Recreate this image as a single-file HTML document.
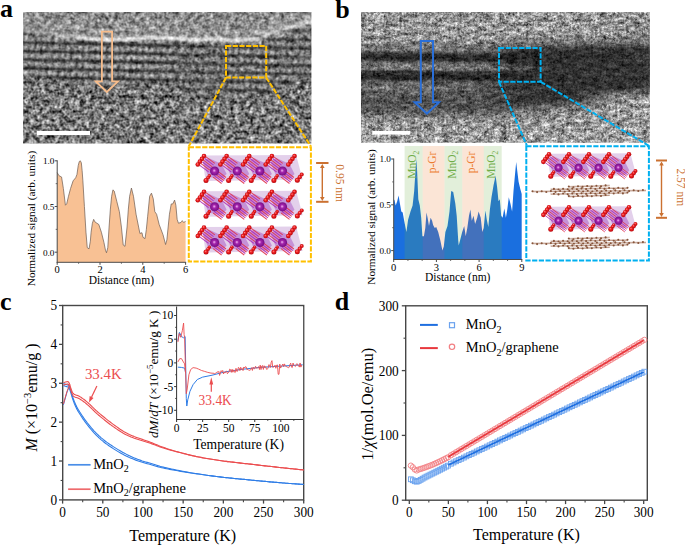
<!DOCTYPE html><html><head><meta charset="utf-8"><style>html,body{margin:0;padding:0;background:#fff;}svg{display:block;}text{font-family:"Liberation Serif",serif;}</style></head><body>
<svg width="685" height="545" viewBox="0 0 685 545">
<defs>
<radialGradient id="gR" cx="0.5" cy="0.5" fx="0.38" fy="0.35" r="0.55"><stop offset="0" stop-color="#ff8c8c"/><stop offset="0.4" stop-color="#f02424"/><stop offset="1" stop-color="#b00008"/></radialGradient>
<radialGradient id="gM" cx="0.5" cy="0.5" fx="0.45" fy="0.45" r="0.55"><stop offset="0" stop-color="#f4b4f4"/><stop offset="0.35" stop-color="#a424ac"/><stop offset="1" stop-color="#6c0a7c"/></radialGradient>
<filter id="nzA" x="23" y="12" width="290" height="132" filterUnits="userSpaceOnUse" color-interpolation-filters="sRGB">
<feGaussianBlur in="SourceGraphic" stdDeviation="0.5" result="src"/>
<feColorMatrix in="src" type="matrix" values="1 0 0 0 0 1 0 0 0 0 1 0 0 0 0 0 0 0 0 1" result="base"/>
<feColorMatrix in="src" type="matrix" values="0 1 0 0 0 0 1 0 0 0 0 1 0 0 0 0 0 0 0 1" result="amp"/>
<feTurbulence type="fractalNoise" baseFrequency="0.2" numOctaves="2" seed="7" result="n0"/><feGaussianBlur in="n0" stdDeviation="0.5" result="n1"/>
<feTurbulence type="fractalNoise" baseFrequency="0.45" numOctaves="1" seed="12" result="m0"/><feGaussianBlur in="m0" stdDeviation="0.35" result="m1"/>
<feComposite in="n1" in2="m1" operator="arithmetic" k1="0" k2="0.65" k3="0.35" k4="0" result="n2"/>
<feColorMatrix in="n2" type="matrix" values="1 0 0 0 0 1 0 0 0 0 1 0 0 0 0 0 0 0 0 1" result="n"/>
<feComposite in="amp" in2="n" operator="arithmetic" k1="3.6" k2="-1.8" k3="0" k4="0.5" result="t"/>
<feComposite in="base" in2="t" operator="arithmetic" k1="0" k2="1" k3="1" k4="-0.5"/>
</filter>
<filter id="nzB" x="361" y="12" width="290" height="132" filterUnits="userSpaceOnUse" color-interpolation-filters="sRGB">
<feGaussianBlur in="SourceGraphic" stdDeviation="0.5" result="src"/>
<feColorMatrix in="src" type="matrix" values="1 0 0 0 0 1 0 0 0 0 1 0 0 0 0 0 0 0 0 1" result="base"/>
<feColorMatrix in="src" type="matrix" values="0 1 0 0 0 0 1 0 0 0 0 1 0 0 0 0 0 0 0 1" result="amp"/>
<feTurbulence type="fractalNoise" baseFrequency="0.12 0.22" numOctaves="4" seed="11" result="n0"/><feGaussianBlur in="n0" stdDeviation="0.3" result="n1"/>
<feTurbulence type="fractalNoise" baseFrequency="0.45" numOctaves="2" seed="16" result="m0"/><feGaussianBlur in="m0" stdDeviation="0.35" result="m1"/>
<feComposite in="n1" in2="m1" operator="arithmetic" k1="0" k2="0.5" k3="0.5" k4="0" result="n2"/>
<feColorMatrix in="n2" type="matrix" values="1 0 0 0 0 1 0 0 0 0 1 0 0 0 0 0 0 0 0 1" result="n"/>
<feComposite in="amp" in2="n" operator="arithmetic" k1="4.0" k2="-2.0" k3="0" k4="0.5" result="t"/>
<feComposite in="base" in2="t" operator="arithmetic" k1="0" k2="1" k3="1" k4="-0.5"/>
</filter>
<filter id="hb" x="0" y="0" width="685" height="200" filterUnits="userSpaceOnUse"><feGaussianBlur stdDeviation="5 0.6"/></filter>
<filter id="lb" x="0" y="0" width="685" height="200" filterUnits="userSpaceOnUse"><feGaussianBlur stdDeviation="0.8"/></filter>
<pattern id="lat" width="6" height="8.6" patternUnits="userSpaceOnUse" patternTransform="translate(0,1) rotate(1.2)">
<rect x="0" y="5.2" width="6" height="2.8" fill="rgb(42,30,0)"/>
<circle cx="3" cy="2.5" r="1.7" fill="rgb(215,45,0)"/>
<circle cx="0" cy="2.5" r="1.1" fill="rgb(70,35,0)"/><circle cx="6" cy="2.5" r="1.1" fill="rgb(70,35,0)"/>
</pattern>
<clipPath id="cA"><rect x="23.2" y="12.1" width="288.2" height="131.4"/></clipPath>
<clipPath id="cB"><rect x="361" y="11.9" width="288.9" height="130.9"/></clipPath>
</defs>
<rect width="685" height="545" fill="#fff"/>
<g clip-path="url(#cA)"><g filter="url(#nzA)">
<g filter="url(#hb)">
<linearGradient id="ga0" gradientUnits="userSpaceOnUse" x1="0" y1="8" x2="0" y2="148"><stop offset="0.000" stop-color="rgb(138,92,0)"/><stop offset="0.078" stop-color="rgb(140,89,0)"/><stop offset="0.087" stop-color="rgb(141,83,0)"/><stop offset="0.092" stop-color="rgb(143,79,0)"/><stop offset="0.101" stop-color="rgb(144,77,0)"/><stop offset="0.103" stop-color="rgb(144,77,0)"/><stop offset="0.112" stop-color="rgb(143,76,0)"/><stop offset="0.138" stop-color="rgb(139,71,0)"/><stop offset="0.147" stop-color="rgb(146,63,0)"/><stop offset="0.154" stop-color="rgb(153,55,0)"/><stop offset="0.163" stop-color="rgb(154,53,0)"/><stop offset="0.166" stop-color="rgb(154,53,0)"/><stop offset="0.175" stop-color="rgb(129,75,0)"/><stop offset="0.181" stop-color="rgb(107,95,0)"/><stop offset="0.190" stop-color="rgb(100,101,0)"/><stop offset="0.217" stop-color="rgb(98,101,0)"/><stop offset="0.226" stop-color="rgb(98,101,0)"/><stop offset="0.474" stop-color="rgb(102,107,0)"/><stop offset="0.483" stop-color="rgb(104,109,0)"/><stop offset="0.546" stop-color="rgb(118,130,0)"/><stop offset="0.555" stop-color="rgb(118,130,0)"/><stop offset="1.000" stop-color="rgb(120,130,0)"/></linearGradient>
<rect x="14.0" y="8" width="8.6" height="140" fill="url(#ga0)"/>
<linearGradient id="ga1" gradientUnits="userSpaceOnUse" x1="0" y1="8" x2="0" y2="148"><stop offset="0.000" stop-color="rgb(138,92,0)"/><stop offset="0.078" stop-color="rgb(140,89,0)"/><stop offset="0.087" stop-color="rgb(140,87,0)"/><stop offset="0.092" stop-color="rgb(142,83,0)"/><stop offset="0.101" stop-color="rgb(145,77,0)"/><stop offset="0.103" stop-color="rgb(145,77,0)"/><stop offset="0.112" stop-color="rgb(144,77,0)"/><stop offset="0.138" stop-color="rgb(140,72,0)"/><stop offset="0.147" stop-color="rgb(142,68,0)"/><stop offset="0.154" stop-color="rgb(149,61,0)"/><stop offset="0.163" stop-color="rgb(157,53,0)"/><stop offset="0.166" stop-color="rgb(156,53,0)"/><stop offset="0.175" stop-color="rgb(147,61,0)"/><stop offset="0.181" stop-color="rgb(124,81,0)"/><stop offset="0.190" stop-color="rgb(100,101,0)"/><stop offset="0.217" stop-color="rgb(98,101,0)"/><stop offset="0.226" stop-color="rgb(98,101,0)"/><stop offset="0.474" stop-color="rgb(102,107,0)"/><stop offset="0.483" stop-color="rgb(103,107,0)"/><stop offset="0.546" stop-color="rgb(117,128,0)"/><stop offset="0.555" stop-color="rgb(118,130,0)"/><stop offset="1.000" stop-color="rgb(120,130,0)"/></linearGradient>
<rect x="22.0" y="8" width="8.6" height="140" fill="url(#ga1)"/>
<linearGradient id="ga2" gradientUnits="userSpaceOnUse" x1="0" y1="8" x2="0" y2="148"><stop offset="0.000" stop-color="rgb(138,93,0)"/><stop offset="0.087" stop-color="rgb(140,89,0)"/><stop offset="0.100" stop-color="rgb(144,80,0)"/><stop offset="0.101" stop-color="rgb(144,79,0)"/><stop offset="0.112" stop-color="rgb(145,77,0)"/><stop offset="0.114" stop-color="rgb(145,77,0)"/><stop offset="0.125" stop-color="rgb(143,75,0)"/><stop offset="0.147" stop-color="rgb(140,72,0)"/><stop offset="0.161" stop-color="rgb(152,59,0)"/><stop offset="0.163" stop-color="rgb(155,56,0)"/><stop offset="0.175" stop-color="rgb(157,54,0)"/><stop offset="0.176" stop-color="rgb(152,58,0)"/><stop offset="0.188" stop-color="rgb(119,85,0)"/><stop offset="0.190" stop-color="rgb(110,93,0)"/><stop offset="0.204" stop-color="rgb(99,101,0)"/><stop offset="0.226" stop-color="rgb(98,101,0)"/><stop offset="0.239" stop-color="rgb(98,101,0)"/><stop offset="0.483" stop-color="rgb(102,107,0)"/><stop offset="0.496" stop-color="rgb(104,110,0)"/><stop offset="0.555" stop-color="rgb(117,129,0)"/><stop offset="0.568" stop-color="rgb(118,130,0)"/><stop offset="1.000" stop-color="rgb(120,130,0)"/></linearGradient>
<rect x="30.0" y="8" width="8.6" height="140" fill="url(#ga2)"/>
<linearGradient id="ga3" gradientUnits="userSpaceOnUse" x1="0" y1="8" x2="0" y2="148"><stop offset="0.000" stop-color="rgb(138,93,0)"/><stop offset="0.087" stop-color="rgb(140,89,0)"/><stop offset="0.100" stop-color="rgb(142,84,0)"/><stop offset="0.101" stop-color="rgb(143,84,0)"/><stop offset="0.112" stop-color="rgb(146,78,0)"/><stop offset="0.114" stop-color="rgb(147,77,0)"/><stop offset="0.125" stop-color="rgb(143,76,0)"/><stop offset="0.147" stop-color="rgb(141,72,0)"/><stop offset="0.161" stop-color="rgb(146,65,0)"/><stop offset="0.163" stop-color="rgb(149,62,0)"/><stop offset="0.175" stop-color="rgb(158,55,0)"/><stop offset="0.176" stop-color="rgb(157,56,0)"/><stop offset="0.188" stop-color="rgb(140,69,0)"/><stop offset="0.190" stop-color="rgb(131,77,0)"/><stop offset="0.204" stop-color="rgb(100,101,0)"/><stop offset="0.226" stop-color="rgb(98,101,0)"/><stop offset="0.239" stop-color="rgb(98,101,0)"/><stop offset="0.483" stop-color="rgb(102,106,0)"/><stop offset="0.496" stop-color="rgb(103,108,0)"/><stop offset="0.555" stop-color="rgb(116,128,0)"/><stop offset="0.568" stop-color="rgb(118,130,0)"/><stop offset="1.000" stop-color="rgb(120,130,0)"/></linearGradient>
<rect x="38.0" y="8" width="8.6" height="140" fill="url(#ga3)"/>
<linearGradient id="ga4" gradientUnits="userSpaceOnUse" x1="0" y1="8" x2="0" y2="148"><stop offset="0.000" stop-color="rgb(137,93,0)"/><stop offset="0.087" stop-color="rgb(140,89,0)"/><stop offset="0.100" stop-color="rgb(140,89,0)"/><stop offset="0.101" stop-color="rgb(141,88,0)"/><stop offset="0.112" stop-color="rgb(147,79,0)"/><stop offset="0.114" stop-color="rgb(149,77,0)"/><stop offset="0.125" stop-color="rgb(144,77,0)"/><stop offset="0.147" stop-color="rgb(142,73,0)"/><stop offset="0.161" stop-color="rgb(140,71,0)"/><stop offset="0.163" stop-color="rgb(144,68,0)"/><stop offset="0.175" stop-color="rgb(160,55,0)"/><stop offset="0.176" stop-color="rgb(162,53,0)"/><stop offset="0.188" stop-color="rgb(160,53,0)"/><stop offset="0.190" stop-color="rgb(151,61,0)"/><stop offset="0.204" stop-color="rgb(100,101,0)"/><stop offset="0.226" stop-color="rgb(99,101,0)"/><stop offset="0.239" stop-color="rgb(98,101,0)"/><stop offset="0.483" stop-color="rgb(102,106,0)"/><stop offset="0.496" stop-color="rgb(102,107,0)"/><stop offset="0.555" stop-color="rgb(115,126,0)"/><stop offset="0.568" stop-color="rgb(118,130,0)"/><stop offset="1.000" stop-color="rgb(120,130,0)"/></linearGradient>
<rect x="46.0" y="8" width="8.6" height="140" fill="url(#ga4)"/>
<linearGradient id="ga5" gradientUnits="userSpaceOnUse" x1="0" y1="8" x2="0" y2="148"><stop offset="0.000" stop-color="rgb(137,93,0)"/><stop offset="0.100" stop-color="rgb(140,89,0)"/><stop offset="0.114" stop-color="rgb(145,82,0)"/><stop offset="0.119" stop-color="rgb(144,82,0)"/><stop offset="0.125" stop-color="rgb(147,80,0)"/><stop offset="0.133" stop-color="rgb(154,76,0)"/><stop offset="0.144" stop-color="rgb(143,75,0)"/><stop offset="0.161" stop-color="rgb(142,72,0)"/><stop offset="0.176" stop-color="rgb(155,61,0)"/><stop offset="0.180" stop-color="rgb(155,60,0)"/><stop offset="0.188" stop-color="rgb(164,57,0)"/><stop offset="0.195" stop-color="rgb(155,67,0)"/><stop offset="0.204" stop-color="rgb(135,82,0)"/><stop offset="0.207" stop-color="rgb(134,82,0)"/><stop offset="0.223" stop-color="rgb(99,101,0)"/><stop offset="0.239" stop-color="rgb(98,101,0)"/><stop offset="0.258" stop-color="rgb(98,101,0)"/><stop offset="0.496" stop-color="rgb(102,106,0)"/><stop offset="0.515" stop-color="rgb(105,110,0)"/><stop offset="0.568" stop-color="rgb(116,128,0)"/><stop offset="0.587" stop-color="rgb(118,130,0)"/><stop offset="1.000" stop-color="rgb(120,130,0)"/></linearGradient>
<rect x="54.0" y="8" width="8.6" height="140" fill="url(#ga5)"/>
<linearGradient id="ga6" gradientUnits="userSpaceOnUse" x1="0" y1="8" x2="0" y2="148"><stop offset="0.000" stop-color="rgb(137,93,0)"/><stop offset="0.100" stop-color="rgb(140,89,0)"/><stop offset="0.114" stop-color="rgb(142,87,0)"/><stop offset="0.119" stop-color="rgb(141,87,0)"/><stop offset="0.125" stop-color="rgb(151,82,0)"/><stop offset="0.133" stop-color="rgb(165,77,0)"/><stop offset="0.144" stop-color="rgb(144,76,0)"/><stop offset="0.161" stop-color="rgb(143,74,0)"/><stop offset="0.176" stop-color="rgb(148,68,0)"/><stop offset="0.180" stop-color="rgb(148,68,0)"/><stop offset="0.188" stop-color="rgb(167,60,0)"/><stop offset="0.195" stop-color="rgb(178,58,0)"/><stop offset="0.204" stop-color="rgb(170,63,0)"/><stop offset="0.207" stop-color="rgb(169,63,0)"/><stop offset="0.223" stop-color="rgb(100,101,0)"/><stop offset="0.239" stop-color="rgb(99,101,0)"/><stop offset="0.258" stop-color="rgb(98,101,0)"/><stop offset="0.496" stop-color="rgb(102,106,0)"/><stop offset="0.515" stop-color="rgb(103,108,0)"/><stop offset="0.568" stop-color="rgb(115,125,0)"/><stop offset="0.587" stop-color="rgb(118,130,0)"/><stop offset="1.000" stop-color="rgb(120,130,0)"/></linearGradient>
<rect x="62.0" y="8" width="8.6" height="140" fill="url(#ga6)"/>
<linearGradient id="ga7" gradientUnits="userSpaceOnUse" x1="0" y1="8" x2="0" y2="148"><stop offset="0.000" stop-color="rgb(137,93,0)"/><stop offset="0.119" stop-color="rgb(140,89,0)"/><stop offset="0.133" stop-color="rgb(164,79,0)"/><stop offset="0.137" stop-color="rgb(156,79,0)"/><stop offset="0.144" stop-color="rgb(146,78,0)"/><stop offset="0.151" stop-color="rgb(149,76,0)"/><stop offset="0.162" stop-color="rgb(144,75,0)"/><stop offset="0.180" stop-color="rgb(145,72,0)"/><stop offset="0.195" stop-color="rgb(182,57,0)"/><stop offset="0.198" stop-color="rgb(181,57,0)"/><stop offset="0.207" stop-color="rgb(186,55,0)"/><stop offset="0.214" stop-color="rgb(162,70,0)"/><stop offset="0.223" stop-color="rgb(121,91,0)"/><stop offset="0.225" stop-color="rgb(121,91,0)"/><stop offset="0.241" stop-color="rgb(99,101,0)"/><stop offset="0.258" stop-color="rgb(98,101,0)"/><stop offset="0.276" stop-color="rgb(98,101,0)"/><stop offset="0.515" stop-color="rgb(102,107,0)"/><stop offset="0.534" stop-color="rgb(105,111,0)"/><stop offset="0.587" stop-color="rgb(117,129,0)"/><stop offset="0.605" stop-color="rgb(118,130,0)"/><stop offset="1.000" stop-color="rgb(120,130,0)"/></linearGradient>
<rect x="70.0" y="8" width="8.6" height="140" fill="url(#ga7)"/>
<linearGradient id="ga8" gradientUnits="userSpaceOnUse" x1="0" y1="8" x2="0" y2="148"><stop offset="0.000" stop-color="rgb(137,93,0)"/><stop offset="0.119" stop-color="rgb(140,89,0)"/><stop offset="0.133" stop-color="rgb(152,84,0)"/><stop offset="0.137" stop-color="rgb(148,84,0)"/><stop offset="0.144" stop-color="rgb(150,81,0)"/><stop offset="0.151" stop-color="rgb(160,77,0)"/><stop offset="0.162" stop-color="rgb(144,76,0)"/><stop offset="0.180" stop-color="rgb(145,73,0)"/><stop offset="0.195" stop-color="rgb(165,64,0)"/><stop offset="0.198" stop-color="rgb(165,64,0)"/><stop offset="0.207" stop-color="rgb(185,58,0)"/><stop offset="0.214" stop-color="rgb(186,62,0)"/><stop offset="0.223" stop-color="rgb(164,72,0)"/><stop offset="0.225" stop-color="rgb(163,72,0)"/><stop offset="0.241" stop-color="rgb(100,101,0)"/><stop offset="0.258" stop-color="rgb(99,101,0)"/><stop offset="0.276" stop-color="rgb(98,101,0)"/><stop offset="0.515" stop-color="rgb(102,106,0)"/><stop offset="0.534" stop-color="rgb(104,109,0)"/><stop offset="0.587" stop-color="rgb(116,127,0)"/><stop offset="0.605" stop-color="rgb(118,130,0)"/><stop offset="1.000" stop-color="rgb(120,130,0)"/></linearGradient>
<rect x="78.0" y="8" width="8.6" height="140" fill="url(#ga8)"/>
<linearGradient id="ga9" gradientUnits="userSpaceOnUse" x1="0" y1="8" x2="0" y2="148"><stop offset="0.000" stop-color="rgb(137,93,0)"/><stop offset="0.119" stop-color="rgb(140,89,0)"/><stop offset="0.133" stop-color="rgb(140,89,0)"/><stop offset="0.137" stop-color="rgb(140,89,0)"/><stop offset="0.144" stop-color="rgb(154,83,0)"/><stop offset="0.151" stop-color="rgb(170,77,0)"/><stop offset="0.162" stop-color="rgb(144,77,0)"/><stop offset="0.180" stop-color="rgb(146,74,0)"/><stop offset="0.195" stop-color="rgb(148,72,0)"/><stop offset="0.198" stop-color="rgb(148,71,0)"/><stop offset="0.207" stop-color="rgb(184,61,0)"/><stop offset="0.214" stop-color="rgb(211,53,0)"/><stop offset="0.223" stop-color="rgb(207,53,0)"/><stop offset="0.225" stop-color="rgb(206,53,0)"/><stop offset="0.241" stop-color="rgb(100,101,0)"/><stop offset="0.258" stop-color="rgb(99,101,0)"/><stop offset="0.276" stop-color="rgb(98,101,0)"/><stop offset="0.515" stop-color="rgb(102,106,0)"/><stop offset="0.534" stop-color="rgb(102,107,0)"/><stop offset="0.587" stop-color="rgb(114,124,0)"/><stop offset="0.605" stop-color="rgb(118,130,0)"/><stop offset="1.000" stop-color="rgb(120,130,0)"/></linearGradient>
<rect x="86.0" y="8" width="8.6" height="140" fill="url(#ga9)"/>
<linearGradient id="ga10" gradientUnits="userSpaceOnUse" x1="0" y1="8" x2="0" y2="148"><stop offset="0.000" stop-color="rgb(137,93,0)"/><stop offset="0.137" stop-color="rgb(140,89,0)"/><stop offset="0.145" stop-color="rgb(150,85,0)"/><stop offset="0.151" stop-color="rgb(163,80,0)"/><stop offset="0.159" stop-color="rgb(158,77,0)"/><stop offset="0.162" stop-color="rgb(152,77,0)"/><stop offset="0.170" stop-color="rgb(145,76,0)"/><stop offset="0.198" stop-color="rgb(148,72,0)"/><stop offset="0.206" stop-color="rgb(167,66,0)"/><stop offset="0.214" stop-color="rgb(198,57,0)"/><stop offset="0.222" stop-color="rgb(209,53,0)"/><stop offset="0.225" stop-color="rgb(207,53,0)"/><stop offset="0.233" stop-color="rgb(173,68,0)"/><stop offset="0.241" stop-color="rgb(122,91,0)"/><stop offset="0.249" stop-color="rgb(100,101,0)"/><stop offset="0.276" stop-color="rgb(98,101,0)"/><stop offset="0.284" stop-color="rgb(98,101,0)"/><stop offset="0.534" stop-color="rgb(102,107,0)"/><stop offset="0.542" stop-color="rgb(103,108,0)"/><stop offset="0.605" stop-color="rgb(117,129,0)"/><stop offset="0.613" stop-color="rgb(118,130,0)"/><stop offset="1.000" stop-color="rgb(120,130,0)"/></linearGradient>
<rect x="94.0" y="8" width="8.6" height="140" fill="url(#ga10)"/>
<linearGradient id="ga11" gradientUnits="userSpaceOnUse" x1="0" y1="8" x2="0" y2="148"><stop offset="0.000" stop-color="rgb(137,93,0)"/><stop offset="0.137" stop-color="rgb(140,89,0)"/><stop offset="0.145" stop-color="rgb(143,88,0)"/><stop offset="0.151" stop-color="rgb(156,82,0)"/><stop offset="0.159" stop-color="rgb(166,77,0)"/><stop offset="0.162" stop-color="rgb(160,77,0)"/><stop offset="0.170" stop-color="rgb(144,77,0)"/><stop offset="0.198" stop-color="rgb(147,72,0)"/><stop offset="0.206" stop-color="rgb(154,69,0)"/><stop offset="0.214" stop-color="rgb(185,61,0)"/><stop offset="0.222" stop-color="rgb(210,53,0)"/><stop offset="0.225" stop-color="rgb(209,53,0)"/><stop offset="0.233" stop-color="rgb(195,58,0)"/><stop offset="0.241" stop-color="rgb(144,81,0)"/><stop offset="0.249" stop-color="rgb(100,101,0)"/><stop offset="0.276" stop-color="rgb(98,101,0)"/><stop offset="0.284" stop-color="rgb(98,101,0)"/><stop offset="0.534" stop-color="rgb(102,107,0)"/><stop offset="0.542" stop-color="rgb(102,107,0)"/><stop offset="0.605" stop-color="rgb(117,128,0)"/><stop offset="0.613" stop-color="rgb(118,130,0)"/><stop offset="1.000" stop-color="rgb(120,130,0)"/></linearGradient>
<rect x="102.0" y="8" width="8.6" height="140" fill="url(#ga11)"/>
<linearGradient id="ga12" gradientUnits="userSpaceOnUse" x1="0" y1="8" x2="0" y2="148"><stop offset="0.000" stop-color="rgb(137,93,0)"/><stop offset="0.142" stop-color="rgb(140,89,0)"/><stop offset="0.145" stop-color="rgb(141,88,0)"/><stop offset="0.157" stop-color="rgb(165,79,0)"/><stop offset="0.159" stop-color="rgb(169,77,0)"/><stop offset="0.167" stop-color="rgb(150,77,0)"/><stop offset="0.170" stop-color="rgb(144,77,0)"/><stop offset="0.203" stop-color="rgb(148,71,0)"/><stop offset="0.206" stop-color="rgb(150,70,0)"/><stop offset="0.219" stop-color="rgb(202,56,0)"/><stop offset="0.222" stop-color="rgb(211,53,0)"/><stop offset="0.230" stop-color="rgb(207,53,0)"/><stop offset="0.233" stop-color="rgb(202,55,0)"/><stop offset="0.246" stop-color="rgb(116,94,0)"/><stop offset="0.249" stop-color="rgb(100,101,0)"/><stop offset="0.282" stop-color="rgb(98,101,0)"/><stop offset="0.284" stop-color="rgb(98,101,0)"/><stop offset="0.539" stop-color="rgb(102,107,0)"/><stop offset="0.542" stop-color="rgb(102,107,0)"/><stop offset="0.610" stop-color="rgb(117,130,0)"/><stop offset="0.613" stop-color="rgb(118,130,0)"/><stop offset="1.000" stop-color="rgb(120,130,0)"/></linearGradient>
<rect x="110.0" y="8" width="8.6" height="140" fill="url(#ga12)"/>
<linearGradient id="ga13" gradientUnits="userSpaceOnUse" x1="0" y1="8" x2="0" y2="148"><stop offset="0.000" stop-color="rgb(137,93,0)"/><stop offset="0.142" stop-color="rgb(140,89,0)"/><stop offset="0.145" stop-color="rgb(144,87,0)"/><stop offset="0.157" stop-color="rgb(167,78,0)"/><stop offset="0.159" stop-color="rgb(166,77,0)"/><stop offset="0.167" stop-color="rgb(147,77,0)"/><stop offset="0.170" stop-color="rgb(144,77,0)"/><stop offset="0.203" stop-color="rgb(148,71,0)"/><stop offset="0.206" stop-color="rgb(155,69,0)"/><stop offset="0.219" stop-color="rgb(206,55,0)"/><stop offset="0.222" stop-color="rgb(210,53,0)"/><stop offset="0.230" stop-color="rgb(206,53,0)"/><stop offset="0.233" stop-color="rgb(194,59,0)"/><stop offset="0.246" stop-color="rgb(108,97,0)"/><stop offset="0.249" stop-color="rgb(100,101,0)"/><stop offset="0.282" stop-color="rgb(98,101,0)"/><stop offset="0.284" stop-color="rgb(98,101,0)"/><stop offset="0.539" stop-color="rgb(102,107,0)"/><stop offset="0.542" stop-color="rgb(102,107,0)"/><stop offset="0.610" stop-color="rgb(118,130,0)"/><stop offset="0.613" stop-color="rgb(118,130,0)"/><stop offset="1.000" stop-color="rgb(120,130,0)"/></linearGradient>
<rect x="118.0" y="8" width="8.6" height="140" fill="url(#ga13)"/>
<linearGradient id="ga14" gradientUnits="userSpaceOnUse" x1="0" y1="8" x2="0" y2="148"><stop offset="0.000" stop-color="rgb(137,93,0)"/><stop offset="0.142" stop-color="rgb(140,89,0)"/><stop offset="0.145" stop-color="rgb(146,86,0)"/><stop offset="0.157" stop-color="rgb(170,77,0)"/><stop offset="0.159" stop-color="rgb(163,77,0)"/><stop offset="0.167" stop-color="rgb(144,77,0)"/><stop offset="0.170" stop-color="rgb(144,77,0)"/><stop offset="0.203" stop-color="rgb(148,71,0)"/><stop offset="0.206" stop-color="rgb(160,68,0)"/><stop offset="0.219" stop-color="rgb(211,53,0)"/><stop offset="0.222" stop-color="rgb(210,53,0)"/><stop offset="0.230" stop-color="rgb(206,53,0)"/><stop offset="0.233" stop-color="rgb(186,62,0)"/><stop offset="0.246" stop-color="rgb(100,101,0)"/><stop offset="0.249" stop-color="rgb(100,101,0)"/><stop offset="0.282" stop-color="rgb(98,101,0)"/><stop offset="0.284" stop-color="rgb(98,101,0)"/><stop offset="0.539" stop-color="rgb(102,107,0)"/><stop offset="0.542" stop-color="rgb(103,108,0)"/><stop offset="0.610" stop-color="rgb(118,130,0)"/><stop offset="0.613" stop-color="rgb(118,130,0)"/><stop offset="1.000" stop-color="rgb(120,130,0)"/></linearGradient>
<rect x="126.0" y="8" width="8.6" height="140" fill="url(#ga14)"/>
<linearGradient id="ga15" gradientUnits="userSpaceOnUse" x1="0" y1="8" x2="0" y2="148"><stop offset="0.000" stop-color="rgb(137,93,0)"/><stop offset="0.129" stop-color="rgb(140,89,0)"/><stop offset="0.142" stop-color="rgb(148,84,0)"/><stop offset="0.143" stop-color="rgb(150,84,0)"/><stop offset="0.154" stop-color="rgb(156,78,0)"/><stop offset="0.157" stop-color="rgb(160,77,0)"/><stop offset="0.167" stop-color="rgb(145,76,0)"/><stop offset="0.190" stop-color="rgb(147,72,0)"/><stop offset="0.203" stop-color="rgb(169,65,0)"/><stop offset="0.206" stop-color="rgb(179,62,0)"/><stop offset="0.217" stop-color="rgb(205,55,0)"/><stop offset="0.219" stop-color="rgb(204,55,0)"/><stop offset="0.230" stop-color="rgb(170,69,0)"/><stop offset="0.233" stop-color="rgb(153,77,0)"/><stop offset="0.246" stop-color="rgb(100,101,0)"/><stop offset="0.268" stop-color="rgb(98,101,0)"/><stop offset="0.282" stop-color="rgb(98,101,0)"/><stop offset="0.525" stop-color="rgb(102,106,0)"/><stop offset="0.539" stop-color="rgb(103,108,0)"/><stop offset="0.597" stop-color="rgb(116,128,0)"/><stop offset="0.610" stop-color="rgb(118,130,0)"/><stop offset="1.000" stop-color="rgb(120,130,0)"/></linearGradient>
<rect x="134.0" y="8" width="8.6" height="140" fill="url(#ga15)"/>
<linearGradient id="ga16" gradientUnits="userSpaceOnUse" x1="0" y1="8" x2="0" y2="148"><stop offset="0.000" stop-color="rgb(137,93,0)"/><stop offset="0.129" stop-color="rgb(140,89,0)"/><stop offset="0.142" stop-color="rgb(156,80,0)"/><stop offset="0.143" stop-color="rgb(157,79,0)"/><stop offset="0.154" stop-color="rgb(148,77,0)"/><stop offset="0.157" stop-color="rgb(149,77,0)"/><stop offset="0.167" stop-color="rgb(145,75,0)"/><stop offset="0.190" stop-color="rgb(148,72,0)"/><stop offset="0.203" stop-color="rgb(190,59,0)"/><stop offset="0.206" stop-color="rgb(200,56,0)"/><stop offset="0.217" stop-color="rgb(206,54,0)"/><stop offset="0.219" stop-color="rgb(197,58,0)"/><stop offset="0.230" stop-color="rgb(135,85,0)"/><stop offset="0.233" stop-color="rgb(118,93,0)"/><stop offset="0.246" stop-color="rgb(99,101,0)"/><stop offset="0.268" stop-color="rgb(98,101,0)"/><stop offset="0.282" stop-color="rgb(98,101,0)"/><stop offset="0.525" stop-color="rgb(102,107,0)"/><stop offset="0.539" stop-color="rgb(104,110,0)"/><stop offset="0.597" stop-color="rgb(117,129,0)"/><stop offset="0.610" stop-color="rgb(118,130,0)"/><stop offset="1.000" stop-color="rgb(120,130,0)"/></linearGradient>
<rect x="142.0" y="8" width="8.6" height="140" fill="url(#ga16)"/>
<linearGradient id="ga17" gradientUnits="userSpaceOnUse" x1="0" y1="8" x2="0" y2="148"><stop offset="0.000" stop-color="rgb(137,93,0)"/><stop offset="0.129" stop-color="rgb(140,89,0)"/><stop offset="0.134" stop-color="rgb(146,85,0)"/><stop offset="0.143" stop-color="rgb(158,78,0)"/><stop offset="0.149" stop-color="rgb(153,77,0)"/><stop offset="0.154" stop-color="rgb(145,77,0)"/><stop offset="0.159" stop-color="rgb(144,76,0)"/><stop offset="0.190" stop-color="rgb(148,71,0)"/><stop offset="0.195" stop-color="rgb(165,66,0)"/><stop offset="0.206" stop-color="rgb(207,55,0)"/><stop offset="0.211" stop-color="rgb(209,53,0)"/><stop offset="0.217" stop-color="rgb(206,53,0)"/><stop offset="0.222" stop-color="rgb(178,66,0)"/><stop offset="0.233" stop-color="rgb(107,98,0)"/><stop offset="0.238" stop-color="rgb(100,101,0)"/><stop offset="0.268" stop-color="rgb(98,101,0)"/><stop offset="0.274" stop-color="rgb(98,101,0)"/><stop offset="0.525" stop-color="rgb(102,107,0)"/><stop offset="0.531" stop-color="rgb(103,108,0)"/><stop offset="0.597" stop-color="rgb(118,130,0)"/><stop offset="0.602" stop-color="rgb(118,130,0)"/><stop offset="1.000" stop-color="rgb(120,130,0)"/></linearGradient>
<rect x="150.0" y="8" width="8.6" height="140" fill="url(#ga17)"/>
<linearGradient id="ga18" gradientUnits="userSpaceOnUse" x1="0" y1="8" x2="0" y2="148"><stop offset="0.000" stop-color="rgb(137,93,0)"/><stop offset="0.129" stop-color="rgb(140,89,0)"/><stop offset="0.134" stop-color="rgb(143,87,0)"/><stop offset="0.143" stop-color="rgb(153,80,0)"/><stop offset="0.149" stop-color="rgb(152,77,0)"/><stop offset="0.154" stop-color="rgb(146,77,0)"/><stop offset="0.159" stop-color="rgb(144,77,0)"/><stop offset="0.190" stop-color="rgb(148,72,0)"/><stop offset="0.195" stop-color="rgb(156,69,0)"/><stop offset="0.206" stop-color="rgb(198,57,0)"/><stop offset="0.211" stop-color="rgb(210,53,0)"/><stop offset="0.217" stop-color="rgb(207,53,0)"/><stop offset="0.222" stop-color="rgb(192,60,0)"/><stop offset="0.233" stop-color="rgb(121,91,0)"/><stop offset="0.238" stop-color="rgb(100,101,0)"/><stop offset="0.268" stop-color="rgb(98,101,0)"/><stop offset="0.274" stop-color="rgb(98,101,0)"/><stop offset="0.525" stop-color="rgb(102,107,0)"/><stop offset="0.531" stop-color="rgb(102,107,0)"/><stop offset="0.597" stop-color="rgb(117,129,0)"/><stop offset="0.602" stop-color="rgb(118,130,0)"/><stop offset="1.000" stop-color="rgb(120,130,0)"/></linearGradient>
<rect x="158.0" y="8" width="8.6" height="140" fill="url(#ga18)"/>
<linearGradient id="ga19" gradientUnits="userSpaceOnUse" x1="0" y1="8" x2="0" y2="148"><stop offset="0.000" stop-color="rgb(137,93,0)"/><stop offset="0.129" stop-color="rgb(140,89,0)"/><stop offset="0.134" stop-color="rgb(140,89,0)"/><stop offset="0.143" stop-color="rgb(148,81,0)"/><stop offset="0.149" stop-color="rgb(152,77,0)"/><stop offset="0.154" stop-color="rgb(148,77,0)"/><stop offset="0.159" stop-color="rgb(144,77,0)"/><stop offset="0.190" stop-color="rgb(147,72,0)"/><stop offset="0.195" stop-color="rgb(148,71,0)"/><stop offset="0.206" stop-color="rgb(190,59,0)"/><stop offset="0.211" stop-color="rgb(211,53,0)"/><stop offset="0.217" stop-color="rgb(208,53,0)"/><stop offset="0.222" stop-color="rgb(206,53,0)"/><stop offset="0.233" stop-color="rgb(135,85,0)"/><stop offset="0.238" stop-color="rgb(100,101,0)"/><stop offset="0.268" stop-color="rgb(98,101,0)"/><stop offset="0.274" stop-color="rgb(98,101,0)"/><stop offset="0.525" stop-color="rgb(102,107,0)"/><stop offset="0.531" stop-color="rgb(102,107,0)"/><stop offset="0.597" stop-color="rgb(117,129,0)"/><stop offset="0.602" stop-color="rgb(118,130,0)"/><stop offset="1.000" stop-color="rgb(120,130,0)"/></linearGradient>
<rect x="166.0" y="8" width="8.6" height="140" fill="url(#ga19)"/>
<linearGradient id="ga20" gradientUnits="userSpaceOnUse" x1="0" y1="8" x2="0" y2="148"><stop offset="0.000" stop-color="rgb(137,93,0)"/><stop offset="0.134" stop-color="rgb(140,89,0)"/><stop offset="0.145" stop-color="rgb(146,83,0)"/><stop offset="0.149" stop-color="rgb(148,81,0)"/><stop offset="0.159" stop-color="rgb(146,77,0)"/><stop offset="0.160" stop-color="rgb(146,77,0)"/><stop offset="0.170" stop-color="rgb(145,76,0)"/><stop offset="0.195" stop-color="rgb(148,72,0)"/><stop offset="0.206" stop-color="rgb(174,64,0)"/><stop offset="0.211" stop-color="rgb(193,58,0)"/><stop offset="0.222" stop-color="rgb(208,53,0)"/><stop offset="0.222" stop-color="rgb(208,53,0)"/><stop offset="0.233" stop-color="rgb(161,73,0)"/><stop offset="0.238" stop-color="rgb(130,87,0)"/><stop offset="0.249" stop-color="rgb(100,101,0)"/><stop offset="0.274" stop-color="rgb(98,101,0)"/><stop offset="0.285" stop-color="rgb(98,101,0)"/><stop offset="0.531" stop-color="rgb(102,106,0)"/><stop offset="0.602" stop-color="rgb(112,121,0)"/><stop offset="0.620" stop-color="rgb(112,121,0)"/><stop offset="0.692" stop-color="rgb(118,130,0)"/><stop offset="1.000" stop-color="rgb(120,130,0)"/></linearGradient>
<rect x="174.0" y="8" width="8.6" height="140" fill="url(#ga20)"/>
<linearGradient id="ga21" gradientUnits="userSpaceOnUse" x1="0" y1="8" x2="0" y2="148"><stop offset="0.000" stop-color="rgb(137,93,0)"/><stop offset="0.134" stop-color="rgb(140,89,0)"/><stop offset="0.145" stop-color="rgb(142,87,0)"/><stop offset="0.149" stop-color="rgb(144,84,0)"/><stop offset="0.159" stop-color="rgb(148,77,0)"/><stop offset="0.160" stop-color="rgb(148,77,0)"/><stop offset="0.170" stop-color="rgb(144,77,0)"/><stop offset="0.195" stop-color="rgb(147,73,0)"/><stop offset="0.206" stop-color="rgb(157,69,0)"/><stop offset="0.211" stop-color="rgb(176,63,0)"/><stop offset="0.222" stop-color="rgb(210,53,0)"/><stop offset="0.222" stop-color="rgb(210,53,0)"/><stop offset="0.233" stop-color="rgb(191,60,0)"/><stop offset="0.238" stop-color="rgb(159,74,0)"/><stop offset="0.249" stop-color="rgb(100,101,0)"/><stop offset="0.274" stop-color="rgb(98,101,0)"/><stop offset="0.285" stop-color="rgb(98,101,0)"/><stop offset="0.531" stop-color="rgb(101,105,0)"/><stop offset="0.602" stop-color="rgb(105,111,0)"/><stop offset="0.620" stop-color="rgb(105,111,0)"/><stop offset="0.692" stop-color="rgb(118,130,0)"/><stop offset="1.000" stop-color="rgb(120,130,0)"/></linearGradient>
<rect x="182.0" y="8" width="8.6" height="140" fill="url(#ga21)"/>
<linearGradient id="ga22" gradientUnits="userSpaceOnUse" x1="0" y1="8" x2="0" y2="148"><stop offset="0.000" stop-color="rgb(137,93,0)"/><stop offset="0.140" stop-color="rgb(140,89,0)"/><stop offset="0.145" stop-color="rgb(140,88,0)"/><stop offset="0.154" stop-color="rgb(146,81,0)"/><stop offset="0.160" stop-color="rgb(148,77,0)"/><stop offset="0.165" stop-color="rgb(146,77,0)"/><stop offset="0.170" stop-color="rgb(144,77,0)"/><stop offset="0.200" stop-color="rgb(148,72,0)"/><stop offset="0.206" stop-color="rgb(152,70,0)"/><stop offset="0.216" stop-color="rgb(193,58,0)"/><stop offset="0.222" stop-color="rgb(211,53,0)"/><stop offset="0.228" stop-color="rgb(208,53,0)"/><stop offset="0.233" stop-color="rgb(198,57,0)"/><stop offset="0.243" stop-color="rgb(130,87,0)"/><stop offset="0.249" stop-color="rgb(100,101,0)"/><stop offset="0.279" stop-color="rgb(98,101,0)"/><stop offset="0.285" stop-color="rgb(98,101,0)"/><stop offset="0.615" stop-color="rgb(102,107,0)"/><stop offset="0.620" stop-color="rgb(102,107,0)"/><stop offset="0.686" stop-color="rgb(117,129,0)"/><stop offset="0.692" stop-color="rgb(118,130,0)"/><stop offset="1.000" stop-color="rgb(120,130,0)"/></linearGradient>
<rect x="190.0" y="8" width="8.6" height="140" fill="url(#ga22)"/>
<linearGradient id="ga23" gradientUnits="userSpaceOnUse" x1="0" y1="8" x2="0" y2="148"><stop offset="0.000" stop-color="rgb(137,93,0)"/><stop offset="0.140" stop-color="rgb(140,89,0)"/><stop offset="0.145" stop-color="rgb(141,86,0)"/><stop offset="0.154" stop-color="rgb(146,79,0)"/><stop offset="0.160" stop-color="rgb(147,77,0)"/><stop offset="0.165" stop-color="rgb(145,77,0)"/><stop offset="0.170" stop-color="rgb(144,76,0)"/><stop offset="0.200" stop-color="rgb(148,71,0)"/><stop offset="0.206" stop-color="rgb(161,67,0)"/><stop offset="0.216" stop-color="rgb(202,56,0)"/><stop offset="0.222" stop-color="rgb(210,53,0)"/><stop offset="0.228" stop-color="rgb(207,53,0)"/><stop offset="0.233" stop-color="rgb(183,63,0)"/><stop offset="0.243" stop-color="rgb(115,94,0)"/><stop offset="0.249" stop-color="rgb(100,101,0)"/><stop offset="0.279" stop-color="rgb(98,101,0)"/><stop offset="0.285" stop-color="rgb(98,101,0)"/><stop offset="0.615" stop-color="rgb(102,107,0)"/><stop offset="0.620" stop-color="rgb(103,108,0)"/><stop offset="0.686" stop-color="rgb(118,130,0)"/><stop offset="0.692" stop-color="rgb(118,130,0)"/><stop offset="1.000" stop-color="rgb(120,130,0)"/></linearGradient>
<rect x="198.0" y="8" width="8.6" height="140" fill="url(#ga23)"/>
<linearGradient id="ga24" gradientUnits="userSpaceOnUse" x1="0" y1="8" x2="0" y2="148"><stop offset="0.000" stop-color="rgb(137,93,0)"/><stop offset="0.140" stop-color="rgb(140,89,0)"/><stop offset="0.145" stop-color="rgb(142,84,0)"/><stop offset="0.154" stop-color="rgb(146,77,0)"/><stop offset="0.160" stop-color="rgb(145,77,0)"/><stop offset="0.165" stop-color="rgb(144,77,0)"/><stop offset="0.170" stop-color="rgb(145,76,0)"/><stop offset="0.200" stop-color="rgb(148,71,0)"/><stop offset="0.206" stop-color="rgb(170,65,0)"/><stop offset="0.216" stop-color="rgb(211,53,0)"/><stop offset="0.222" stop-color="rgb(209,53,0)"/><stop offset="0.228" stop-color="rgb(206,53,0)"/><stop offset="0.233" stop-color="rgb(168,70,0)"/><stop offset="0.243" stop-color="rgb(100,101,0)"/><stop offset="0.249" stop-color="rgb(100,101,0)"/><stop offset="0.279" stop-color="rgb(98,101,0)"/><stop offset="0.285" stop-color="rgb(98,101,0)"/><stop offset="0.615" stop-color="rgb(102,107,0)"/><stop offset="0.620" stop-color="rgb(103,109,0)"/><stop offset="0.686" stop-color="rgb(118,130,0)"/><stop offset="0.692" stop-color="rgb(118,130,0)"/><stop offset="1.000" stop-color="rgb(120,130,0)"/></linearGradient>
<rect x="206.0" y="8" width="8.6" height="140" fill="url(#ga24)"/>
<linearGradient id="ga25" gradientUnits="userSpaceOnUse" x1="0" y1="8" x2="0" y2="148"><stop offset="0.000" stop-color="rgb(137,93,0)"/><stop offset="0.140" stop-color="rgb(140,89,0)"/><stop offset="0.152" stop-color="rgb(143,83,0)"/><stop offset="0.154" stop-color="rgb(144,81,0)"/><stop offset="0.165" stop-color="rgb(143,78,0)"/><stop offset="0.166" stop-color="rgb(144,77,0)"/><stop offset="0.177" stop-color="rgb(145,76,0)"/><stop offset="0.200" stop-color="rgb(147,72,0)"/><stop offset="0.213" stop-color="rgb(178,63,0)"/><stop offset="0.216" stop-color="rgb(191,59,0)"/><stop offset="0.228" stop-color="rgb(206,54,0)"/><stop offset="0.229" stop-color="rgb(204,55,0)"/><stop offset="0.240" stop-color="rgb(156,76,0)"/><stop offset="0.243" stop-color="rgb(134,86,0)"/><stop offset="0.256" stop-color="rgb(100,101,0)"/><stop offset="0.279" stop-color="rgb(98,101,0)"/><stop offset="0.291" stop-color="rgb(98,101,0)"/><stop offset="0.615" stop-color="rgb(102,107,0)"/><stop offset="0.627" stop-color="rgb(104,109,0)"/><stop offset="0.686" stop-color="rgb(117,129,0)"/><stop offset="0.699" stop-color="rgb(118,130,0)"/><stop offset="1.000" stop-color="rgb(120,130,0)"/></linearGradient>
<rect x="214.0" y="8" width="8.6" height="140" fill="url(#ga25)"/>
<linearGradient id="ga26" gradientUnits="userSpaceOnUse" x1="0" y1="8" x2="0" y2="148"><stop offset="0.000" stop-color="rgb(137,93,0)"/><stop offset="0.140" stop-color="rgb(140,89,0)"/><stop offset="0.152" stop-color="rgb(141,87,0)"/><stop offset="0.154" stop-color="rgb(142,85,0)"/><stop offset="0.165" stop-color="rgb(143,78,0)"/><stop offset="0.166" stop-color="rgb(143,77,0)"/><stop offset="0.177" stop-color="rgb(144,77,0)"/><stop offset="0.200" stop-color="rgb(147,73,0)"/><stop offset="0.213" stop-color="rgb(158,68,0)"/><stop offset="0.216" stop-color="rgb(171,65,0)"/><stop offset="0.228" stop-color="rgb(207,54,0)"/><stop offset="0.229" stop-color="rgb(209,54,0)"/><stop offset="0.240" stop-color="rgb(189,61,0)"/><stop offset="0.243" stop-color="rgb(167,71,0)"/><stop offset="0.256" stop-color="rgb(100,101,0)"/><stop offset="0.279" stop-color="rgb(99,101,0)"/><stop offset="0.291" stop-color="rgb(98,101,0)"/><stop offset="0.615" stop-color="rgb(102,106,0)"/><stop offset="0.627" stop-color="rgb(103,107,0)"/><stop offset="0.686" stop-color="rgb(116,127,0)"/><stop offset="0.699" stop-color="rgb(118,130,0)"/><stop offset="1.000" stop-color="rgb(120,130,0)"/></linearGradient>
<rect x="222.0" y="8" width="8.6" height="140" fill="url(#ga26)"/>
<linearGradient id="ga27" gradientUnits="userSpaceOnUse" x1="0" y1="8" x2="0" y2="148"><stop offset="0.000" stop-color="rgb(137,93,0)"/><stop offset="0.142" stop-color="rgb(140,89,0)"/><stop offset="0.152" stop-color="rgb(140,87,0)"/><stop offset="0.156" stop-color="rgb(141,84,0)"/><stop offset="0.166" stop-color="rgb(143,77,0)"/><stop offset="0.167" stop-color="rgb(143,77,0)"/><stop offset="0.177" stop-color="rgb(144,77,0)"/><stop offset="0.203" stop-color="rgb(147,72,0)"/><stop offset="0.213" stop-color="rgb(156,69,0)"/><stop offset="0.219" stop-color="rgb(179,62,0)"/><stop offset="0.229" stop-color="rgb(210,53,0)"/><stop offset="0.230" stop-color="rgb(209,53,0)"/><stop offset="0.240" stop-color="rgb(193,59,0)"/><stop offset="0.246" stop-color="rgb(154,77,0)"/><stop offset="0.256" stop-color="rgb(100,101,0)"/><stop offset="0.281" stop-color="rgb(98,101,0)"/><stop offset="0.291" stop-color="rgb(98,101,0)"/><stop offset="0.617" stop-color="rgb(102,107,0)"/><stop offset="0.627" stop-color="rgb(102,107,0)"/><stop offset="0.689" stop-color="rgb(116,128,0)"/><stop offset="0.699" stop-color="rgb(118,130,0)"/><stop offset="1.000" stop-color="rgb(120,130,0)"/></linearGradient>
<rect x="230.0" y="8" width="8.6" height="140" fill="url(#ga27)"/>
<linearGradient id="ga28" gradientUnits="userSpaceOnUse" x1="0" y1="8" x2="0" y2="148"><stop offset="0.000" stop-color="rgb(137,93,0)"/><stop offset="0.142" stop-color="rgb(140,89,0)"/><stop offset="0.152" stop-color="rgb(140,84,0)"/><stop offset="0.156" stop-color="rgb(140,80,0)"/><stop offset="0.166" stop-color="rgb(143,77,0)"/><stop offset="0.167" stop-color="rgb(144,77,0)"/><stop offset="0.177" stop-color="rgb(145,76,0)"/><stop offset="0.203" stop-color="rgb(148,72,0)"/><stop offset="0.213" stop-color="rgb(172,64,0)"/><stop offset="0.219" stop-color="rgb(195,58,0)"/><stop offset="0.229" stop-color="rgb(208,53,0)"/><stop offset="0.230" stop-color="rgb(208,53,0)"/><stop offset="0.240" stop-color="rgb(166,71,0)"/><stop offset="0.246" stop-color="rgb(127,89,0)"/><stop offset="0.256" stop-color="rgb(100,101,0)"/><stop offset="0.281" stop-color="rgb(98,101,0)"/><stop offset="0.291" stop-color="rgb(98,101,0)"/><stop offset="0.617" stop-color="rgb(102,107,0)"/><stop offset="0.627" stop-color="rgb(103,109,0)"/><stop offset="0.689" stop-color="rgb(117,129,0)"/><stop offset="0.699" stop-color="rgb(118,130,0)"/><stop offset="1.000" stop-color="rgb(120,130,0)"/></linearGradient>
<rect x="238.0" y="8" width="8.6" height="140" fill="url(#ga28)"/>
<linearGradient id="ga29" gradientUnits="userSpaceOnUse" x1="0" y1="8" x2="0" y2="148"><stop offset="0.000" stop-color="rgb(137,93,0)"/><stop offset="0.142" stop-color="rgb(140,89,0)"/><stop offset="0.152" stop-color="rgb(140,81,0)"/><stop offset="0.156" stop-color="rgb(140,77,0)"/><stop offset="0.166" stop-color="rgb(144,77,0)"/><stop offset="0.167" stop-color="rgb(144,77,0)"/><stop offset="0.177" stop-color="rgb(145,75,0)"/><stop offset="0.203" stop-color="rgb(148,71,0)"/><stop offset="0.213" stop-color="rgb(188,60,0)"/><stop offset="0.219" stop-color="rgb(211,53,0)"/><stop offset="0.229" stop-color="rgb(207,53,0)"/><stop offset="0.230" stop-color="rgb(206,53,0)"/><stop offset="0.240" stop-color="rgb(139,84,0)"/><stop offset="0.246" stop-color="rgb(100,101,0)"/><stop offset="0.256" stop-color="rgb(99,101,0)"/><stop offset="0.281" stop-color="rgb(98,101,0)"/><stop offset="0.291" stop-color="rgb(98,101,0)"/><stop offset="0.617" stop-color="rgb(102,107,0)"/><stop offset="0.627" stop-color="rgb(104,110,0)"/><stop offset="0.689" stop-color="rgb(118,130,0)"/><stop offset="0.699" stop-color="rgb(118,130,0)"/><stop offset="1.000" stop-color="rgb(120,130,0)"/></linearGradient>
<rect x="246.0" y="8" width="8.6" height="140" fill="url(#ga29)"/>
<linearGradient id="ga30" gradientUnits="userSpaceOnUse" x1="0" y1="8" x2="0" y2="148"><stop offset="0.000" stop-color="rgb(137,93,0)"/><stop offset="0.096" stop-color="rgb(139,90,0)"/><stop offset="0.111" stop-color="rgb(140,85,0)"/><stop offset="0.121" stop-color="rgb(141,85,0)"/><stop offset="0.142" stop-color="rgb(143,83,0)"/><stop offset="0.156" stop-color="rgb(143,75,0)"/><stop offset="0.157" stop-color="rgb(143,75,0)"/><stop offset="0.167" stop-color="rgb(162,70,0)"/><stop offset="0.173" stop-color="rgb(171,67,0)"/><stop offset="0.184" stop-color="rgb(170,66,0)"/><stop offset="0.200" stop-color="rgb(129,83,0)"/><stop offset="0.203" stop-color="rgb(129,83,0)"/><stop offset="0.219" stop-color="rgb(166,72,0)"/><stop offset="0.230" stop-color="rgb(163,72,0)"/><stop offset="0.236" stop-color="rgb(140,83,0)"/><stop offset="0.246" stop-color="rgb(99,101,0)"/><stop offset="0.281" stop-color="rgb(98,101,0)"/><stop offset="0.571" stop-color="rgb(102,106,0)"/><stop offset="0.617" stop-color="rgb(106,113,0)"/><stop offset="0.643" stop-color="rgb(112,121,0)"/><stop offset="0.689" stop-color="rgb(118,130,0)"/><stop offset="1.000" stop-color="rgb(120,130,0)"/></linearGradient>
<rect x="254.0" y="8" width="8.6" height="140" fill="url(#ga30)"/>
<linearGradient id="ga31" gradientUnits="userSpaceOnUse" x1="0" y1="8" x2="0" y2="148"><stop offset="0.000" stop-color="rgb(137,93,0)"/><stop offset="0.096" stop-color="rgb(140,89,0)"/><stop offset="0.111" stop-color="rgb(140,80,0)"/><stop offset="0.121" stop-color="rgb(143,80,0)"/><stop offset="0.142" stop-color="rgb(145,77,0)"/><stop offset="0.156" stop-color="rgb(146,72,0)"/><stop offset="0.157" stop-color="rgb(146,72,0)"/><stop offset="0.167" stop-color="rgb(179,63,0)"/><stop offset="0.173" stop-color="rgb(198,58,0)"/><stop offset="0.184" stop-color="rgb(194,58,0)"/><stop offset="0.200" stop-color="rgb(110,95,0)"/><stop offset="0.203" stop-color="rgb(109,95,0)"/><stop offset="0.219" stop-color="rgb(121,91,0)"/><stop offset="0.230" stop-color="rgb(120,91,0)"/><stop offset="0.236" stop-color="rgb(112,95,0)"/><stop offset="0.246" stop-color="rgb(98,101,0)"/><stop offset="0.281" stop-color="rgb(98,101,0)"/><stop offset="0.571" stop-color="rgb(102,107,0)"/><stop offset="0.617" stop-color="rgb(110,119,0)"/><stop offset="0.643" stop-color="rgb(116,127,0)"/><stop offset="0.689" stop-color="rgb(118,130,0)"/><stop offset="1.000" stop-color="rgb(120,130,0)"/></linearGradient>
<rect x="262.0" y="8" width="8.6" height="140" fill="url(#ga31)"/>
<linearGradient id="ga32" gradientUnits="userSpaceOnUse" x1="0" y1="8" x2="0" y2="148"><stop offset="0.000" stop-color="rgb(138,92,0)"/><stop offset="0.056" stop-color="rgb(139,90,0)"/><stop offset="0.070" stop-color="rgb(139,87,0)"/><stop offset="0.081" stop-color="rgb(140,87,0)"/><stop offset="0.096" stop-color="rgb(141,86,0)"/><stop offset="0.111" stop-color="rgb(141,76,0)"/><stop offset="0.116" stop-color="rgb(143,76,0)"/><stop offset="0.121" stop-color="rgb(149,75,0)"/><stop offset="0.132" stop-color="rgb(158,71,0)"/><stop offset="0.143" stop-color="rgb(158,69,0)"/><stop offset="0.157" stop-color="rgb(141,76,0)"/><stop offset="0.159" stop-color="rgb(145,75,0)"/><stop offset="0.173" stop-color="rgb(189,63,0)"/><stop offset="0.184" stop-color="rgb(185,63,0)"/><stop offset="0.195" stop-color="rgb(127,89,0)"/><stop offset="0.200" stop-color="rgb(100,101,0)"/><stop offset="0.236" stop-color="rgb(98,101,0)"/><stop offset="0.531" stop-color="rgb(102,106,0)"/><stop offset="0.571" stop-color="rgb(104,109,0)"/><stop offset="0.602" stop-color="rgb(111,120,0)"/><stop offset="0.643" stop-color="rgb(118,130,0)"/><stop offset="1.000" stop-color="rgb(120,130,0)"/></linearGradient>
<rect x="270.0" y="8" width="8.6" height="140" fill="url(#ga32)"/>
<linearGradient id="ga33" gradientUnits="userSpaceOnUse" x1="0" y1="8" x2="0" y2="148"><stop offset="0.000" stop-color="rgb(138,92,0)"/><stop offset="0.056" stop-color="rgb(140,90,0)"/><stop offset="0.070" stop-color="rgb(140,82,0)"/><stop offset="0.081" stop-color="rgb(142,82,0)"/><stop offset="0.096" stop-color="rgb(143,80,0)"/><stop offset="0.111" stop-color="rgb(144,74,0)"/><stop offset="0.116" stop-color="rgb(146,73,0)"/><stop offset="0.121" stop-color="rgb(159,70,0)"/><stop offset="0.132" stop-color="rgb(185,62,0)"/><stop offset="0.143" stop-color="rgb(182,61,0)"/><stop offset="0.157" stop-color="rgb(127,85,0)"/><stop offset="0.159" stop-color="rgb(123,88,0)"/><stop offset="0.173" stop-color="rgb(144,82,0)"/><stop offset="0.184" stop-color="rgb(142,82,0)"/><stop offset="0.195" stop-color="rgb(112,95,0)"/><stop offset="0.200" stop-color="rgb(99,101,0)"/><stop offset="0.236" stop-color="rgb(98,101,0)"/><stop offset="0.531" stop-color="rgb(102,106,0)"/><stop offset="0.571" stop-color="rgb(107,115,0)"/><stop offset="0.602" stop-color="rgb(114,125,0)"/><stop offset="0.643" stop-color="rgb(118,130,0)"/><stop offset="1.000" stop-color="rgb(120,130,0)"/></linearGradient>
<rect x="278.0" y="8" width="8.6" height="140" fill="url(#ga33)"/>
<linearGradient id="ga34" gradientUnits="userSpaceOnUse" x1="0" y1="8" x2="0" y2="148"><stop offset="0.000" stop-color="rgb(138,92,0)"/><stop offset="0.056" stop-color="rgb(140,89,0)"/><stop offset="0.070" stop-color="rgb(140,77,0)"/><stop offset="0.081" stop-color="rgb(144,77,0)"/><stop offset="0.096" stop-color="rgb(146,74,0)"/><stop offset="0.111" stop-color="rgb(147,72,0)"/><stop offset="0.116" stop-color="rgb(148,71,0)"/><stop offset="0.121" stop-color="rgb(168,65,0)"/><stop offset="0.132" stop-color="rgb(211,53,0)"/><stop offset="0.143" stop-color="rgb(206,53,0)"/><stop offset="0.157" stop-color="rgb(114,95,0)"/><stop offset="0.159" stop-color="rgb(100,101,0)"/><stop offset="0.173" stop-color="rgb(99,101,0)"/><stop offset="0.184" stop-color="rgb(99,101,0)"/><stop offset="0.195" stop-color="rgb(98,101,0)"/><stop offset="0.200" stop-color="rgb(98,101,0)"/><stop offset="0.236" stop-color="rgb(98,101,0)"/><stop offset="0.531" stop-color="rgb(102,107,0)"/><stop offset="0.571" stop-color="rgb(111,120,0)"/><stop offset="0.602" stop-color="rgb(118,130,0)"/><stop offset="0.643" stop-color="rgb(118,130,0)"/><stop offset="1.000" stop-color="rgb(120,130,0)"/></linearGradient>
<rect x="286.0" y="8" width="8.6" height="140" fill="url(#ga34)"/>
<linearGradient id="ga35" gradientUnits="userSpaceOnUse" x1="0" y1="8" x2="0" y2="148"><stop offset="0.000" stop-color="rgb(138,91,0)"/><stop offset="0.020" stop-color="rgb(139,90,0)"/><stop offset="0.034" stop-color="rgb(140,85,0)"/><stop offset="0.045" stop-color="rgb(141,84,0)"/><stop offset="0.056" stop-color="rgb(142,83,0)"/><stop offset="0.070" stop-color="rgb(143,75,0)"/><stop offset="0.080" stop-color="rgb(146,75,0)"/><stop offset="0.081" stop-color="rgb(146,74,0)"/><stop offset="0.096" stop-color="rgb(172,66,0)"/><stop offset="0.107" stop-color="rgb(171,65,0)"/><stop offset="0.116" stop-color="rgb(147,75,0)"/><stop offset="0.123" stop-color="rgb(145,78,0)"/><stop offset="0.132" stop-color="rgb(166,72,0)"/><stop offset="0.143" stop-color="rgb(163,72,0)"/><stop offset="0.159" stop-color="rgb(101,100,0)"/><stop offset="0.159" stop-color="rgb(99,101,0)"/><stop offset="0.195" stop-color="rgb(98,101,0)"/><stop offset="0.495" stop-color="rgb(102,106,0)"/><stop offset="0.531" stop-color="rgb(105,111,0)"/><stop offset="0.566" stop-color="rgb(113,123,0)"/><stop offset="0.602" stop-color="rgb(118,130,0)"/><stop offset="1.000" stop-color="rgb(120,130,0)"/></linearGradient>
<rect x="294.0" y="8" width="8.6" height="140" fill="url(#ga35)"/>
<linearGradient id="ga36" gradientUnits="userSpaceOnUse" x1="0" y1="8" x2="0" y2="148"><stop offset="0.000" stop-color="rgb(139,91,0)"/><stop offset="0.020" stop-color="rgb(140,89,0)"/><stop offset="0.034" stop-color="rgb(140,80,0)"/><stop offset="0.045" stop-color="rgb(143,80,0)"/><stop offset="0.056" stop-color="rgb(144,78,0)"/><stop offset="0.070" stop-color="rgb(145,74,0)"/><stop offset="0.080" stop-color="rgb(147,72,0)"/><stop offset="0.081" stop-color="rgb(149,72,0)"/><stop offset="0.096" stop-color="rgb(198,58,0)"/><stop offset="0.107" stop-color="rgb(194,57,0)"/><stop offset="0.116" stop-color="rgb(146,79,0)"/><stop offset="0.123" stop-color="rgb(115,93,0)"/><stop offset="0.132" stop-color="rgb(122,91,0)"/><stop offset="0.143" stop-color="rgb(120,91,0)"/><stop offset="0.159" stop-color="rgb(99,101,0)"/><stop offset="0.159" stop-color="rgb(98,101,0)"/><stop offset="0.195" stop-color="rgb(98,101,0)"/><stop offset="0.495" stop-color="rgb(102,107,0)"/><stop offset="0.531" stop-color="rgb(108,116,0)"/><stop offset="0.566" stop-color="rgb(116,128,0)"/><stop offset="0.602" stop-color="rgb(118,130,0)"/><stop offset="1.000" stop-color="rgb(120,130,0)"/></linearGradient>
<rect x="302.0" y="8" width="8.6" height="140" fill="url(#ga36)"/>
<linearGradient id="ga37" gradientUnits="userSpaceOnUse" x1="0" y1="8" x2="0" y2="148"><stop offset="0.000" stop-color="rgb(139,90,0)"/><stop offset="0.004" stop-color="rgb(139,90,0)"/><stop offset="0.018" stop-color="rgb(140,86,0)"/><stop offset="0.020" stop-color="rgb(140,86,0)"/><stop offset="0.029" stop-color="rgb(141,80,0)"/><stop offset="0.034" stop-color="rgb(141,77,0)"/><stop offset="0.045" stop-color="rgb(144,76,0)"/><stop offset="0.064" stop-color="rgb(147,73,0)"/><stop offset="0.080" stop-color="rgb(165,66,0)"/><stop offset="0.080" stop-color="rgb(165,66,0)"/><stop offset="0.091" stop-color="rgb(196,57,0)"/><stop offset="0.096" stop-color="rgb(202,57,0)"/><stop offset="0.107" stop-color="rgb(178,66,0)"/><stop offset="0.107" stop-color="rgb(178,66,0)"/><stop offset="0.123" stop-color="rgb(100,101,0)"/><stop offset="0.143" stop-color="rgb(99,101,0)"/><stop offset="0.159" stop-color="rgb(98,101,0)"/><stop offset="0.479" stop-color="rgb(102,106,0)"/><stop offset="0.495" stop-color="rgb(103,108,0)"/><stop offset="0.550" stop-color="rgb(115,126,0)"/><stop offset="0.566" stop-color="rgb(118,130,0)"/><stop offset="1.000" stop-color="rgb(120,130,0)"/></linearGradient>
<rect x="310.0" y="8" width="8.6" height="140" fill="url(#ga37)"/>
<linearGradient id="ga38" gradientUnits="userSpaceOnUse" x1="0" y1="8" x2="0" y2="148"><stop offset="0.000" stop-color="rgb(140,89,0)"/><stop offset="0.004" stop-color="rgb(140,89,0)"/><stop offset="0.018" stop-color="rgb(140,79,0)"/><stop offset="0.020" stop-color="rgb(140,79,0)"/><stop offset="0.029" stop-color="rgb(143,78,0)"/><stop offset="0.034" stop-color="rgb(144,76,0)"/><stop offset="0.045" stop-color="rgb(145,75,0)"/><stop offset="0.064" stop-color="rgb(148,72,0)"/><stop offset="0.080" stop-color="rgb(198,57,0)"/><stop offset="0.080" stop-color="rgb(198,57,0)"/><stop offset="0.091" stop-color="rgb(203,54,0)"/><stop offset="0.096" stop-color="rgb(183,64,0)"/><stop offset="0.107" stop-color="rgb(121,91,0)"/><stop offset="0.107" stop-color="rgb(121,91,0)"/><stop offset="0.123" stop-color="rgb(99,101,0)"/><stop offset="0.143" stop-color="rgb(98,101,0)"/><stop offset="0.159" stop-color="rgb(98,101,0)"/><stop offset="0.479" stop-color="rgb(102,107,0)"/><stop offset="0.495" stop-color="rgb(105,111,0)"/><stop offset="0.550" stop-color="rgb(117,129,0)"/><stop offset="0.566" stop-color="rgb(118,130,0)"/><stop offset="1.000" stop-color="rgb(120,130,0)"/></linearGradient>
<rect x="318.0" y="8" width="8.6" height="140" fill="url(#ga38)"/>
</g>
<g filter="url(#lb)" opacity="1.0">
<polygon points="20.00,33.77 25.00,34.18 30.00,34.64 35.00,35.09 40.00,35.55 45.00,36.00 50.00,36.50 55.00,37.00 60.00,37.50 65.00,38.33 70.00,39.15 75.00,39.98 80.00,40.80 85.00,41.41 90.00,41.70 95.00,41.98 100.00,42.26 105.00,42.55 110.00,42.83 115.00,42.95 120.00,42.81 125.00,42.68 130.00,42.42 135.00,41.95 140.00,41.49 145.00,41.03 150.00,40.57 155.00,40.27 160.00,40.61 165.00,40.96 170.00,41.30 175.00,41.68 175.00,82.68 170.00,82.30 165.00,81.96 160.00,81.61 155.00,81.27 150.00,81.57 145.00,82.03 140.00,82.49 135.00,82.95 130.00,83.42 125.00,83.68 120.00,83.81 115.00,83.95 110.00,83.83 105.00,83.55 100.00,83.26 95.00,82.98 90.00,82.70 85.00,82.41 80.00,81.80 75.00,80.98 70.00,80.15 65.00,79.33 60.00,78.50 55.00,78.00 50.00,77.50 45.00,77.00 40.00,76.55 35.00,76.09 30.00,75.64 25.00,75.18 20.00,74.77" fill="url(#lat)" stroke="none" stroke-width="1" />
</g>
<g filter="url(#lb)" opacity="0.55">
<polygon points="175.00,41.68 180.00,42.07 185.00,42.45 190.00,42.84 195.00,43.22 200.00,42.95 205.00,42.50 210.00,42.06 215.00,41.62 220.00,41.18 225.00,42.05 225.00,94.05 220.00,93.18 215.00,93.62 210.00,94.06 205.00,94.50 200.00,94.95 195.00,95.22 190.00,94.84 185.00,94.45 180.00,94.07 175.00,82.68" fill="url(#lat)" stroke="none" stroke-width="1" />
</g>
<g filter="url(#lb)" opacity="0.85">
<polygon points="225.00,42.05 230.00,43.80 235.00,44.15 240.00,43.57 245.00,42.98 250.00,42.40 255.00,41.82 260.00,41.23 265.00,39.12 270.00,36.00 270.00,88.00 265.00,91.12 260.00,93.23 255.00,93.82 250.00,94.40 245.00,94.98 240.00,95.57 235.00,96.15 230.00,95.80 225.00,94.05" fill="url(#lat)" stroke="none" stroke-width="1" />
</g>
<g filter="url(#lb)" opacity="0.75">
<polygon points="270.00,36.00 275.00,34.57 280.00,33.14 285.00,31.71 290.00,30.29 295.00,28.86 300.00,27.54 305.00,26.38 310.00,25.23 315.00,24.11 320.00,23.00 321.00,23.00 321.00,75.00 316.00,75.89 311.00,77.00 306.00,78.15 301.00,79.31 296.00,80.57 291.00,82.00 286.00,83.43 281.00,84.86 276.00,86.29 271.00,87.71 270.00,88.00" fill="url(#lat)" stroke="none" stroke-width="1" />
</g>
<g filter="url(#lb)" opacity="0.9">
<polyline points="75.00,36.98 80.00,37.80 85.00,38.41 90.00,38.70 95.00,38.98 100.00,39.26 105.00,39.55 110.00,39.83 115.00,39.95 120.00,39.81 125.00,39.68 130.00,39.42 135.00,38.95 140.00,38.49 145.00,38.03 150.00,37.57 155.00,37.27 160.00,37.61 165.00,37.96 170.00,38.30 175.00,38.68 180.00,39.07 185.00,39.45 190.00,39.84 195.00,40.22 200.00,39.95 205.00,39.50 210.00,39.06 215.00,38.62 220.00,38.18 225.00,39.05 230.00,40.80 235.00,41.15 240.00,40.57 245.00,39.98 250.00,39.40 255.00,38.82 260.00,38.23 265.00,36.12 270.00,33.00 275.00,31.57 280.00,30.14 285.00,28.71 290.00,27.29 295.00,25.86 300.00,24.54 305.00,23.38 310.00,22.23 315.00,21.11 320.00,20.00" fill="none" stroke="rgb(230,40,0)" stroke-width="1.8" />
</g>
</g></g>
<g clip-path="url(#cB)"><g filter="url(#nzB)">
<g filter="url(#hb)">
<linearGradient id="gb0" gradientUnits="userSpaceOnUse" x1="0" y1="8" x2="0" y2="148"><stop offset="0.000" stop-color="rgb(149,100,0)"/><stop offset="0.229" stop-color="rgb(146,96,0)"/><stop offset="0.257" stop-color="rgb(124,80,0)"/><stop offset="0.279" stop-color="rgb(112,69,0)"/><stop offset="0.300" stop-color="rgb(122,75,0)"/><stop offset="0.314" stop-color="rgb(88,53,0)"/><stop offset="0.329" stop-color="rgb(47,39,0)"/><stop offset="0.357" stop-color="rgb(37,39,0)"/><stop offset="0.371" stop-color="rgb(48,44,0)"/><stop offset="0.386" stop-color="rgb(95,53,0)"/><stop offset="0.400" stop-color="rgb(108,64,0)"/><stop offset="0.421" stop-color="rgb(124,75,0)"/><stop offset="0.439" stop-color="rgb(106,59,0)"/><stop offset="0.454" stop-color="rgb(52,44,0)"/><stop offset="0.479" stop-color="rgb(34,39,0)"/><stop offset="0.507" stop-color="rgb(42,39,0)"/><stop offset="0.521" stop-color="rgb(85,53,0)"/><stop offset="0.550" stop-color="rgb(96,59,0)"/><stop offset="0.571" stop-color="rgb(116,69,0)"/><stop offset="0.593" stop-color="rgb(95,59,0)"/><stop offset="0.657" stop-color="rgb(82,53,0)"/><stop offset="0.714" stop-color="rgb(82,53,0)"/><stop offset="0.750" stop-color="rgb(100,67,0)"/><stop offset="0.779" stop-color="rgb(128,85,0)"/><stop offset="0.829" stop-color="rgb(148,101,0)"/><stop offset="1.000" stop-color="rgb(157,106,0)"/></linearGradient>
<rect x="352.0" y="8" width="8.6" height="140" fill="url(#gb0)"/>
<linearGradient id="gb1" gradientUnits="userSpaceOnUse" x1="0" y1="8" x2="0" y2="148"><stop offset="0.000" stop-color="rgb(149,100,0)"/><stop offset="0.229" stop-color="rgb(146,96,0)"/><stop offset="0.257" stop-color="rgb(124,80,0)"/><stop offset="0.279" stop-color="rgb(112,69,0)"/><stop offset="0.300" stop-color="rgb(122,75,0)"/><stop offset="0.314" stop-color="rgb(88,53,0)"/><stop offset="0.329" stop-color="rgb(47,39,0)"/><stop offset="0.357" stop-color="rgb(37,39,0)"/><stop offset="0.371" stop-color="rgb(48,44,0)"/><stop offset="0.386" stop-color="rgb(95,53,0)"/><stop offset="0.400" stop-color="rgb(108,64,0)"/><stop offset="0.421" stop-color="rgb(124,75,0)"/><stop offset="0.439" stop-color="rgb(106,59,0)"/><stop offset="0.454" stop-color="rgb(52,44,0)"/><stop offset="0.479" stop-color="rgb(34,39,0)"/><stop offset="0.507" stop-color="rgb(42,39,0)"/><stop offset="0.521" stop-color="rgb(85,53,0)"/><stop offset="0.550" stop-color="rgb(96,59,0)"/><stop offset="0.571" stop-color="rgb(116,69,0)"/><stop offset="0.593" stop-color="rgb(95,59,0)"/><stop offset="0.657" stop-color="rgb(82,53,0)"/><stop offset="0.714" stop-color="rgb(82,53,0)"/><stop offset="0.750" stop-color="rgb(100,67,0)"/><stop offset="0.779" stop-color="rgb(128,85,0)"/><stop offset="0.829" stop-color="rgb(148,101,0)"/><stop offset="1.000" stop-color="rgb(157,106,0)"/></linearGradient>
<rect x="360.0" y="8" width="8.6" height="140" fill="url(#gb1)"/>
<linearGradient id="gb2" gradientUnits="userSpaceOnUse" x1="0" y1="8" x2="0" y2="148"><stop offset="0.000" stop-color="rgb(149,100,0)"/><stop offset="0.229" stop-color="rgb(146,96,0)"/><stop offset="0.257" stop-color="rgb(124,80,0)"/><stop offset="0.279" stop-color="rgb(112,69,0)"/><stop offset="0.300" stop-color="rgb(122,75,0)"/><stop offset="0.314" stop-color="rgb(88,53,0)"/><stop offset="0.329" stop-color="rgb(47,39,0)"/><stop offset="0.357" stop-color="rgb(37,39,0)"/><stop offset="0.371" stop-color="rgb(48,44,0)"/><stop offset="0.386" stop-color="rgb(95,53,0)"/><stop offset="0.400" stop-color="rgb(108,64,0)"/><stop offset="0.421" stop-color="rgb(124,75,0)"/><stop offset="0.439" stop-color="rgb(106,59,0)"/><stop offset="0.454" stop-color="rgb(52,44,0)"/><stop offset="0.479" stop-color="rgb(34,39,0)"/><stop offset="0.507" stop-color="rgb(42,39,0)"/><stop offset="0.521" stop-color="rgb(85,53,0)"/><stop offset="0.550" stop-color="rgb(96,59,0)"/><stop offset="0.571" stop-color="rgb(116,69,0)"/><stop offset="0.593" stop-color="rgb(95,59,0)"/><stop offset="0.657" stop-color="rgb(82,53,0)"/><stop offset="0.714" stop-color="rgb(82,53,0)"/><stop offset="0.750" stop-color="rgb(100,67,0)"/><stop offset="0.779" stop-color="rgb(128,85,0)"/><stop offset="0.829" stop-color="rgb(148,101,0)"/><stop offset="1.000" stop-color="rgb(157,106,0)"/></linearGradient>
<rect x="368.0" y="8" width="8.6" height="140" fill="url(#gb2)"/>
<linearGradient id="gb3" gradientUnits="userSpaceOnUse" x1="0" y1="8" x2="0" y2="148"><stop offset="0.000" stop-color="rgb(149,100,0)"/><stop offset="0.229" stop-color="rgb(146,96,0)"/><stop offset="0.257" stop-color="rgb(124,80,0)"/><stop offset="0.279" stop-color="rgb(112,69,0)"/><stop offset="0.300" stop-color="rgb(122,75,0)"/><stop offset="0.314" stop-color="rgb(88,53,0)"/><stop offset="0.329" stop-color="rgb(47,39,0)"/><stop offset="0.357" stop-color="rgb(37,39,0)"/><stop offset="0.371" stop-color="rgb(48,44,0)"/><stop offset="0.386" stop-color="rgb(95,53,0)"/><stop offset="0.400" stop-color="rgb(108,64,0)"/><stop offset="0.421" stop-color="rgb(124,75,0)"/><stop offset="0.439" stop-color="rgb(106,59,0)"/><stop offset="0.454" stop-color="rgb(52,44,0)"/><stop offset="0.479" stop-color="rgb(34,39,0)"/><stop offset="0.507" stop-color="rgb(42,39,0)"/><stop offset="0.521" stop-color="rgb(85,53,0)"/><stop offset="0.550" stop-color="rgb(96,59,0)"/><stop offset="0.571" stop-color="rgb(116,69,0)"/><stop offset="0.593" stop-color="rgb(95,59,0)"/><stop offset="0.657" stop-color="rgb(82,53,0)"/><stop offset="0.714" stop-color="rgb(82,53,0)"/><stop offset="0.750" stop-color="rgb(100,67,0)"/><stop offset="0.779" stop-color="rgb(128,85,0)"/><stop offset="0.829" stop-color="rgb(148,101,0)"/><stop offset="1.000" stop-color="rgb(157,106,0)"/></linearGradient>
<rect x="376.0" y="8" width="8.6" height="140" fill="url(#gb3)"/>
<linearGradient id="gb4" gradientUnits="userSpaceOnUse" x1="0" y1="8" x2="0" y2="148"><stop offset="0.000" stop-color="rgb(149,100,0)"/><stop offset="0.229" stop-color="rgb(146,96,0)"/><stop offset="0.257" stop-color="rgb(124,80,0)"/><stop offset="0.279" stop-color="rgb(112,69,0)"/><stop offset="0.300" stop-color="rgb(122,75,0)"/><stop offset="0.314" stop-color="rgb(88,53,0)"/><stop offset="0.329" stop-color="rgb(47,39,0)"/><stop offset="0.357" stop-color="rgb(37,39,0)"/><stop offset="0.371" stop-color="rgb(48,44,0)"/><stop offset="0.386" stop-color="rgb(95,53,0)"/><stop offset="0.400" stop-color="rgb(108,64,0)"/><stop offset="0.421" stop-color="rgb(124,75,0)"/><stop offset="0.439" stop-color="rgb(106,59,0)"/><stop offset="0.454" stop-color="rgb(52,44,0)"/><stop offset="0.479" stop-color="rgb(34,39,0)"/><stop offset="0.507" stop-color="rgb(42,39,0)"/><stop offset="0.521" stop-color="rgb(85,53,0)"/><stop offset="0.550" stop-color="rgb(96,59,0)"/><stop offset="0.571" stop-color="rgb(116,69,0)"/><stop offset="0.593" stop-color="rgb(95,59,0)"/><stop offset="0.657" stop-color="rgb(82,53,0)"/><stop offset="0.714" stop-color="rgb(82,53,0)"/><stop offset="0.750" stop-color="rgb(100,67,0)"/><stop offset="0.779" stop-color="rgb(128,85,0)"/><stop offset="0.829" stop-color="rgb(148,101,0)"/><stop offset="1.000" stop-color="rgb(157,106,0)"/></linearGradient>
<rect x="384.0" y="8" width="8.6" height="140" fill="url(#gb4)"/>
<linearGradient id="gb5" gradientUnits="userSpaceOnUse" x1="0" y1="8" x2="0" y2="148"><stop offset="0.000" stop-color="rgb(149,100,0)"/><stop offset="0.229" stop-color="rgb(146,96,0)"/><stop offset="0.257" stop-color="rgb(124,80,0)"/><stop offset="0.279" stop-color="rgb(112,69,0)"/><stop offset="0.300" stop-color="rgb(122,75,0)"/><stop offset="0.314" stop-color="rgb(88,53,0)"/><stop offset="0.329" stop-color="rgb(47,39,0)"/><stop offset="0.357" stop-color="rgb(37,39,0)"/><stop offset="0.371" stop-color="rgb(48,44,0)"/><stop offset="0.386" stop-color="rgb(95,53,0)"/><stop offset="0.400" stop-color="rgb(108,64,0)"/><stop offset="0.421" stop-color="rgb(124,75,0)"/><stop offset="0.439" stop-color="rgb(106,59,0)"/><stop offset="0.454" stop-color="rgb(52,44,0)"/><stop offset="0.479" stop-color="rgb(34,39,0)"/><stop offset="0.507" stop-color="rgb(42,39,0)"/><stop offset="0.521" stop-color="rgb(85,53,0)"/><stop offset="0.550" stop-color="rgb(96,59,0)"/><stop offset="0.571" stop-color="rgb(116,69,0)"/><stop offset="0.593" stop-color="rgb(95,59,0)"/><stop offset="0.657" stop-color="rgb(82,53,0)"/><stop offset="0.714" stop-color="rgb(82,53,0)"/><stop offset="0.750" stop-color="rgb(100,67,0)"/><stop offset="0.779" stop-color="rgb(128,85,0)"/><stop offset="0.829" stop-color="rgb(148,101,0)"/><stop offset="1.000" stop-color="rgb(157,106,0)"/></linearGradient>
<rect x="392.0" y="8" width="8.6" height="140" fill="url(#gb5)"/>
<linearGradient id="gb6" gradientUnits="userSpaceOnUse" x1="0" y1="8" x2="0" y2="148"><stop offset="0.000" stop-color="rgb(149,100,0)"/><stop offset="0.229" stop-color="rgb(146,96,0)"/><stop offset="0.257" stop-color="rgb(124,80,0)"/><stop offset="0.279" stop-color="rgb(112,69,0)"/><stop offset="0.300" stop-color="rgb(122,75,0)"/><stop offset="0.314" stop-color="rgb(88,53,0)"/><stop offset="0.329" stop-color="rgb(47,39,0)"/><stop offset="0.357" stop-color="rgb(37,39,0)"/><stop offset="0.371" stop-color="rgb(48,44,0)"/><stop offset="0.386" stop-color="rgb(95,53,0)"/><stop offset="0.400" stop-color="rgb(108,64,0)"/><stop offset="0.421" stop-color="rgb(124,75,0)"/><stop offset="0.439" stop-color="rgb(106,59,0)"/><stop offset="0.454" stop-color="rgb(52,44,0)"/><stop offset="0.479" stop-color="rgb(34,39,0)"/><stop offset="0.507" stop-color="rgb(42,39,0)"/><stop offset="0.521" stop-color="rgb(85,53,0)"/><stop offset="0.550" stop-color="rgb(96,59,0)"/><stop offset="0.571" stop-color="rgb(116,69,0)"/><stop offset="0.593" stop-color="rgb(95,59,0)"/><stop offset="0.657" stop-color="rgb(82,53,0)"/><stop offset="0.714" stop-color="rgb(82,53,0)"/><stop offset="0.750" stop-color="rgb(100,67,0)"/><stop offset="0.779" stop-color="rgb(128,85,0)"/><stop offset="0.829" stop-color="rgb(148,101,0)"/><stop offset="1.000" stop-color="rgb(157,106,0)"/></linearGradient>
<rect x="400.0" y="8" width="8.6" height="140" fill="url(#gb6)"/>
<linearGradient id="gb7" gradientUnits="userSpaceOnUse" x1="0" y1="8" x2="0" y2="148"><stop offset="0.000" stop-color="rgb(149,100,0)"/><stop offset="0.229" stop-color="rgb(146,96,0)"/><stop offset="0.257" stop-color="rgb(124,80,0)"/><stop offset="0.279" stop-color="rgb(112,69,0)"/><stop offset="0.300" stop-color="rgb(122,75,0)"/><stop offset="0.314" stop-color="rgb(88,53,0)"/><stop offset="0.329" stop-color="rgb(47,39,0)"/><stop offset="0.357" stop-color="rgb(37,39,0)"/><stop offset="0.371" stop-color="rgb(48,44,0)"/><stop offset="0.386" stop-color="rgb(95,53,0)"/><stop offset="0.400" stop-color="rgb(108,64,0)"/><stop offset="0.421" stop-color="rgb(124,75,0)"/><stop offset="0.439" stop-color="rgb(106,59,0)"/><stop offset="0.454" stop-color="rgb(52,44,0)"/><stop offset="0.479" stop-color="rgb(34,39,0)"/><stop offset="0.507" stop-color="rgb(42,39,0)"/><stop offset="0.521" stop-color="rgb(85,53,0)"/><stop offset="0.550" stop-color="rgb(96,59,0)"/><stop offset="0.571" stop-color="rgb(116,69,0)"/><stop offset="0.593" stop-color="rgb(95,59,0)"/><stop offset="0.657" stop-color="rgb(82,53,0)"/><stop offset="0.714" stop-color="rgb(82,53,0)"/><stop offset="0.750" stop-color="rgb(100,67,0)"/><stop offset="0.779" stop-color="rgb(128,85,0)"/><stop offset="0.829" stop-color="rgb(148,101,0)"/><stop offset="1.000" stop-color="rgb(157,106,0)"/></linearGradient>
<rect x="408.0" y="8" width="8.6" height="140" fill="url(#gb7)"/>
<linearGradient id="gb8" gradientUnits="userSpaceOnUse" x1="0" y1="8" x2="0" y2="148"><stop offset="0.000" stop-color="rgb(149,100,0)"/><stop offset="0.229" stop-color="rgb(146,96,0)"/><stop offset="0.257" stop-color="rgb(124,80,0)"/><stop offset="0.279" stop-color="rgb(112,69,0)"/><stop offset="0.300" stop-color="rgb(122,75,0)"/><stop offset="0.314" stop-color="rgb(88,53,0)"/><stop offset="0.329" stop-color="rgb(47,39,0)"/><stop offset="0.357" stop-color="rgb(37,39,0)"/><stop offset="0.371" stop-color="rgb(48,44,0)"/><stop offset="0.386" stop-color="rgb(95,53,0)"/><stop offset="0.400" stop-color="rgb(108,64,0)"/><stop offset="0.421" stop-color="rgb(124,75,0)"/><stop offset="0.439" stop-color="rgb(106,59,0)"/><stop offset="0.454" stop-color="rgb(52,44,0)"/><stop offset="0.479" stop-color="rgb(34,39,0)"/><stop offset="0.507" stop-color="rgb(42,39,0)"/><stop offset="0.521" stop-color="rgb(85,53,0)"/><stop offset="0.550" stop-color="rgb(96,59,0)"/><stop offset="0.571" stop-color="rgb(116,69,0)"/><stop offset="0.593" stop-color="rgb(95,59,0)"/><stop offset="0.657" stop-color="rgb(82,53,0)"/><stop offset="0.714" stop-color="rgb(82,53,0)"/><stop offset="0.750" stop-color="rgb(100,67,0)"/><stop offset="0.779" stop-color="rgb(128,85,0)"/><stop offset="0.829" stop-color="rgb(148,101,0)"/><stop offset="1.000" stop-color="rgb(157,106,0)"/></linearGradient>
<rect x="416.0" y="8" width="8.6" height="140" fill="url(#gb8)"/>
<linearGradient id="gb9" gradientUnits="userSpaceOnUse" x1="0" y1="8" x2="0" y2="148"><stop offset="0.000" stop-color="rgb(149,100,0)"/><stop offset="0.229" stop-color="rgb(146,96,0)"/><stop offset="0.257" stop-color="rgb(124,80,0)"/><stop offset="0.279" stop-color="rgb(112,70,0)"/><stop offset="0.282" stop-color="rgb(113,70,0)"/><stop offset="0.300" stop-color="rgb(121,74,0)"/><stop offset="0.304" stop-color="rgb(113,69,0)"/><stop offset="0.314" stop-color="rgb(88,54,0)"/><stop offset="0.318" stop-color="rgb(79,50,0)"/><stop offset="0.329" stop-color="rgb(49,39,0)"/><stop offset="0.336" stop-color="rgb(45,39,0)"/><stop offset="0.357" stop-color="rgb(37,39,0)"/><stop offset="0.364" stop-color="rgb(42,41,0)"/><stop offset="0.371" stop-color="rgb(47,44,0)"/><stop offset="0.379" stop-color="rgb(68,48,0)"/><stop offset="0.386" stop-color="rgb(92,53,0)"/><stop offset="0.393" stop-color="rgb(100,58,0)"/><stop offset="0.400" stop-color="rgb(107,63,0)"/><stop offset="0.407" stop-color="rgb(112,67,0)"/><stop offset="0.421" stop-color="rgb(123,74,0)"/><stop offset="0.429" stop-color="rgb(117,69,0)"/><stop offset="0.439" stop-color="rgb(106,60,0)"/><stop offset="0.446" stop-color="rgb(82,53,0)"/><stop offset="0.454" stop-color="rgb(55,45,0)"/><stop offset="0.461" stop-color="rgb(47,43,0)"/><stop offset="0.479" stop-color="rgb(35,39,0)"/><stop offset="0.486" stop-color="rgb(36,39,0)"/><stop offset="0.507" stop-color="rgb(42,39,0)"/><stop offset="0.514" stop-color="rgb(61,45,0)"/><stop offset="0.521" stop-color="rgb(82,52,0)"/><stop offset="0.529" stop-color="rgb(87,54,0)"/><stop offset="0.550" stop-color="rgb(95,58,0)"/><stop offset="0.564" stop-color="rgb(107,65,0)"/><stop offset="0.571" stop-color="rgb(113,68,0)"/><stop offset="0.593" stop-color="rgb(94,58,0)"/><stop offset="0.657" stop-color="rgb(81,53,0)"/><stop offset="0.714" stop-color="rgb(82,53,0)"/><stop offset="0.750" stop-color="rgb(100,67,0)"/><stop offset="0.779" stop-color="rgb(128,85,0)"/><stop offset="0.829" stop-color="rgb(148,101,0)"/><stop offset="1.000" stop-color="rgb(157,106,0)"/></linearGradient>
<rect x="424.0" y="8" width="8.6" height="140" fill="url(#gb9)"/>
<linearGradient id="gb10" gradientUnits="userSpaceOnUse" x1="0" y1="8" x2="0" y2="148"><stop offset="0.000" stop-color="rgb(149,100,0)"/><stop offset="0.229" stop-color="rgb(146,96,0)"/><stop offset="0.257" stop-color="rgb(123,80,0)"/><stop offset="0.279" stop-color="rgb(112,70,0)"/><stop offset="0.282" stop-color="rgb(113,70,0)"/><stop offset="0.300" stop-color="rgb(119,73,0)"/><stop offset="0.304" stop-color="rgb(113,69,0)"/><stop offset="0.314" stop-color="rgb(89,54,0)"/><stop offset="0.318" stop-color="rgb(80,51,0)"/><stop offset="0.329" stop-color="rgb(51,40,0)"/><stop offset="0.336" stop-color="rgb(45,39,0)"/><stop offset="0.357" stop-color="rgb(38,39,0)"/><stop offset="0.364" stop-color="rgb(41,41,0)"/><stop offset="0.371" stop-color="rgb(47,44,0)"/><stop offset="0.379" stop-color="rgb(65,48,0)"/><stop offset="0.386" stop-color="rgb(88,52,0)"/><stop offset="0.393" stop-color="rgb(99,57,0)"/><stop offset="0.400" stop-color="rgb(105,63,0)"/><stop offset="0.407" stop-color="rgb(111,67,0)"/><stop offset="0.421" stop-color="rgb(122,74,0)"/><stop offset="0.429" stop-color="rgb(118,70,0)"/><stop offset="0.439" stop-color="rgb(107,60,0)"/><stop offset="0.446" stop-color="rgb(85,53,0)"/><stop offset="0.454" stop-color="rgb(58,46,0)"/><stop offset="0.461" stop-color="rgb(48,43,0)"/><stop offset="0.479" stop-color="rgb(35,39,0)"/><stop offset="0.486" stop-color="rgb(35,39,0)"/><stop offset="0.507" stop-color="rgb(41,39,0)"/><stop offset="0.514" stop-color="rgb(58,44,0)"/><stop offset="0.521" stop-color="rgb(79,51,0)"/><stop offset="0.529" stop-color="rgb(86,54,0)"/><stop offset="0.550" stop-color="rgb(94,58,0)"/><stop offset="0.564" stop-color="rgb(105,64,0)"/><stop offset="0.571" stop-color="rgb(109,66,0)"/><stop offset="0.593" stop-color="rgb(93,58,0)"/><stop offset="0.657" stop-color="rgb(81,53,0)"/><stop offset="0.714" stop-color="rgb(81,53,0)"/><stop offset="0.750" stop-color="rgb(99,67,0)"/><stop offset="0.779" stop-color="rgb(127,85,0)"/><stop offset="0.829" stop-color="rgb(148,101,0)"/><stop offset="1.000" stop-color="rgb(157,106,0)"/></linearGradient>
<rect x="432.0" y="8" width="8.6" height="140" fill="url(#gb10)"/>
<linearGradient id="gb11" gradientUnits="userSpaceOnUse" x1="0" y1="8" x2="0" y2="148"><stop offset="0.000" stop-color="rgb(149,100,0)"/><stop offset="0.229" stop-color="rgb(146,96,0)"/><stop offset="0.257" stop-color="rgb(123,80,0)"/><stop offset="0.279" stop-color="rgb(112,70,0)"/><stop offset="0.282" stop-color="rgb(112,70,0)"/><stop offset="0.300" stop-color="rgb(118,73,0)"/><stop offset="0.304" stop-color="rgb(113,69,0)"/><stop offset="0.314" stop-color="rgb(90,55,0)"/><stop offset="0.318" stop-color="rgb(81,51,0)"/><stop offset="0.329" stop-color="rgb(53,41,0)"/><stop offset="0.336" stop-color="rgb(46,39,0)"/><stop offset="0.357" stop-color="rgb(38,39,0)"/><stop offset="0.364" stop-color="rgb(40,40,0)"/><stop offset="0.371" stop-color="rgb(46,43,0)"/><stop offset="0.379" stop-color="rgb(62,47,0)"/><stop offset="0.386" stop-color="rgb(85,52,0)"/><stop offset="0.393" stop-color="rgb(98,57,0)"/><stop offset="0.400" stop-color="rgb(104,62,0)"/><stop offset="0.407" stop-color="rgb(110,66,0)"/><stop offset="0.421" stop-color="rgb(120,73,0)"/><stop offset="0.429" stop-color="rgb(118,71,0)"/><stop offset="0.439" stop-color="rgb(107,61,0)"/><stop offset="0.446" stop-color="rgb(87,54,0)"/><stop offset="0.454" stop-color="rgb(61,47,0)"/><stop offset="0.461" stop-color="rgb(48,43,0)"/><stop offset="0.479" stop-color="rgb(36,39,0)"/><stop offset="0.486" stop-color="rgb(35,39,0)"/><stop offset="0.507" stop-color="rgb(41,39,0)"/><stop offset="0.514" stop-color="rgb(55,43,0)"/><stop offset="0.521" stop-color="rgb(76,50,0)"/><stop offset="0.529" stop-color="rgb(85,54,0)"/><stop offset="0.550" stop-color="rgb(93,58,0)"/><stop offset="0.564" stop-color="rgb(102,63,0)"/><stop offset="0.571" stop-color="rgb(106,65,0)"/><stop offset="0.593" stop-color="rgb(92,58,0)"/><stop offset="0.657" stop-color="rgb(80,53,0)"/><stop offset="0.714" stop-color="rgb(81,53,0)"/><stop offset="0.750" stop-color="rgb(99,67,0)"/><stop offset="0.779" stop-color="rgb(127,85,0)"/><stop offset="0.829" stop-color="rgb(148,101,0)"/><stop offset="1.000" stop-color="rgb(157,106,0)"/></linearGradient>
<rect x="440.0" y="8" width="8.6" height="140" fill="url(#gb11)"/>
<linearGradient id="gb12" gradientUnits="userSpaceOnUse" x1="0" y1="8" x2="0" y2="148"><stop offset="0.000" stop-color="rgb(149,100,0)"/><stop offset="0.229" stop-color="rgb(146,96,0)"/><stop offset="0.257" stop-color="rgb(123,80,0)"/><stop offset="0.279" stop-color="rgb(112,70,0)"/><stop offset="0.282" stop-color="rgb(112,70,0)"/><stop offset="0.300" stop-color="rgb(116,72,0)"/><stop offset="0.304" stop-color="rgb(113,69,0)"/><stop offset="0.314" stop-color="rgb(90,55,0)"/><stop offset="0.318" stop-color="rgb(82,52,0)"/><stop offset="0.329" stop-color="rgb(55,42,0)"/><stop offset="0.336" stop-color="rgb(46,39,0)"/><stop offset="0.357" stop-color="rgb(38,39,0)"/><stop offset="0.364" stop-color="rgb(40,40,0)"/><stop offset="0.371" stop-color="rgb(45,43,0)"/><stop offset="0.379" stop-color="rgb(59,47,0)"/><stop offset="0.386" stop-color="rgb(82,51,0)"/><stop offset="0.393" stop-color="rgb(96,56,0)"/><stop offset="0.400" stop-color="rgb(103,61,0)"/><stop offset="0.407" stop-color="rgb(109,66,0)"/><stop offset="0.421" stop-color="rgb(119,73,0)"/><stop offset="0.429" stop-color="rgb(119,72,0)"/><stop offset="0.439" stop-color="rgb(107,62,0)"/><stop offset="0.446" stop-color="rgb(90,55,0)"/><stop offset="0.454" stop-color="rgb(64,48,0)"/><stop offset="0.461" stop-color="rgb(49,44,0)"/><stop offset="0.479" stop-color="rgb(36,39,0)"/><stop offset="0.486" stop-color="rgb(35,39,0)"/><stop offset="0.507" stop-color="rgb(41,39,0)"/><stop offset="0.514" stop-color="rgb(52,42,0)"/><stop offset="0.521" stop-color="rgb(73,49,0)"/><stop offset="0.529" stop-color="rgb(85,54,0)"/><stop offset="0.550" stop-color="rgb(92,58,0)"/><stop offset="0.564" stop-color="rgb(100,62,0)"/><stop offset="0.571" stop-color="rgb(103,63,0)"/><stop offset="0.593" stop-color="rgb(91,58,0)"/><stop offset="0.657" stop-color="rgb(80,53,0)"/><stop offset="0.714" stop-color="rgb(81,53,0)"/><stop offset="0.750" stop-color="rgb(99,67,0)"/><stop offset="0.779" stop-color="rgb(127,85,0)"/><stop offset="0.829" stop-color="rgb(148,101,0)"/><stop offset="1.000" stop-color="rgb(157,106,0)"/></linearGradient>
<rect x="448.0" y="8" width="8.6" height="140" fill="url(#gb12)"/>
<linearGradient id="gb13" gradientUnits="userSpaceOnUse" x1="0" y1="8" x2="0" y2="148"><stop offset="0.000" stop-color="rgb(149,100,0)"/><stop offset="0.229" stop-color="rgb(146,96,0)"/><stop offset="0.257" stop-color="rgb(123,80,0)"/><stop offset="0.279" stop-color="rgb(112,70,0)"/><stop offset="0.282" stop-color="rgb(111,70,0)"/><stop offset="0.300" stop-color="rgb(115,71,0)"/><stop offset="0.304" stop-color="rgb(112,69,0)"/><stop offset="0.314" stop-color="rgb(90,56,0)"/><stop offset="0.318" stop-color="rgb(83,52,0)"/><stop offset="0.329" stop-color="rgb(57,42,0)"/><stop offset="0.336" stop-color="rgb(46,39,0)"/><stop offset="0.357" stop-color="rgb(39,39,0)"/><stop offset="0.364" stop-color="rgb(39,40,0)"/><stop offset="0.371" stop-color="rgb(44,42,0)"/><stop offset="0.379" stop-color="rgb(56,46,0)"/><stop offset="0.386" stop-color="rgb(78,50,0)"/><stop offset="0.393" stop-color="rgb(95,55,0)"/><stop offset="0.400" stop-color="rgb(102,60,0)"/><stop offset="0.407" stop-color="rgb(108,65,0)"/><stop offset="0.421" stop-color="rgb(118,72,0)"/><stop offset="0.429" stop-color="rgb(119,73,0)"/><stop offset="0.439" stop-color="rgb(107,63,0)"/><stop offset="0.446" stop-color="rgb(93,56,0)"/><stop offset="0.454" stop-color="rgb(67,49,0)"/><stop offset="0.461" stop-color="rgb(49,44,0)"/><stop offset="0.479" stop-color="rgb(37,40,0)"/><stop offset="0.486" stop-color="rgb(35,39,0)"/><stop offset="0.507" stop-color="rgb(41,39,0)"/><stop offset="0.514" stop-color="rgb(49,41,0)"/><stop offset="0.521" stop-color="rgb(70,48,0)"/><stop offset="0.529" stop-color="rgb(84,54,0)"/><stop offset="0.550" stop-color="rgb(91,57,0)"/><stop offset="0.564" stop-color="rgb(98,61,0)"/><stop offset="0.571" stop-color="rgb(99,62,0)"/><stop offset="0.593" stop-color="rgb(90,58,0)"/><stop offset="0.657" stop-color="rgb(79,53,0)"/><stop offset="0.714" stop-color="rgb(81,53,0)"/><stop offset="0.750" stop-color="rgb(99,67,0)"/><stop offset="0.779" stop-color="rgb(127,85,0)"/><stop offset="0.829" stop-color="rgb(148,101,0)"/><stop offset="1.000" stop-color="rgb(157,106,0)"/></linearGradient>
<rect x="456.0" y="8" width="8.6" height="140" fill="url(#gb13)"/>
<linearGradient id="gb14" gradientUnits="userSpaceOnUse" x1="0" y1="8" x2="0" y2="148"><stop offset="0.000" stop-color="rgb(149,100,0)"/><stop offset="0.229" stop-color="rgb(146,96,0)"/><stop offset="0.257" stop-color="rgb(122,80,0)"/><stop offset="0.279" stop-color="rgb(112,71,0)"/><stop offset="0.282" stop-color="rgb(111,70,0)"/><stop offset="0.300" stop-color="rgb(114,70,0)"/><stop offset="0.304" stop-color="rgb(112,69,0)"/><stop offset="0.314" stop-color="rgb(91,57,0)"/><stop offset="0.318" stop-color="rgb(84,53,0)"/><stop offset="0.329" stop-color="rgb(59,43,0)"/><stop offset="0.336" stop-color="rgb(46,39,0)"/><stop offset="0.357" stop-color="rgb(39,39,0)"/><stop offset="0.364" stop-color="rgb(38,39,0)"/><stop offset="0.371" stop-color="rgb(44,42,0)"/><stop offset="0.379" stop-color="rgb(53,45,0)"/><stop offset="0.386" stop-color="rgb(75,50,0)"/><stop offset="0.393" stop-color="rgb(94,54,0)"/><stop offset="0.400" stop-color="rgb(100,60,0)"/><stop offset="0.407" stop-color="rgb(107,65,0)"/><stop offset="0.421" stop-color="rgb(117,72,0)"/><stop offset="0.429" stop-color="rgb(119,73,0)"/><stop offset="0.439" stop-color="rgb(108,64,0)"/><stop offset="0.446" stop-color="rgb(96,57,0)"/><stop offset="0.454" stop-color="rgb(70,50,0)"/><stop offset="0.461" stop-color="rgb(49,44,0)"/><stop offset="0.479" stop-color="rgb(38,40,0)"/><stop offset="0.486" stop-color="rgb(34,39,0)"/><stop offset="0.507" stop-color="rgb(40,39,0)"/><stop offset="0.514" stop-color="rgb(46,40,0)"/><stop offset="0.521" stop-color="rgb(67,47,0)"/><stop offset="0.529" stop-color="rgb(83,54,0)"/><stop offset="0.550" stop-color="rgb(90,57,0)"/><stop offset="0.564" stop-color="rgb(95,60,0)"/><stop offset="0.571" stop-color="rgb(96,60,0)"/><stop offset="0.593" stop-color="rgb(89,57,0)"/><stop offset="0.657" stop-color="rgb(79,53,0)"/><stop offset="0.714" stop-color="rgb(80,53,0)"/><stop offset="0.750" stop-color="rgb(98,67,0)"/><stop offset="0.779" stop-color="rgb(126,85,0)"/><stop offset="0.829" stop-color="rgb(148,101,0)"/><stop offset="1.000" stop-color="rgb(157,106,0)"/></linearGradient>
<rect x="464.0" y="8" width="8.6" height="140" fill="url(#gb14)"/>
<linearGradient id="gb15" gradientUnits="userSpaceOnUse" x1="0" y1="8" x2="0" y2="148"><stop offset="0.000" stop-color="rgb(149,100,0)"/><stop offset="0.229" stop-color="rgb(146,96,0)"/><stop offset="0.257" stop-color="rgb(122,80,0)"/><stop offset="0.279" stop-color="rgb(112,71,0)"/><stop offset="0.282" stop-color="rgb(110,69,0)"/><stop offset="0.300" stop-color="rgb(112,70,0)"/><stop offset="0.304" stop-color="rgb(112,69,0)"/><stop offset="0.314" stop-color="rgb(92,57,0)"/><stop offset="0.318" stop-color="rgb(85,53,0)"/><stop offset="0.329" stop-color="rgb(61,44,0)"/><stop offset="0.336" stop-color="rgb(47,39,0)"/><stop offset="0.357" stop-color="rgb(39,39,0)"/><stop offset="0.364" stop-color="rgb(37,39,0)"/><stop offset="0.371" stop-color="rgb(43,42,0)"/><stop offset="0.379" stop-color="rgb(50,45,0)"/><stop offset="0.386" stop-color="rgb(72,49,0)"/><stop offset="0.393" stop-color="rgb(93,54,0)"/><stop offset="0.400" stop-color="rgb(99,59,0)"/><stop offset="0.407" stop-color="rgb(106,64,0)"/><stop offset="0.421" stop-color="rgb(116,71,0)"/><stop offset="0.429" stop-color="rgb(120,74,0)"/><stop offset="0.439" stop-color="rgb(108,65,0)"/><stop offset="0.446" stop-color="rgb(99,58,0)"/><stop offset="0.454" stop-color="rgb(73,51,0)"/><stop offset="0.461" stop-color="rgb(50,44,0)"/><stop offset="0.479" stop-color="rgb(38,40,0)"/><stop offset="0.486" stop-color="rgb(34,39,0)"/><stop offset="0.507" stop-color="rgb(40,39,0)"/><stop offset="0.514" stop-color="rgb(43,39,0)"/><stop offset="0.521" stop-color="rgb(64,46,0)"/><stop offset="0.529" stop-color="rgb(82,53,0)"/><stop offset="0.550" stop-color="rgb(89,57,0)"/><stop offset="0.564" stop-color="rgb(93,59,0)"/><stop offset="0.571" stop-color="rgb(93,59,0)"/><stop offset="0.593" stop-color="rgb(88,57,0)"/><stop offset="0.657" stop-color="rgb(78,53,0)"/><stop offset="0.714" stop-color="rgb(80,53,0)"/><stop offset="0.750" stop-color="rgb(98,67,0)"/><stop offset="0.779" stop-color="rgb(126,85,0)"/><stop offset="0.829" stop-color="rgb(148,101,0)"/><stop offset="1.000" stop-color="rgb(157,106,0)"/></linearGradient>
<rect x="472.0" y="8" width="8.6" height="140" fill="url(#gb15)"/>
<linearGradient id="gb16" gradientUnits="userSpaceOnUse" x1="0" y1="8" x2="0" y2="148"><stop offset="0.000" stop-color="rgb(149,100,0)"/><stop offset="0.207" stop-color="rgb(147,97,0)"/><stop offset="0.229" stop-color="rgb(144,95,0)"/><stop offset="0.236" stop-color="rgb(138,90,0)"/><stop offset="0.257" stop-color="rgb(120,78,0)"/><stop offset="0.264" stop-color="rgb(117,75,0)"/><stop offset="0.282" stop-color="rgb(107,68,0)"/><stop offset="0.289" stop-color="rgb(107,67,0)"/><stop offset="0.304" stop-color="rgb(106,67,0)"/><stop offset="0.314" stop-color="rgb(87,55,0)"/><stop offset="0.318" stop-color="rgb(80,52,0)"/><stop offset="0.336" stop-color="rgb(46,39,0)"/><stop offset="0.364" stop-color="rgb(37,39,0)"/><stop offset="0.379" stop-color="rgb(47,44,0)"/><stop offset="0.386" stop-color="rgb(67,48,0)"/><stop offset="0.393" stop-color="rgb(87,52,0)"/><stop offset="0.407" stop-color="rgb(99,62,0)"/><stop offset="0.414" stop-color="rgb(104,65,0)"/><stop offset="0.429" stop-color="rgb(116,72,0)"/><stop offset="0.436" stop-color="rgb(110,67,0)"/><stop offset="0.446" stop-color="rgb(97,58,0)"/><stop offset="0.454" stop-color="rgb(73,51,0)"/><stop offset="0.461" stop-color="rgb(50,44,0)"/><stop offset="0.479" stop-color="rgb(38,40,0)"/><stop offset="0.486" stop-color="rgb(34,39,0)"/><stop offset="0.514" stop-color="rgb(42,39,0)"/><stop offset="0.529" stop-color="rgb(78,52,0)"/><stop offset="0.564" stop-color="rgb(88,57,0)"/><stop offset="0.571" stop-color="rgb(87,57,0)"/><stop offset="0.657" stop-color="rgb(76,52,0)"/><stop offset="0.700" stop-color="rgb(79,53,0)"/><stop offset="0.714" stop-color="rgb(80,54,0)"/><stop offset="0.729" stop-color="rgb(88,59,0)"/><stop offset="0.750" stop-color="rgb(100,68,0)"/><stop offset="0.757" stop-color="rgb(107,73,0)"/><stop offset="0.779" stop-color="rgb(127,86,0)"/><stop offset="0.814" stop-color="rgb(142,97,0)"/><stop offset="0.829" stop-color="rgb(148,101,0)"/><stop offset="1.000" stop-color="rgb(157,106,0)"/></linearGradient>
<rect x="480.0" y="8" width="8.6" height="140" fill="url(#gb16)"/>
<linearGradient id="gb17" gradientUnits="userSpaceOnUse" x1="0" y1="8" x2="0" y2="148"><stop offset="0.000" stop-color="rgb(150,101,0)"/><stop offset="0.207" stop-color="rgb(147,98,0)"/><stop offset="0.229" stop-color="rgb(141,92,0)"/><stop offset="0.236" stop-color="rgb(135,87,0)"/><stop offset="0.257" stop-color="rgb(117,75,0)"/><stop offset="0.264" stop-color="rgb(113,71,0)"/><stop offset="0.282" stop-color="rgb(101,64,0)"/><stop offset="0.289" stop-color="rgb(98,64,0)"/><stop offset="0.304" stop-color="rgb(94,62,0)"/><stop offset="0.314" stop-color="rgb(76,52,0)"/><stop offset="0.318" stop-color="rgb(71,49,0)"/><stop offset="0.336" stop-color="rgb(45,39,0)"/><stop offset="0.364" stop-color="rgb(37,39,0)"/><stop offset="0.379" stop-color="rgb(45,43,0)"/><stop offset="0.386" stop-color="rgb(60,46,0)"/><stop offset="0.393" stop-color="rgb(77,49,0)"/><stop offset="0.407" stop-color="rgb(88,58,0)"/><stop offset="0.414" stop-color="rgb(93,61,0)"/><stop offset="0.429" stop-color="rgb(108,68,0)"/><stop offset="0.436" stop-color="rgb(106,65,0)"/><stop offset="0.446" stop-color="rgb(90,56,0)"/><stop offset="0.454" stop-color="rgb(68,49,0)"/><stop offset="0.461" stop-color="rgb(49,44,0)"/><stop offset="0.479" stop-color="rgb(38,40,0)"/><stop offset="0.486" stop-color="rgb(35,39,0)"/><stop offset="0.514" stop-color="rgb(42,39,0)"/><stop offset="0.529" stop-color="rgb(70,49,0)"/><stop offset="0.564" stop-color="rgb(80,54,0)"/><stop offset="0.571" stop-color="rgb(80,54,0)"/><stop offset="0.657" stop-color="rgb(71,51,0)"/><stop offset="0.700" stop-color="rgb(77,52,0)"/><stop offset="0.714" stop-color="rgb(81,54,0)"/><stop offset="0.729" stop-color="rgb(90,60,0)"/><stop offset="0.750" stop-color="rgb(105,71,0)"/><stop offset="0.757" stop-color="rgb(112,76,0)"/><stop offset="0.779" stop-color="rgb(129,87,0)"/><stop offset="0.814" stop-color="rgb(144,98,0)"/><stop offset="0.829" stop-color="rgb(148,101,0)"/><stop offset="1.000" stop-color="rgb(157,106,0)"/></linearGradient>
<rect x="488.0" y="8" width="8.6" height="140" fill="url(#gb17)"/>
<linearGradient id="gb18" gradientUnits="userSpaceOnUse" x1="0" y1="8" x2="0" y2="148"><stop offset="0.000" stop-color="rgb(150,101,0)"/><stop offset="0.207" stop-color="rgb(148,99,0)"/><stop offset="0.229" stop-color="rgb(138,89,0)"/><stop offset="0.236" stop-color="rgb(131,83,0)"/><stop offset="0.257" stop-color="rgb(114,71,0)"/><stop offset="0.264" stop-color="rgb(109,68,0)"/><stop offset="0.282" stop-color="rgb(94,61,0)"/><stop offset="0.289" stop-color="rgb(90,60,0)"/><stop offset="0.304" stop-color="rgb(82,56,0)"/><stop offset="0.314" stop-color="rgb(66,48,0)"/><stop offset="0.318" stop-color="rgb(62,46,0)"/><stop offset="0.336" stop-color="rgb(43,39,0)"/><stop offset="0.364" stop-color="rgb(37,39,0)"/><stop offset="0.379" stop-color="rgb(43,41,0)"/><stop offset="0.386" stop-color="rgb(54,44,0)"/><stop offset="0.393" stop-color="rgb(66,47,0)"/><stop offset="0.407" stop-color="rgb(77,53,0)"/><stop offset="0.414" stop-color="rgb(81,56,0)"/><stop offset="0.429" stop-color="rgb(99,64,0)"/><stop offset="0.436" stop-color="rgb(102,62,0)"/><stop offset="0.446" stop-color="rgb(84,54,0)"/><stop offset="0.454" stop-color="rgb(64,48,0)"/><stop offset="0.461" stop-color="rgb(49,44,0)"/><stop offset="0.479" stop-color="rgb(38,39,0)"/><stop offset="0.486" stop-color="rgb(36,39,0)"/><stop offset="0.514" stop-color="rgb(41,39,0)"/><stop offset="0.529" stop-color="rgb(62,46,0)"/><stop offset="0.564" stop-color="rgb(72,51,0)"/><stop offset="0.571" stop-color="rgb(72,51,0)"/><stop offset="0.657" stop-color="rgb(66,49,0)"/><stop offset="0.700" stop-color="rgb(75,52,0)"/><stop offset="0.714" stop-color="rgb(82,55,0)"/><stop offset="0.729" stop-color="rgb(93,61,0)"/><stop offset="0.750" stop-color="rgb(109,73,0)"/><stop offset="0.757" stop-color="rgb(116,78,0)"/><stop offset="0.779" stop-color="rgb(131,88,0)"/><stop offset="0.814" stop-color="rgb(145,99,0)"/><stop offset="0.829" stop-color="rgb(148,102,0)"/><stop offset="1.000" stop-color="rgb(157,106,0)"/></linearGradient>
<rect x="496.0" y="8" width="8.6" height="140" fill="url(#gb18)"/>
<linearGradient id="gb19" gradientUnits="userSpaceOnUse" x1="0" y1="8" x2="0" y2="148"><stop offset="0.000" stop-color="rgb(151,101,0)"/><stop offset="0.207" stop-color="rgb(149,100,0)"/><stop offset="0.229" stop-color="rgb(134,86,0)"/><stop offset="0.236" stop-color="rgb(127,80,0)"/><stop offset="0.257" stop-color="rgb(110,68,0)"/><stop offset="0.264" stop-color="rgb(106,64,0)"/><stop offset="0.282" stop-color="rgb(88,58,0)"/><stop offset="0.289" stop-color="rgb(82,56,0)"/><stop offset="0.304" stop-color="rgb(71,51,0)"/><stop offset="0.314" stop-color="rgb(56,44,0)"/><stop offset="0.318" stop-color="rgb(53,43,0)"/><stop offset="0.336" stop-color="rgb(41,39,0)"/><stop offset="0.364" stop-color="rgb(38,39,0)"/><stop offset="0.379" stop-color="rgb(41,40,0)"/><stop offset="0.386" stop-color="rgb(47,42,0)"/><stop offset="0.393" stop-color="rgb(56,44,0)"/><stop offset="0.407" stop-color="rgb(65,49,0)"/><stop offset="0.414" stop-color="rgb(69,51,0)"/><stop offset="0.429" stop-color="rgb(91,59,0)"/><stop offset="0.436" stop-color="rgb(98,60,0)"/><stop offset="0.446" stop-color="rgb(78,52,0)"/><stop offset="0.454" stop-color="rgb(59,47,0)"/><stop offset="0.461" stop-color="rgb(48,43,0)"/><stop offset="0.479" stop-color="rgb(37,39,0)"/><stop offset="0.486" stop-color="rgb(37,39,0)"/><stop offset="0.514" stop-color="rgb(41,39,0)"/><stop offset="0.529" stop-color="rgb(54,43,0)"/><stop offset="0.564" stop-color="rgb(64,48,0)"/><stop offset="0.571" stop-color="rgb(65,49,0)"/><stop offset="0.657" stop-color="rgb(61,47,0)"/><stop offset="0.700" stop-color="rgb(73,51,0)"/><stop offset="0.714" stop-color="rgb(83,56,0)"/><stop offset="0.729" stop-color="rgb(95,62,0)"/><stop offset="0.750" stop-color="rgb(114,76,0)"/><stop offset="0.757" stop-color="rgb(121,81,0)"/><stop offset="0.779" stop-color="rgb(133,90,0)"/><stop offset="0.814" stop-color="rgb(146,100,0)"/><stop offset="0.829" stop-color="rgb(148,102,0)"/><stop offset="1.000" stop-color="rgb(157,106,0)"/></linearGradient>
<rect x="504.0" y="8" width="8.6" height="140" fill="url(#gb19)"/>
<linearGradient id="gb20" gradientUnits="userSpaceOnUse" x1="0" y1="8" x2="0" y2="148"><stop offset="0.000" stop-color="rgb(151,101,0)"/><stop offset="0.207" stop-color="rgb(150,101,0)"/><stop offset="0.229" stop-color="rgb(131,83,0)"/><stop offset="0.236" stop-color="rgb(124,76,0)"/><stop offset="0.257" stop-color="rgb(107,64,0)"/><stop offset="0.264" stop-color="rgb(102,60,0)"/><stop offset="0.282" stop-color="rgb(82,54,0)"/><stop offset="0.289" stop-color="rgb(74,52,0)"/><stop offset="0.304" stop-color="rgb(59,46,0)"/><stop offset="0.314" stop-color="rgb(45,40,0)"/><stop offset="0.318" stop-color="rgb(44,40,0)"/><stop offset="0.336" stop-color="rgb(40,39,0)"/><stop offset="0.364" stop-color="rgb(38,39,0)"/><stop offset="0.379" stop-color="rgb(38,39,0)"/><stop offset="0.386" stop-color="rgb(40,40,0)"/><stop offset="0.393" stop-color="rgb(46,41,0)"/><stop offset="0.407" stop-color="rgb(54,45,0)"/><stop offset="0.414" stop-color="rgb(58,47,0)"/><stop offset="0.429" stop-color="rgb(83,55,0)"/><stop offset="0.436" stop-color="rgb(94,57,0)"/><stop offset="0.446" stop-color="rgb(71,50,0)"/><stop offset="0.454" stop-color="rgb(54,45,0)"/><stop offset="0.461" stop-color="rgb(48,43,0)"/><stop offset="0.479" stop-color="rgb(37,39,0)"/><stop offset="0.486" stop-color="rgb(37,39,0)"/><stop offset="0.514" stop-color="rgb(41,39,0)"/><stop offset="0.529" stop-color="rgb(46,40,0)"/><stop offset="0.564" stop-color="rgb(56,45,0)"/><stop offset="0.571" stop-color="rgb(58,46,0)"/><stop offset="0.657" stop-color="rgb(56,45,0)"/><stop offset="0.700" stop-color="rgb(71,51,0)"/><stop offset="0.714" stop-color="rgb(84,57,0)"/><stop offset="0.729" stop-color="rgb(97,63,0)"/><stop offset="0.750" stop-color="rgb(118,79,0)"/><stop offset="0.757" stop-color="rgb(126,84,0)"/><stop offset="0.779" stop-color="rgb(135,91,0)"/><stop offset="0.814" stop-color="rgb(147,101,0)"/><stop offset="0.829" stop-color="rgb(149,102,0)"/><stop offset="1.000" stop-color="rgb(157,106,0)"/></linearGradient>
<rect x="512.0" y="8" width="8.6" height="140" fill="url(#gb20)"/>
<linearGradient id="gb21" gradientUnits="userSpaceOnUse" x1="0" y1="8" x2="0" y2="148"><stop offset="0.000" stop-color="rgb(152,102,0)"/><stop offset="0.157" stop-color="rgb(151,102,0)"/><stop offset="0.207" stop-color="rgb(149,100,0)"/><stop offset="0.214" stop-color="rgb(142,94,0)"/><stop offset="0.236" stop-color="rgb(122,75,0)"/><stop offset="0.257" stop-color="rgb(105,63,0)"/><stop offset="0.264" stop-color="rgb(100,59,0)"/><stop offset="0.286" stop-color="rgb(73,51,0)"/><stop offset="0.289" stop-color="rgb(69,50,0)"/><stop offset="0.314" stop-color="rgb(41,39,0)"/><stop offset="0.386" stop-color="rgb(38,39,0)"/><stop offset="0.414" stop-color="rgb(52,44,0)"/><stop offset="0.436" stop-color="rgb(88,55,0)"/><stop offset="0.454" stop-color="rgb(52,44,0)"/><stop offset="0.479" stop-color="rgb(38,39,0)"/><stop offset="0.529" stop-color="rgb(43,39,0)"/><stop offset="0.571" stop-color="rgb(54,44,0)"/><stop offset="0.657" stop-color="rgb(54,44,0)"/><stop offset="0.686" stop-color="rgb(66,49,0)"/><stop offset="0.700" stop-color="rgb(73,52,0)"/><stop offset="0.714" stop-color="rgb(87,59,0)"/><stop offset="0.729" stop-color="rgb(101,66,0)"/><stop offset="0.757" stop-color="rgb(130,87,0)"/><stop offset="0.814" stop-color="rgb(148,101,0)"/><stop offset="1.000" stop-color="rgb(157,106,0)"/></linearGradient>
<rect x="520.0" y="8" width="8.6" height="140" fill="url(#gb21)"/>
<linearGradient id="gb22" gradientUnits="userSpaceOnUse" x1="0" y1="8" x2="0" y2="148"><stop offset="0.000" stop-color="rgb(153,103,0)"/><stop offset="0.157" stop-color="rgb(152,103,0)"/><stop offset="0.207" stop-color="rgb(146,98,0)"/><stop offset="0.214" stop-color="rgb(140,92,0)"/><stop offset="0.236" stop-color="rgb(121,75,0)"/><stop offset="0.257" stop-color="rgb(105,64,0)"/><stop offset="0.264" stop-color="rgb(98,59,0)"/><stop offset="0.286" stop-color="rgb(71,51,0)"/><stop offset="0.289" stop-color="rgb(67,49,0)"/><stop offset="0.314" stop-color="rgb(42,39,0)"/><stop offset="0.386" stop-color="rgb(40,39,0)"/><stop offset="0.414" stop-color="rgb(51,43,0)"/><stop offset="0.436" stop-color="rgb(81,52,0)"/><stop offset="0.454" stop-color="rgb(51,43,0)"/><stop offset="0.479" stop-color="rgb(40,39,0)"/><stop offset="0.529" stop-color="rgb(44,39,0)"/><stop offset="0.571" stop-color="rgb(53,43,0)"/><stop offset="0.657" stop-color="rgb(53,43,0)"/><stop offset="0.686" stop-color="rgb(70,50,0)"/><stop offset="0.700" stop-color="rgb(78,55,0)"/><stop offset="0.714" stop-color="rgb(94,64,0)"/><stop offset="0.729" stop-color="rgb(106,70,0)"/><stop offset="0.757" stop-color="rgb(133,89,0)"/><stop offset="0.814" stop-color="rgb(149,102,0)"/><stop offset="1.000" stop-color="rgb(158,106,0)"/></linearGradient>
<rect x="528.0" y="8" width="8.6" height="140" fill="url(#gb22)"/>
<linearGradient id="gb23" gradientUnits="userSpaceOnUse" x1="0" y1="8" x2="0" y2="148"><stop offset="0.000" stop-color="rgb(154,103,0)"/><stop offset="0.157" stop-color="rgb(153,103,0)"/><stop offset="0.207" stop-color="rgb(143,96,0)"/><stop offset="0.214" stop-color="rgb(138,91,0)"/><stop offset="0.236" stop-color="rgb(120,75,0)"/><stop offset="0.257" stop-color="rgb(105,64,0)"/><stop offset="0.264" stop-color="rgb(98,60,0)"/><stop offset="0.286" stop-color="rgb(69,50,0)"/><stop offset="0.289" stop-color="rgb(65,49,0)"/><stop offset="0.314" stop-color="rgb(43,39,0)"/><stop offset="0.386" stop-color="rgb(41,39,0)"/><stop offset="0.414" stop-color="rgb(50,42,0)"/><stop offset="0.436" stop-color="rgb(74,49,0)"/><stop offset="0.454" stop-color="rgb(50,42,0)"/><stop offset="0.479" stop-color="rgb(42,39,0)"/><stop offset="0.529" stop-color="rgb(45,39,0)"/><stop offset="0.571" stop-color="rgb(52,42,0)"/><stop offset="0.657" stop-color="rgb(52,42,0)"/><stop offset="0.686" stop-color="rgb(73,50,0)"/><stop offset="0.700" stop-color="rgb(84,58,0)"/><stop offset="0.714" stop-color="rgb(100,68,0)"/><stop offset="0.729" stop-color="rgb(112,75,0)"/><stop offset="0.757" stop-color="rgb(136,92,0)"/><stop offset="0.814" stop-color="rgb(149,102,0)"/><stop offset="1.000" stop-color="rgb(158,106,0)"/></linearGradient>
<rect x="536.0" y="8" width="8.6" height="140" fill="url(#gb23)"/>
<linearGradient id="gb24" gradientUnits="userSpaceOnUse" x1="0" y1="8" x2="0" y2="148"><stop offset="0.000" stop-color="rgb(154,104,0)"/><stop offset="0.157" stop-color="rgb(155,104,0)"/><stop offset="0.207" stop-color="rgb(141,94,0)"/><stop offset="0.214" stop-color="rgb(136,89,0)"/><stop offset="0.236" stop-color="rgb(119,75,0)"/><stop offset="0.257" stop-color="rgb(105,65,0)"/><stop offset="0.264" stop-color="rgb(96,60,0)"/><stop offset="0.286" stop-color="rgb(66,49,0)"/><stop offset="0.289" stop-color="rgb(63,48,0)"/><stop offset="0.314" stop-color="rgb(44,39,0)"/><stop offset="0.386" stop-color="rgb(43,39,0)"/><stop offset="0.414" stop-color="rgb(50,41,0)"/><stop offset="0.436" stop-color="rgb(67,46,0)"/><stop offset="0.454" stop-color="rgb(50,41,0)"/><stop offset="0.479" stop-color="rgb(43,39,0)"/><stop offset="0.529" stop-color="rgb(46,39,0)"/><stop offset="0.571" stop-color="rgb(51,41,0)"/><stop offset="0.657" stop-color="rgb(52,41,0)"/><stop offset="0.686" stop-color="rgb(76,51,0)"/><stop offset="0.700" stop-color="rgb(90,61,0)"/><stop offset="0.714" stop-color="rgb(107,73,0)"/><stop offset="0.729" stop-color="rgb(117,79,0)"/><stop offset="0.757" stop-color="rgb(139,94,0)"/><stop offset="0.814" stop-color="rgb(149,102,0)"/><stop offset="1.000" stop-color="rgb(158,106,0)"/></linearGradient>
<rect x="544.0" y="8" width="8.6" height="140" fill="url(#gb24)"/>
<linearGradient id="gb25" gradientUnits="userSpaceOnUse" x1="0" y1="8" x2="0" y2="148"><stop offset="0.000" stop-color="rgb(155,105,0)"/><stop offset="0.157" stop-color="rgb(156,105,0)"/><stop offset="0.207" stop-color="rgb(138,92,0)"/><stop offset="0.214" stop-color="rgb(134,88,0)"/><stop offset="0.236" stop-color="rgb(119,76,0)"/><stop offset="0.257" stop-color="rgb(105,66,0)"/><stop offset="0.264" stop-color="rgb(96,61,0)"/><stop offset="0.286" stop-color="rgb(64,49,0)"/><stop offset="0.289" stop-color="rgb(62,47,0)"/><stop offset="0.314" stop-color="rgb(45,39,0)"/><stop offset="0.386" stop-color="rgb(45,39,0)"/><stop offset="0.414" stop-color="rgb(49,40,0)"/><stop offset="0.436" stop-color="rgb(60,43,0)"/><stop offset="0.454" stop-color="rgb(49,40,0)"/><stop offset="0.479" stop-color="rgb(45,39,0)"/><stop offset="0.529" stop-color="rgb(47,39,0)"/><stop offset="0.571" stop-color="rgb(51,40,0)"/><stop offset="0.657" stop-color="rgb(51,40,0)"/><stop offset="0.686" stop-color="rgb(79,52,0)"/><stop offset="0.700" stop-color="rgb(95,64,0)"/><stop offset="0.714" stop-color="rgb(114,77,0)"/><stop offset="0.729" stop-color="rgb(123,83,0)"/><stop offset="0.757" stop-color="rgb(142,97,0)"/><stop offset="0.814" stop-color="rgb(150,102,0)"/><stop offset="1.000" stop-color="rgb(159,106,0)"/></linearGradient>
<rect x="552.0" y="8" width="8.6" height="140" fill="url(#gb25)"/>
<linearGradient id="gb26" gradientUnits="userSpaceOnUse" x1="0" y1="8" x2="0" y2="148"><stop offset="0.000" stop-color="rgb(156,106,0)"/><stop offset="0.157" stop-color="rgb(157,106,0)"/><stop offset="0.207" stop-color="rgb(135,90,0)"/><stop offset="0.214" stop-color="rgb(132,86,0)"/><stop offset="0.236" stop-color="rgb(118,76,0)"/><stop offset="0.257" stop-color="rgb(105,66,0)"/><stop offset="0.264" stop-color="rgb(94,61,0)"/><stop offset="0.286" stop-color="rgb(62,48,0)"/><stop offset="0.289" stop-color="rgb(60,47,0)"/><stop offset="0.314" stop-color="rgb(46,39,0)"/><stop offset="0.386" stop-color="rgb(46,39,0)"/><stop offset="0.414" stop-color="rgb(48,39,0)"/><stop offset="0.436" stop-color="rgb(53,41,0)"/><stop offset="0.454" stop-color="rgb(49,39,0)"/><stop offset="0.479" stop-color="rgb(47,39,0)"/><stop offset="0.529" stop-color="rgb(48,39,0)"/><stop offset="0.571" stop-color="rgb(50,39,0)"/><stop offset="0.657" stop-color="rgb(50,39,0)"/><stop offset="0.686" stop-color="rgb(83,53,0)"/><stop offset="0.700" stop-color="rgb(101,67,0)"/><stop offset="0.714" stop-color="rgb(120,82,0)"/><stop offset="0.729" stop-color="rgb(129,87,0)"/><stop offset="0.757" stop-color="rgb(146,99,0)"/><stop offset="0.814" stop-color="rgb(150,102,0)"/><stop offset="1.000" stop-color="rgb(159,106,0)"/></linearGradient>
<rect x="560.0" y="8" width="8.6" height="140" fill="url(#gb26)"/>
<linearGradient id="gb27" gradientUnits="userSpaceOnUse" x1="0" y1="8" x2="0" y2="148"><stop offset="0.000" stop-color="rgb(157,107,0)"/><stop offset="0.050" stop-color="rgb(157,106,0)"/><stop offset="0.100" stop-color="rgb(157,106,0)"/><stop offset="0.157" stop-color="rgb(158,106,0)"/><stop offset="0.214" stop-color="rgb(130,85,0)"/><stop offset="0.229" stop-color="rgb(122,79,0)"/><stop offset="0.257" stop-color="rgb(105,66,0)"/><stop offset="0.286" stop-color="rgb(60,47,0)"/><stop offset="0.314" stop-color="rgb(47,39,0)"/><stop offset="0.571" stop-color="rgb(49,39,0)"/><stop offset="0.600" stop-color="rgb(51,39,0)"/><stop offset="0.629" stop-color="rgb(53,40,0)"/><stop offset="0.657" stop-color="rgb(54,41,0)"/><stop offset="0.671" stop-color="rgb(71,48,0)"/><stop offset="0.686" stop-color="rgb(88,55,0)"/><stop offset="0.714" stop-color="rgb(126,86,0)"/><stop offset="0.757" stop-color="rgb(148,101,0)"/><stop offset="1.000" stop-color="rgb(159,106,0)"/></linearGradient>
<rect x="568.0" y="8" width="8.6" height="140" fill="url(#gb27)"/>
<linearGradient id="gb28" gradientUnits="userSpaceOnUse" x1="0" y1="8" x2="0" y2="148"><stop offset="0.000" stop-color="rgb(157,106,0)"/><stop offset="0.050" stop-color="rgb(156,106,0)"/><stop offset="0.100" stop-color="rgb(154,104,0)"/><stop offset="0.157" stop-color="rgb(157,106,0)"/><stop offset="0.214" stop-color="rgb(130,85,0)"/><stop offset="0.229" stop-color="rgb(122,79,0)"/><stop offset="0.257" stop-color="rgb(103,64,0)"/><stop offset="0.286" stop-color="rgb(59,47,0)"/><stop offset="0.314" stop-color="rgb(47,39,0)"/><stop offset="0.571" stop-color="rgb(49,39,0)"/><stop offset="0.600" stop-color="rgb(57,41,0)"/><stop offset="0.629" stop-color="rgb(65,48,0)"/><stop offset="0.657" stop-color="rgb(69,50,0)"/><stop offset="0.671" stop-color="rgb(84,57,0)"/><stop offset="0.686" stop-color="rgb(98,63,0)"/><stop offset="0.714" stop-color="rgb(130,89,0)"/><stop offset="0.757" stop-color="rgb(149,102,0)"/><stop offset="1.000" stop-color="rgb(160,106,0)"/></linearGradient>
<rect x="576.0" y="8" width="8.6" height="140" fill="url(#gb28)"/>
<linearGradient id="gb29" gradientUnits="userSpaceOnUse" x1="0" y1="8" x2="0" y2="148"><stop offset="0.000" stop-color="rgb(157,106,0)"/><stop offset="0.050" stop-color="rgb(155,105,0)"/><stop offset="0.100" stop-color="rgb(150,102,0)"/><stop offset="0.157" stop-color="rgb(156,105,0)"/><stop offset="0.214" stop-color="rgb(130,85,0)"/><stop offset="0.229" stop-color="rgb(123,79,0)"/><stop offset="0.257" stop-color="rgb(101,62,0)"/><stop offset="0.286" stop-color="rgb(59,46,0)"/><stop offset="0.314" stop-color="rgb(47,39,0)"/><stop offset="0.571" stop-color="rgb(50,39,0)"/><stop offset="0.600" stop-color="rgb(63,44,0)"/><stop offset="0.629" stop-color="rgb(78,55,0)"/><stop offset="0.657" stop-color="rgb(83,59,0)"/><stop offset="0.671" stop-color="rgb(97,66,0)"/><stop offset="0.686" stop-color="rgb(109,71,0)"/><stop offset="0.714" stop-color="rgb(135,91,0)"/><stop offset="0.757" stop-color="rgb(150,102,0)"/><stop offset="1.000" stop-color="rgb(160,106,0)"/></linearGradient>
<rect x="584.0" y="8" width="8.6" height="140" fill="url(#gb29)"/>
<linearGradient id="gb30" gradientUnits="userSpaceOnUse" x1="0" y1="8" x2="0" y2="148"><stop offset="0.000" stop-color="rgb(157,105,0)"/><stop offset="0.050" stop-color="rgb(154,104,0)"/><stop offset="0.100" stop-color="rgb(147,100,0)"/><stop offset="0.157" stop-color="rgb(155,104,0)"/><stop offset="0.214" stop-color="rgb(130,85,0)"/><stop offset="0.229" stop-color="rgb(123,80,0)"/><stop offset="0.257" stop-color="rgb(100,60,0)"/><stop offset="0.286" stop-color="rgb(58,46,0)"/><stop offset="0.314" stop-color="rgb(47,39,0)"/><stop offset="0.571" stop-color="rgb(50,39,0)"/><stop offset="0.600" stop-color="rgb(70,46,0)"/><stop offset="0.629" stop-color="rgb(90,63,0)"/><stop offset="0.657" stop-color="rgb(98,68,0)"/><stop offset="0.671" stop-color="rgb(110,75,0)"/><stop offset="0.686" stop-color="rgb(119,78,0)"/><stop offset="0.714" stop-color="rgb(139,94,0)"/><stop offset="0.757" stop-color="rgb(151,102,0)"/><stop offset="1.000" stop-color="rgb(160,106,0)"/></linearGradient>
<rect x="592.0" y="8" width="8.6" height="140" fill="url(#gb30)"/>
<linearGradient id="gb31" gradientUnits="userSpaceOnUse" x1="0" y1="8" x2="0" y2="148"><stop offset="0.000" stop-color="rgb(157,105,0)"/><stop offset="0.050" stop-color="rgb(154,103,0)"/><stop offset="0.100" stop-color="rgb(144,98,0)"/><stop offset="0.157" stop-color="rgb(154,103,0)"/><stop offset="0.214" stop-color="rgb(130,85,0)"/><stop offset="0.229" stop-color="rgb(124,80,0)"/><stop offset="0.257" stop-color="rgb(98,58,0)"/><stop offset="0.286" stop-color="rgb(58,45,0)"/><stop offset="0.314" stop-color="rgb(47,39,0)"/><stop offset="0.571" stop-color="rgb(50,39,0)"/><stop offset="0.600" stop-color="rgb(76,49,0)"/><stop offset="0.629" stop-color="rgb(103,70,0)"/><stop offset="0.657" stop-color="rgb(113,78,0)"/><stop offset="0.671" stop-color="rgb(124,84,0)"/><stop offset="0.686" stop-color="rgb(130,86,0)"/><stop offset="0.714" stop-color="rgb(143,97,0)"/><stop offset="0.757" stop-color="rgb(151,102,0)"/><stop offset="1.000" stop-color="rgb(161,106,0)"/></linearGradient>
<rect x="600.0" y="8" width="8.6" height="140" fill="url(#gb31)"/>
<linearGradient id="gb32" gradientUnits="userSpaceOnUse" x1="0" y1="8" x2="0" y2="148"><stop offset="0.000" stop-color="rgb(157,104,0)"/><stop offset="0.050" stop-color="rgb(153,102,0)"/><stop offset="0.100" stop-color="rgb(141,95,0)"/><stop offset="0.157" stop-color="rgb(153,102,0)"/><stop offset="0.214" stop-color="rgb(130,84,0)"/><stop offset="0.229" stop-color="rgb(124,80,0)"/><stop offset="0.257" stop-color="rgb(97,55,0)"/><stop offset="0.286" stop-color="rgb(57,45,0)"/><stop offset="0.314" stop-color="rgb(47,39,0)"/><stop offset="0.571" stop-color="rgb(50,39,0)"/><stop offset="0.600" stop-color="rgb(82,51,0)"/><stop offset="0.629" stop-color="rgb(115,78,0)"/><stop offset="0.657" stop-color="rgb(128,87,0)"/><stop offset="0.671" stop-color="rgb(137,92,0)"/><stop offset="0.686" stop-color="rgb(140,94,0)"/><stop offset="0.714" stop-color="rgb(147,99,0)"/><stop offset="0.757" stop-color="rgb(152,102,0)"/><stop offset="1.000" stop-color="rgb(161,106,0)"/></linearGradient>
<rect x="608.0" y="8" width="8.6" height="140" fill="url(#gb32)"/>
<linearGradient id="gb33" gradientUnits="userSpaceOnUse" x1="0" y1="8" x2="0" y2="148"><stop offset="0.000" stop-color="rgb(157,104,0)"/><stop offset="0.050" stop-color="rgb(152,101,0)"/><stop offset="0.100" stop-color="rgb(138,93,0)"/><stop offset="0.157" stop-color="rgb(152,101,0)"/><stop offset="0.214" stop-color="rgb(130,84,0)"/><stop offset="0.229" stop-color="rgb(125,80,0)"/><stop offset="0.257" stop-color="rgb(95,53,0)"/><stop offset="0.286" stop-color="rgb(57,44,0)"/><stop offset="0.314" stop-color="rgb(47,39,0)"/><stop offset="0.571" stop-color="rgb(50,39,0)"/><stop offset="0.600" stop-color="rgb(88,53,0)"/><stop offset="0.629" stop-color="rgb(128,85,0)"/><stop offset="0.657" stop-color="rgb(143,96,0)"/><stop offset="0.671" stop-color="rgb(150,101,0)"/><stop offset="0.686" stop-color="rgb(150,102,0)"/><stop offset="0.714" stop-color="rgb(152,102,0)"/><stop offset="0.757" stop-color="rgb(153,103,0)"/><stop offset="1.000" stop-color="rgb(162,106,0)"/></linearGradient>
<rect x="616.0" y="8" width="8.6" height="140" fill="url(#gb33)"/>
<linearGradient id="gb34" gradientUnits="userSpaceOnUse" x1="0" y1="8" x2="0" y2="148"><stop offset="0.000" stop-color="rgb(157,104,0)"/><stop offset="0.029" stop-color="rgb(154,102,0)"/><stop offset="0.050" stop-color="rgb(150,100,0)"/><stop offset="0.071" stop-color="rgb(143,96,0)"/><stop offset="0.100" stop-color="rgb(138,93,0)"/><stop offset="0.129" stop-color="rgb(144,97,0)"/><stop offset="0.157" stop-color="rgb(148,99,0)"/><stop offset="0.214" stop-color="rgb(128,83,0)"/><stop offset="0.229" stop-color="rgb(122,78,0)"/><stop offset="0.257" stop-color="rgb(94,55,0)"/><stop offset="0.264" stop-color="rgb(85,52,0)"/><stop offset="0.286" stop-color="rgb(58,45,0)"/><stop offset="0.293" stop-color="rgb(54,43,0)"/><stop offset="0.314" stop-color="rgb(49,40,0)"/><stop offset="0.557" stop-color="rgb(50,39,0)"/><stop offset="0.571" stop-color="rgb(55,41,0)"/><stop offset="0.586" stop-color="rgb(75,49,0)"/><stop offset="0.600" stop-color="rgb(94,58,0)"/><stop offset="0.614" stop-color="rgb(113,74,0)"/><stop offset="0.629" stop-color="rgb(130,87,0)"/><stop offset="0.657" stop-color="rgb(145,97,0)"/><stop offset="0.671" stop-color="rgb(151,101,0)"/><stop offset="1.000" stop-color="rgb(162,106,0)"/></linearGradient>
<rect x="624.0" y="8" width="8.6" height="140" fill="url(#gb34)"/>
<linearGradient id="gb35" gradientUnits="userSpaceOnUse" x1="0" y1="8" x2="0" y2="148"><stop offset="0.000" stop-color="rgb(156,103,0)"/><stop offset="0.029" stop-color="rgb(153,102,0)"/><stop offset="0.050" stop-color="rgb(148,99,0)"/><stop offset="0.071" stop-color="rgb(141,95,0)"/><stop offset="0.100" stop-color="rgb(138,93,0)"/><stop offset="0.129" stop-color="rgb(144,97,0)"/><stop offset="0.157" stop-color="rgb(144,96,0)"/><stop offset="0.214" stop-color="rgb(127,82,0)"/><stop offset="0.229" stop-color="rgb(119,77,0)"/><stop offset="0.257" stop-color="rgb(93,56,0)"/><stop offset="0.264" stop-color="rgb(85,53,0)"/><stop offset="0.286" stop-color="rgb(59,46,0)"/><stop offset="0.293" stop-color="rgb(54,44,0)"/><stop offset="0.314" stop-color="rgb(50,41,0)"/><stop offset="0.557" stop-color="rgb(51,39,0)"/><stop offset="0.571" stop-color="rgb(61,43,0)"/><stop offset="0.586" stop-color="rgb(81,52,0)"/><stop offset="0.600" stop-color="rgb(100,63,0)"/><stop offset="0.614" stop-color="rgb(119,79,0)"/><stop offset="0.629" stop-color="rgb(133,89,0)"/><stop offset="0.657" stop-color="rgb(147,98,0)"/><stop offset="0.671" stop-color="rgb(151,101,0)"/><stop offset="1.000" stop-color="rgb(163,106,0)"/></linearGradient>
<rect x="632.0" y="8" width="8.6" height="140" fill="url(#gb35)"/>
<linearGradient id="gb36" gradientUnits="userSpaceOnUse" x1="0" y1="8" x2="0" y2="148"><stop offset="0.000" stop-color="rgb(156,103,0)"/><stop offset="0.029" stop-color="rgb(153,102,0)"/><stop offset="0.050" stop-color="rgb(146,98,0)"/><stop offset="0.071" stop-color="rgb(138,93,0)"/><stop offset="0.100" stop-color="rgb(138,93,0)"/><stop offset="0.129" stop-color="rgb(143,96,0)"/><stop offset="0.157" stop-color="rgb(141,94,0)"/><stop offset="0.214" stop-color="rgb(125,81,0)"/><stop offset="0.229" stop-color="rgb(116,75,0)"/><stop offset="0.257" stop-color="rgb(92,58,0)"/><stop offset="0.264" stop-color="rgb(85,55,0)"/><stop offset="0.286" stop-color="rgb(60,46,0)"/><stop offset="0.293" stop-color="rgb(54,44,0)"/><stop offset="0.314" stop-color="rgb(52,42,0)"/><stop offset="0.557" stop-color="rgb(51,39,0)"/><stop offset="0.571" stop-color="rgb(66,45,0)"/><stop offset="0.586" stop-color="rgb(87,55,0)"/><stop offset="0.600" stop-color="rgb(105,68,0)"/><stop offset="0.614" stop-color="rgb(124,84,0)"/><stop offset="0.629" stop-color="rgb(135,91,0)"/><stop offset="0.657" stop-color="rgb(149,100,0)"/><stop offset="0.671" stop-color="rgb(152,101,0)"/><stop offset="1.000" stop-color="rgb(164,106,0)"/></linearGradient>
<rect x="640.0" y="8" width="8.6" height="140" fill="url(#gb36)"/>
<linearGradient id="gb37" gradientUnits="userSpaceOnUse" x1="0" y1="8" x2="0" y2="148"><stop offset="0.000" stop-color="rgb(156,103,0)"/><stop offset="0.029" stop-color="rgb(152,101,0)"/><stop offset="0.050" stop-color="rgb(144,96,0)"/><stop offset="0.071" stop-color="rgb(135,91,0)"/><stop offset="0.100" stop-color="rgb(138,93,0)"/><stop offset="0.129" stop-color="rgb(142,96,0)"/><stop offset="0.157" stop-color="rgb(137,92,0)"/><stop offset="0.214" stop-color="rgb(123,80,0)"/><stop offset="0.229" stop-color="rgb(113,74,0)"/><stop offset="0.257" stop-color="rgb(91,59,0)"/><stop offset="0.264" stop-color="rgb(85,56,0)"/><stop offset="0.286" stop-color="rgb(61,47,0)"/><stop offset="0.293" stop-color="rgb(54,44,0)"/><stop offset="0.314" stop-color="rgb(53,43,0)"/><stop offset="0.557" stop-color="rgb(52,39,0)"/><stop offset="0.571" stop-color="rgb(71,48,0)"/><stop offset="0.586" stop-color="rgb(93,58,0)"/><stop offset="0.600" stop-color="rgb(111,73,0)"/><stop offset="0.614" stop-color="rgb(130,89,0)"/><stop offset="0.629" stop-color="rgb(138,93,0)"/><stop offset="0.657" stop-color="rgb(151,101,0)"/><stop offset="0.671" stop-color="rgb(152,102,0)"/><stop offset="1.000" stop-color="rgb(164,106,0)"/></linearGradient>
<rect x="648.0" y="8" width="8.6" height="140" fill="url(#gb37)"/>
<linearGradient id="gb38" gradientUnits="userSpaceOnUse" x1="0" y1="8" x2="0" y2="148"><stop offset="0.000" stop-color="rgb(156,103,0)"/><stop offset="0.029" stop-color="rgb(152,101,0)"/><stop offset="0.071" stop-color="rgb(134,91,0)"/><stop offset="0.129" stop-color="rgb(142,96,0)"/><stop offset="0.214" stop-color="rgb(122,80,0)"/><stop offset="0.264" stop-color="rgb(85,56,0)"/><stop offset="0.293" stop-color="rgb(54,44,0)"/><stop offset="0.557" stop-color="rgb(52,39,0)"/><stop offset="0.586" stop-color="rgb(95,59,0)"/><stop offset="0.614" stop-color="rgb(132,91,0)"/><stop offset="0.657" stop-color="rgb(152,101,0)"/><stop offset="1.000" stop-color="rgb(164,106,0)"/></linearGradient>
<rect x="656.0" y="8" width="8.6" height="140" fill="url(#gb38)"/>
</g>
</g></g>
<polygon points="101.90,31.70 112.10,31.70 112.10,81.30 118.00,81.30 106.80,91.90 95.80,81.30 101.90,81.30" fill="none" stroke="#f7bd8c" stroke-width="1.8" stroke-linejoin="miter"/>
<rect x="37" y="131" width="53" height="4" fill="#fff"/>
<rect x="226" y="46" width="40.2" height="31.6" fill="none" stroke="#ffc000" stroke-width="2" stroke-dasharray="5.2 1.5"/>
<line x1="226.00" y1="77.60" x2="188.80" y2="146.30" stroke="#ffc000" stroke-width="2" stroke-dasharray="5.2 1.5"/>
<line x1="266.20" y1="77.60" x2="310.90" y2="146.30" stroke="#ffc000" stroke-width="2" stroke-dasharray="5.2 1.5"/>
<polygon points="420.80,40.90 433.00,40.90 433.00,102.30 439.00,102.30 426.90,113.60 414.60,102.30 420.80,102.30" fill="none" stroke="#2a6fd8" stroke-width="2" />
<rect x="372.4" y="131" width="38" height="3.6" fill="#fff"/>
<rect x="499" y="48" width="41.6" height="33.8" fill="none" stroke="#00b0f0" stroke-width="2" stroke-dasharray="5.2 1.5"/>
<line x1="499.00" y1="81.80" x2="526.80" y2="145.30" stroke="#00b0f0" stroke-width="2" stroke-dasharray="5.2 1.5"/>
<line x1="540.60" y1="81.80" x2="648.90" y2="145.80" stroke="#00b0f0" stroke-width="2" stroke-dasharray="5.2 1.5"/>
<polygon points="57.20,172.60 58.99,175.69 61.56,176.97 63.36,188.53 65.41,205.23 66.70,203.94 68.49,196.24 70.55,188.53 73.12,180.82 75.69,177.74 76.97,174.40 78.26,165.41 79.28,161.56 80.31,160.79 81.34,162.84 82.11,170.55 82.88,180.82 84.42,206.51 85.96,232.20 87.25,247.61 89.04,248.90 90.33,241.19 91.10,232.20 92.38,223.21 93.67,219.36 94.95,221.92 98.81,224.49 101.37,232.20 103.94,242.47 105.48,250.18 106.51,252.75 107.80,247.61 109.08,227.06 110.36,209.08 111.65,196.24 112.93,189.82 114.22,191.10 116.79,201.37 119.36,211.65 121.41,227.06 123.21,245.04 125.01,246.33 127.06,227.06 128.35,209.08 129.63,196.24 131.43,188.02 133.48,196.24 136.05,214.22 138.62,227.06 139.90,233.48 141.96,232.71 142.99,237.34 145.04,238.62 146.33,229.63 147.61,216.79 149.67,196.24 151.46,193.15 153.26,198.81 154.80,211.65 156.60,214.22 159.17,224.49 163.02,234.77 165.59,244.53 166.88,239.90 168.16,227.06 169.45,214.22 171.24,203.94 172.78,203.94 174.58,200.09 175.87,205.23 177.15,219.36 178.44,223.21 181.00,222.44 182.29,220.64 183.57,222.44 185.60,221.41 185.60,262.30 57.20,262.30" fill="#f8c194" stroke="none" stroke-width="1" />
<polyline points="57.20,172.60 58.99,175.69 61.56,176.97 63.36,188.53 65.41,205.23 66.70,203.94 68.49,196.24 70.55,188.53 73.12,180.82 75.69,177.74 76.97,174.40 78.26,165.41 79.28,161.56 80.31,160.79 81.34,162.84 82.11,170.55 82.88,180.82 84.42,206.51 85.96,232.20 87.25,247.61 89.04,248.90 90.33,241.19 91.10,232.20 92.38,223.21 93.67,219.36 94.95,221.92 98.81,224.49 101.37,232.20 103.94,242.47 105.48,250.18 106.51,252.75 107.80,247.61 109.08,227.06 110.36,209.08 111.65,196.24 112.93,189.82 114.22,191.10 116.79,201.37 119.36,211.65 121.41,227.06 123.21,245.04 125.01,246.33 127.06,227.06 128.35,209.08 129.63,196.24 131.43,188.02 133.48,196.24 136.05,214.22 138.62,227.06 139.90,233.48 141.96,232.71 142.99,237.34 145.04,238.62 146.33,229.63 147.61,216.79 149.67,196.24 151.46,193.15 153.26,198.81 154.80,211.65 156.60,214.22 159.17,224.49 163.02,234.77 165.59,244.53 166.88,239.90 168.16,227.06 169.45,214.22 171.24,203.94 172.78,203.94 174.58,200.09 175.87,205.23 177.15,219.36 178.44,223.21 181.00,222.44 182.29,220.64 183.57,222.44 185.60,221.41" fill="none" stroke="#6b5a50" stroke-width="0.7" />
<line x1="57.20" y1="160.30" x2="57.20" y2="262.80" stroke="#4a4a4a" stroke-width="1" />
<line x1="56.70" y1="262.30" x2="186.10" y2="262.30" stroke="#4a4a4a" stroke-width="1" />
<line x1="54.70" y1="252.20" x2="57.20" y2="252.20" stroke="#4a4a4a" stroke-width="1" />
<text x="54.40" y="255.50" font-size="9.2" text-anchor="end" fill="#000" font-weight="normal" font-style="normal" >0.0</text>
<line x1="54.70" y1="206.50" x2="57.20" y2="206.50" stroke="#4a4a4a" stroke-width="1" />
<text x="54.40" y="209.80" font-size="9.2" text-anchor="end" fill="#000" font-weight="normal" font-style="normal" >0.5</text>
<line x1="54.70" y1="160.80" x2="57.20" y2="160.80" stroke="#4a4a4a" stroke-width="1" />
<text x="54.40" y="164.10" font-size="9.2" text-anchor="end" fill="#000" font-weight="normal" font-style="normal" >1.0</text>
<line x1="55.70" y1="229.35" x2="57.20" y2="229.35" stroke="#4a4a4a" stroke-width="0.8" />
<line x1="55.70" y1="183.65" x2="57.20" y2="183.65" stroke="#4a4a4a" stroke-width="0.8" />
<line x1="57.20" y1="262.30" x2="57.20" y2="264.80" stroke="#4a4a4a" stroke-width="1" />
<text x="57.20" y="273.30" font-size="10.5" text-anchor="middle" fill="#000" font-weight="normal" font-style="normal" >0</text>
<line x1="78.60" y1="262.30" x2="78.60" y2="263.80" stroke="#4a4a4a" stroke-width="0.8" />
<line x1="100.00" y1="262.30" x2="100.00" y2="264.80" stroke="#4a4a4a" stroke-width="1" />
<text x="100.00" y="273.30" font-size="10.5" text-anchor="middle" fill="#000" font-weight="normal" font-style="normal" >2</text>
<line x1="121.40" y1="262.30" x2="121.40" y2="263.80" stroke="#4a4a4a" stroke-width="0.8" />
<line x1="142.80" y1="262.30" x2="142.80" y2="264.80" stroke="#4a4a4a" stroke-width="1" />
<text x="142.80" y="273.30" font-size="10.5" text-anchor="middle" fill="#000" font-weight="normal" font-style="normal" >4</text>
<line x1="164.20" y1="262.30" x2="164.20" y2="263.80" stroke="#4a4a4a" stroke-width="0.8" />
<line x1="185.60" y1="262.30" x2="185.60" y2="264.80" stroke="#4a4a4a" stroke-width="1" />
<text x="185.60" y="273.30" font-size="10.5" text-anchor="middle" fill="#000" font-weight="normal" font-style="normal" >6</text>
<text x="121.40" y="283.70" font-size="11.5" text-anchor="middle" fill="#000" font-weight="normal" font-style="normal" >Distance (nm)</text>
<text transform="translate(34.90,218.50) rotate(-90)" x="0" y="0" font-size="11.3" text-anchor="middle" fill="#000" >Normalized signal (arb. units)</text>
<polygon points="393.70,199.30 394.50,200.30 395.70,205.40 397.20,201.30 398.60,195.60 399.90,203.40 401.30,211.60 402.70,212.60 404.00,219.80 405.40,227.00 406.40,232.10 408.10,219.80 410.50,211.60 412.60,205.40 414.20,191.10 415.50,170.50 416.30,159.20 417.10,170.50 418.30,199.30 419.80,205.40 421.20,217.70 422.40,236.20 423.90,236.20 425.30,228.00 426.50,212.60 427.60,217.70 429.00,226.00 430.60,217.70 432.10,220.80 433.10,224.90 434.80,228.00 436.20,227.00 438.20,232.10 440.30,240.30 442.40,250.60 443.80,246.50 445.40,232.10 447.50,226.00 449.50,211.60 451.20,191.10 453.20,192.10 455.30,203.40 456.70,215.70 458.20,240.30 458.70,245.50 460.10,240.30 462.20,232.10 464.20,226.00 465.70,236.20 467.30,228.00 469.00,215.70 470.40,209.50 471.80,220.80 473.50,215.70 475.10,223.90 477.20,217.70 478.60,211.60 480.70,217.70 482.30,232.10 483.70,228.00 485.40,210.60 486.80,219.80 488.30,227.00 489.90,209.50 491.50,197.20 493.60,184.90 495.60,175.70 497.10,187.00 498.50,201.30 499.80,199.30 501.20,215.70 502.60,217.70 504.30,208.50 505.90,217.70 507.30,209.50 508.80,197.20 510.40,203.40 512.10,211.60 513.50,191.10 515.00,174.60 516.20,161.90 517.20,170.50 518.60,181.80 520.30,189.00 521.70,194.10 521.70,259.50 393.70,259.50" fill="#1a6fdf" stroke="none" stroke-width="1" />
<rect x="404.6" y="146" width="18.10" height="113.50" fill="#70ad47" fill-opacity="0.2"/>
<rect x="422.7" y="146" width="21.80" height="113.50" fill="#ed7d31" fill-opacity="0.2"/>
<rect x="444.5" y="146" width="17.80" height="113.50" fill="#70ad47" fill-opacity="0.2"/>
<rect x="462.3" y="146" width="21.50" height="113.50" fill="#ed7d31" fill-opacity="0.2"/>
<rect x="483.8" y="146" width="17.90" height="113.50" fill="#70ad47" fill-opacity="0.2"/>
<text transform="translate(416.05,164.80) rotate(-90)" x="0" y="0" font-size="11.5" text-anchor="middle" fill="#70ad47" >MnO<tspan font-size="7.5" dy="2.5">2</tspan></text>
<text transform="translate(435.70,162.50) rotate(-90)" x="0" y="0" font-size="11.5" text-anchor="middle" fill="#ed7d31" >p-Gr</text>
<text transform="translate(455.80,164.80) rotate(-90)" x="0" y="0" font-size="11.5" text-anchor="middle" fill="#70ad47" >MnO<tspan font-size="7.5" dy="2.5">2</tspan></text>
<text transform="translate(475.15,162.50) rotate(-90)" x="0" y="0" font-size="11.5" text-anchor="middle" fill="#ed7d31" >p-Gr</text>
<text transform="translate(495.15,164.80) rotate(-90)" x="0" y="0" font-size="11.5" text-anchor="middle" fill="#70ad47" >MnO<tspan font-size="7.5" dy="2.5">2</tspan></text>
<line x1="393.70" y1="158.50" x2="393.70" y2="260.00" stroke="#4a4a4a" stroke-width="1" />
<line x1="393.20" y1="259.50" x2="522.30" y2="259.50" stroke="#4a4a4a" stroke-width="1" />
<line x1="391.20" y1="250.60" x2="393.70" y2="250.60" stroke="#4a4a4a" stroke-width="1" />
<text x="390.90" y="253.90" font-size="9.2" text-anchor="end" fill="#000" font-weight="normal" font-style="normal" >0.0</text>
<line x1="391.20" y1="204.80" x2="393.70" y2="204.80" stroke="#4a4a4a" stroke-width="1" />
<text x="390.90" y="208.10" font-size="9.2" text-anchor="end" fill="#000" font-weight="normal" font-style="normal" >0.5</text>
<line x1="391.20" y1="159.00" x2="393.70" y2="159.00" stroke="#4a4a4a" stroke-width="1" />
<text x="390.90" y="162.30" font-size="9.2" text-anchor="end" fill="#000" font-weight="normal" font-style="normal" >1.0</text>
<line x1="392.20" y1="227.70" x2="393.70" y2="227.70" stroke="#4a4a4a" stroke-width="0.8" />
<line x1="392.20" y1="181.90" x2="393.70" y2="181.90" stroke="#4a4a4a" stroke-width="0.8" />
<line x1="393.70" y1="259.50" x2="393.70" y2="262.00" stroke="#4a4a4a" stroke-width="1" />
<text x="393.70" y="270.50" font-size="10.5" text-anchor="middle" fill="#000" font-weight="normal" font-style="normal" >0</text>
<line x1="407.93" y1="259.50" x2="407.93" y2="261.00" stroke="#4a4a4a" stroke-width="0.8" />
<line x1="422.17" y1="259.50" x2="422.17" y2="261.00" stroke="#4a4a4a" stroke-width="0.8" />
<line x1="436.40" y1="259.50" x2="436.40" y2="262.00" stroke="#4a4a4a" stroke-width="1" />
<text x="436.40" y="270.50" font-size="10.5" text-anchor="middle" fill="#000" font-weight="normal" font-style="normal" >3</text>
<line x1="450.63" y1="259.50" x2="450.63" y2="261.00" stroke="#4a4a4a" stroke-width="0.8" />
<line x1="464.87" y1="259.50" x2="464.87" y2="261.00" stroke="#4a4a4a" stroke-width="0.8" />
<line x1="479.10" y1="259.50" x2="479.10" y2="262.00" stroke="#4a4a4a" stroke-width="1" />
<text x="479.10" y="270.50" font-size="10.5" text-anchor="middle" fill="#000" font-weight="normal" font-style="normal" >6</text>
<line x1="493.33" y1="259.50" x2="493.33" y2="261.00" stroke="#4a4a4a" stroke-width="0.8" />
<line x1="507.57" y1="259.50" x2="507.57" y2="261.00" stroke="#4a4a4a" stroke-width="0.8" />
<line x1="521.80" y1="259.50" x2="521.80" y2="262.00" stroke="#4a4a4a" stroke-width="1" />
<text x="521.80" y="270.50" font-size="10.5" text-anchor="middle" fill="#000" font-weight="normal" font-style="normal" >9</text>
<text x="457.70" y="280.70" font-size="11.5" text-anchor="middle" fill="#000" font-weight="normal" font-style="normal" >Distance (nm)</text>
<text transform="translate(374.60,217.00) rotate(-90)" x="0" y="0" font-size="11.3" text-anchor="middle" fill="#000" >Normalized signal (arb. units)</text>
<rect x="188.8" y="147.3" width="122.1" height="114.1" fill="none" stroke="#ffc000" stroke-width="2" stroke-dasharray="5.2 1.5"/>
<polygon points="202.10,155.50 296.12,155.00 302.62,179.50 205.60,181.00" fill="#e3d0eb" stroke="none" stroke-width="1" />
<polygon points="202.60,162.00 208.60,158.00 221.60,164.00 226.60,174.00 221.60,179.00 208.60,177.00" fill="#ad5cc6" stroke="none" stroke-width="1" fill-opacity="0.55"/>
<polygon points="225.23,162.00 231.23,158.00 244.23,164.00 249.23,174.00 244.23,179.00 231.23,177.00" fill="#ad5cc6" stroke="none" stroke-width="1" fill-opacity="0.55"/>
<polygon points="247.86,162.00 253.86,158.00 266.86,164.00 271.86,174.00 266.86,179.00 253.86,177.00" fill="#ad5cc6" stroke="none" stroke-width="1" fill-opacity="0.55"/>
<polygon points="270.49,162.00 276.49,158.00 289.49,164.00 294.49,174.00 289.49,179.00 276.49,177.00" fill="#ad5cc6" stroke="none" stroke-width="1" fill-opacity="0.55"/>
<line x1="206.00" y1="156.80" x2="214.80" y2="163.40" stroke="#e0304c" stroke-width="1.05" stroke-opacity="0.9"/>
<line x1="204.76" y1="158.50" x2="213.56" y2="165.10" stroke="#b02ab4" stroke-width="1.05" stroke-opacity="0.9"/>
<line x1="203.52" y1="160.20" x2="212.32" y2="166.80" stroke="#e0304c" stroke-width="1.05" stroke-opacity="0.9"/>
<line x1="202.28" y1="161.90" x2="211.08" y2="168.50" stroke="#b02ab4" stroke-width="1.05" stroke-opacity="0.9"/>
<line x1="201.04" y1="163.60" x2="209.84" y2="170.20" stroke="#e0304c" stroke-width="1.05" stroke-opacity="0.9"/>
<line x1="199.80" y1="165.30" x2="208.60" y2="171.90" stroke="#b02ab4" stroke-width="1.05" stroke-opacity="0.9"/>
<line x1="217.60" y1="171.20" x2="226.00" y2="177.50" stroke="#e0304c" stroke-width="1.05" stroke-opacity="0.9"/>
<line x1="216.50" y1="172.70" x2="224.90" y2="179.00" stroke="#b02ab4" stroke-width="1.05" stroke-opacity="0.9"/>
<line x1="215.40" y1="174.20" x2="223.80" y2="180.50" stroke="#e0304c" stroke-width="1.05" stroke-opacity="0.9"/>
<line x1="214.30" y1="175.70" x2="222.70" y2="182.00" stroke="#b02ab4" stroke-width="1.05" stroke-opacity="0.9"/>
<line x1="213.20" y1="177.20" x2="221.60" y2="183.50" stroke="#e0304c" stroke-width="1.05" stroke-opacity="0.9"/>
<line x1="228.63" y1="156.80" x2="237.43" y2="163.40" stroke="#e0304c" stroke-width="1.05" stroke-opacity="0.9"/>
<line x1="227.39" y1="158.50" x2="236.19" y2="165.10" stroke="#b02ab4" stroke-width="1.05" stroke-opacity="0.9"/>
<line x1="226.15" y1="160.20" x2="234.95" y2="166.80" stroke="#e0304c" stroke-width="1.05" stroke-opacity="0.9"/>
<line x1="224.91" y1="161.90" x2="233.71" y2="168.50" stroke="#b02ab4" stroke-width="1.05" stroke-opacity="0.9"/>
<line x1="223.67" y1="163.60" x2="232.47" y2="170.20" stroke="#e0304c" stroke-width="1.05" stroke-opacity="0.9"/>
<line x1="222.43" y1="165.30" x2="231.23" y2="171.90" stroke="#b02ab4" stroke-width="1.05" stroke-opacity="0.9"/>
<line x1="240.23" y1="171.20" x2="248.63" y2="177.50" stroke="#e0304c" stroke-width="1.05" stroke-opacity="0.9"/>
<line x1="239.13" y1="172.70" x2="247.53" y2="179.00" stroke="#b02ab4" stroke-width="1.05" stroke-opacity="0.9"/>
<line x1="238.03" y1="174.20" x2="246.43" y2="180.50" stroke="#e0304c" stroke-width="1.05" stroke-opacity="0.9"/>
<line x1="236.93" y1="175.70" x2="245.33" y2="182.00" stroke="#b02ab4" stroke-width="1.05" stroke-opacity="0.9"/>
<line x1="235.83" y1="177.20" x2="244.23" y2="183.50" stroke="#e0304c" stroke-width="1.05" stroke-opacity="0.9"/>
<line x1="251.26" y1="156.80" x2="260.06" y2="163.40" stroke="#e0304c" stroke-width="1.05" stroke-opacity="0.9"/>
<line x1="250.02" y1="158.50" x2="258.82" y2="165.10" stroke="#b02ab4" stroke-width="1.05" stroke-opacity="0.9"/>
<line x1="248.78" y1="160.20" x2="257.58" y2="166.80" stroke="#e0304c" stroke-width="1.05" stroke-opacity="0.9"/>
<line x1="247.54" y1="161.90" x2="256.34" y2="168.50" stroke="#b02ab4" stroke-width="1.05" stroke-opacity="0.9"/>
<line x1="246.30" y1="163.60" x2="255.10" y2="170.20" stroke="#e0304c" stroke-width="1.05" stroke-opacity="0.9"/>
<line x1="245.06" y1="165.30" x2="253.86" y2="171.90" stroke="#b02ab4" stroke-width="1.05" stroke-opacity="0.9"/>
<line x1="262.86" y1="171.20" x2="271.26" y2="177.50" stroke="#e0304c" stroke-width="1.05" stroke-opacity="0.9"/>
<line x1="261.76" y1="172.70" x2="270.16" y2="179.00" stroke="#b02ab4" stroke-width="1.05" stroke-opacity="0.9"/>
<line x1="260.66" y1="174.20" x2="269.06" y2="180.50" stroke="#e0304c" stroke-width="1.05" stroke-opacity="0.9"/>
<line x1="259.56" y1="175.70" x2="267.96" y2="182.00" stroke="#b02ab4" stroke-width="1.05" stroke-opacity="0.9"/>
<line x1="258.46" y1="177.20" x2="266.86" y2="183.50" stroke="#e0304c" stroke-width="1.05" stroke-opacity="0.9"/>
<line x1="273.89" y1="156.80" x2="282.69" y2="163.40" stroke="#e0304c" stroke-width="1.05" stroke-opacity="0.9"/>
<line x1="272.65" y1="158.50" x2="281.45" y2="165.10" stroke="#b02ab4" stroke-width="1.05" stroke-opacity="0.9"/>
<line x1="271.41" y1="160.20" x2="280.21" y2="166.80" stroke="#e0304c" stroke-width="1.05" stroke-opacity="0.9"/>
<line x1="270.17" y1="161.90" x2="278.97" y2="168.50" stroke="#b02ab4" stroke-width="1.05" stroke-opacity="0.9"/>
<line x1="268.93" y1="163.60" x2="277.73" y2="170.20" stroke="#e0304c" stroke-width="1.05" stroke-opacity="0.9"/>
<line x1="267.69" y1="165.30" x2="276.49" y2="171.90" stroke="#b02ab4" stroke-width="1.05" stroke-opacity="0.9"/>
<line x1="285.49" y1="171.20" x2="293.89" y2="177.50" stroke="#e0304c" stroke-width="1.05" stroke-opacity="0.9"/>
<line x1="284.39" y1="172.70" x2="292.79" y2="179.00" stroke="#b02ab4" stroke-width="1.05" stroke-opacity="0.9"/>
<line x1="283.29" y1="174.20" x2="291.69" y2="180.50" stroke="#e0304c" stroke-width="1.05" stroke-opacity="0.9"/>
<line x1="282.19" y1="175.70" x2="290.59" y2="182.00" stroke="#b02ab4" stroke-width="1.05" stroke-opacity="0.9"/>
<line x1="281.09" y1="177.20" x2="289.49" y2="183.50" stroke="#e0304c" stroke-width="1.05" stroke-opacity="0.9"/>
<circle cx="204.00" cy="156.00" r="2.30" fill="url(#gR)"/>
<circle cx="201.93" cy="158.83" r="2.30" fill="url(#gR)"/>
<circle cx="199.86" cy="161.66" r="2.30" fill="url(#gR)"/>
<circle cx="197.79" cy="164.49" r="2.30" fill="url(#gR)"/>
<circle cx="209.30" cy="175.70" r="1.70" fill="url(#gR)"/>
<circle cx="208.10" cy="177.60" r="1.90" fill="url(#gR)"/>
<circle cx="206.00" cy="180.40" r="2.50" fill="url(#gR)"/>
<circle cx="226.63" cy="156.00" r="2.30" fill="url(#gR)"/>
<circle cx="224.56" cy="158.83" r="2.30" fill="url(#gR)"/>
<circle cx="222.49" cy="161.66" r="2.30" fill="url(#gR)"/>
<circle cx="220.42" cy="164.49" r="2.30" fill="url(#gR)"/>
<circle cx="231.93" cy="175.70" r="1.70" fill="url(#gR)"/>
<circle cx="230.73" cy="177.60" r="1.90" fill="url(#gR)"/>
<circle cx="228.63" cy="180.40" r="2.50" fill="url(#gR)"/>
<circle cx="249.26" cy="156.00" r="2.30" fill="url(#gR)"/>
<circle cx="247.19" cy="158.83" r="2.30" fill="url(#gR)"/>
<circle cx="245.12" cy="161.66" r="2.30" fill="url(#gR)"/>
<circle cx="243.05" cy="164.49" r="2.30" fill="url(#gR)"/>
<circle cx="254.56" cy="175.70" r="1.70" fill="url(#gR)"/>
<circle cx="253.36" cy="177.60" r="1.90" fill="url(#gR)"/>
<circle cx="251.26" cy="180.40" r="2.50" fill="url(#gR)"/>
<circle cx="271.89" cy="156.00" r="2.30" fill="url(#gR)"/>
<circle cx="269.82" cy="158.83" r="2.30" fill="url(#gR)"/>
<circle cx="267.75" cy="161.66" r="2.30" fill="url(#gR)"/>
<circle cx="265.68" cy="164.49" r="2.30" fill="url(#gR)"/>
<circle cx="277.19" cy="175.70" r="1.70" fill="url(#gR)"/>
<circle cx="275.99" cy="177.60" r="1.90" fill="url(#gR)"/>
<circle cx="273.89" cy="180.40" r="2.50" fill="url(#gR)"/>
<circle cx="294.52" cy="156.00" r="2.30" fill="url(#gR)"/>
<circle cx="292.45" cy="158.83" r="2.30" fill="url(#gR)"/>
<circle cx="290.38" cy="161.66" r="2.30" fill="url(#gR)"/>
<circle cx="288.31" cy="164.49" r="2.30" fill="url(#gR)"/>
<circle cx="301.72" cy="174.60" r="2.00" fill="url(#gR)"/>
<circle cx="299.72" cy="177.20" r="2.10" fill="url(#gR)"/>
<circle cx="297.32" cy="180.20" r="2.50" fill="url(#gR)"/>
<circle cx="214.60" cy="171.00" r="4.60" fill="url(#gM)"/>
<circle cx="237.23" cy="171.00" r="4.60" fill="url(#gM)"/>
<circle cx="259.86" cy="171.00" r="4.60" fill="url(#gM)"/>
<circle cx="282.49" cy="171.00" r="4.60" fill="url(#gM)"/>
<polygon points="202.10,191.30 296.12,190.80 302.62,215.30 205.60,216.80" fill="#e3d0eb" stroke="none" stroke-width="1" />
<polygon points="202.60,197.80 208.60,193.80 221.60,199.80 226.60,209.80 221.60,214.80 208.60,212.80" fill="#ad5cc6" stroke="none" stroke-width="1" fill-opacity="0.55"/>
<polygon points="225.23,197.80 231.23,193.80 244.23,199.80 249.23,209.80 244.23,214.80 231.23,212.80" fill="#ad5cc6" stroke="none" stroke-width="1" fill-opacity="0.55"/>
<polygon points="247.86,197.80 253.86,193.80 266.86,199.80 271.86,209.80 266.86,214.80 253.86,212.80" fill="#ad5cc6" stroke="none" stroke-width="1" fill-opacity="0.55"/>
<polygon points="270.49,197.80 276.49,193.80 289.49,199.80 294.49,209.80 289.49,214.80 276.49,212.80" fill="#ad5cc6" stroke="none" stroke-width="1" fill-opacity="0.55"/>
<line x1="206.00" y1="192.60" x2="214.80" y2="199.20" stroke="#e0304c" stroke-width="1.05" stroke-opacity="0.9"/>
<line x1="204.76" y1="194.30" x2="213.56" y2="200.90" stroke="#b02ab4" stroke-width="1.05" stroke-opacity="0.9"/>
<line x1="203.52" y1="196.00" x2="212.32" y2="202.60" stroke="#e0304c" stroke-width="1.05" stroke-opacity="0.9"/>
<line x1="202.28" y1="197.70" x2="211.08" y2="204.30" stroke="#b02ab4" stroke-width="1.05" stroke-opacity="0.9"/>
<line x1="201.04" y1="199.40" x2="209.84" y2="206.00" stroke="#e0304c" stroke-width="1.05" stroke-opacity="0.9"/>
<line x1="199.80" y1="201.10" x2="208.60" y2="207.70" stroke="#b02ab4" stroke-width="1.05" stroke-opacity="0.9"/>
<line x1="217.60" y1="207.00" x2="226.00" y2="213.30" stroke="#e0304c" stroke-width="1.05" stroke-opacity="0.9"/>
<line x1="216.50" y1="208.50" x2="224.90" y2="214.80" stroke="#b02ab4" stroke-width="1.05" stroke-opacity="0.9"/>
<line x1="215.40" y1="210.00" x2="223.80" y2="216.30" stroke="#e0304c" stroke-width="1.05" stroke-opacity="0.9"/>
<line x1="214.30" y1="211.50" x2="222.70" y2="217.80" stroke="#b02ab4" stroke-width="1.05" stroke-opacity="0.9"/>
<line x1="213.20" y1="213.00" x2="221.60" y2="219.30" stroke="#e0304c" stroke-width="1.05" stroke-opacity="0.9"/>
<line x1="228.63" y1="192.60" x2="237.43" y2="199.20" stroke="#e0304c" stroke-width="1.05" stroke-opacity="0.9"/>
<line x1="227.39" y1="194.30" x2="236.19" y2="200.90" stroke="#b02ab4" stroke-width="1.05" stroke-opacity="0.9"/>
<line x1="226.15" y1="196.00" x2="234.95" y2="202.60" stroke="#e0304c" stroke-width="1.05" stroke-opacity="0.9"/>
<line x1="224.91" y1="197.70" x2="233.71" y2="204.30" stroke="#b02ab4" stroke-width="1.05" stroke-opacity="0.9"/>
<line x1="223.67" y1="199.40" x2="232.47" y2="206.00" stroke="#e0304c" stroke-width="1.05" stroke-opacity="0.9"/>
<line x1="222.43" y1="201.10" x2="231.23" y2="207.70" stroke="#b02ab4" stroke-width="1.05" stroke-opacity="0.9"/>
<line x1="240.23" y1="207.00" x2="248.63" y2="213.30" stroke="#e0304c" stroke-width="1.05" stroke-opacity="0.9"/>
<line x1="239.13" y1="208.50" x2="247.53" y2="214.80" stroke="#b02ab4" stroke-width="1.05" stroke-opacity="0.9"/>
<line x1="238.03" y1="210.00" x2="246.43" y2="216.30" stroke="#e0304c" stroke-width="1.05" stroke-opacity="0.9"/>
<line x1="236.93" y1="211.50" x2="245.33" y2="217.80" stroke="#b02ab4" stroke-width="1.05" stroke-opacity="0.9"/>
<line x1="235.83" y1="213.00" x2="244.23" y2="219.30" stroke="#e0304c" stroke-width="1.05" stroke-opacity="0.9"/>
<line x1="251.26" y1="192.60" x2="260.06" y2="199.20" stroke="#e0304c" stroke-width="1.05" stroke-opacity="0.9"/>
<line x1="250.02" y1="194.30" x2="258.82" y2="200.90" stroke="#b02ab4" stroke-width="1.05" stroke-opacity="0.9"/>
<line x1="248.78" y1="196.00" x2="257.58" y2="202.60" stroke="#e0304c" stroke-width="1.05" stroke-opacity="0.9"/>
<line x1="247.54" y1="197.70" x2="256.34" y2="204.30" stroke="#b02ab4" stroke-width="1.05" stroke-opacity="0.9"/>
<line x1="246.30" y1="199.40" x2="255.10" y2="206.00" stroke="#e0304c" stroke-width="1.05" stroke-opacity="0.9"/>
<line x1="245.06" y1="201.10" x2="253.86" y2="207.70" stroke="#b02ab4" stroke-width="1.05" stroke-opacity="0.9"/>
<line x1="262.86" y1="207.00" x2="271.26" y2="213.30" stroke="#e0304c" stroke-width="1.05" stroke-opacity="0.9"/>
<line x1="261.76" y1="208.50" x2="270.16" y2="214.80" stroke="#b02ab4" stroke-width="1.05" stroke-opacity="0.9"/>
<line x1="260.66" y1="210.00" x2="269.06" y2="216.30" stroke="#e0304c" stroke-width="1.05" stroke-opacity="0.9"/>
<line x1="259.56" y1="211.50" x2="267.96" y2="217.80" stroke="#b02ab4" stroke-width="1.05" stroke-opacity="0.9"/>
<line x1="258.46" y1="213.00" x2="266.86" y2="219.30" stroke="#e0304c" stroke-width="1.05" stroke-opacity="0.9"/>
<line x1="273.89" y1="192.60" x2="282.69" y2="199.20" stroke="#e0304c" stroke-width="1.05" stroke-opacity="0.9"/>
<line x1="272.65" y1="194.30" x2="281.45" y2="200.90" stroke="#b02ab4" stroke-width="1.05" stroke-opacity="0.9"/>
<line x1="271.41" y1="196.00" x2="280.21" y2="202.60" stroke="#e0304c" stroke-width="1.05" stroke-opacity="0.9"/>
<line x1="270.17" y1="197.70" x2="278.97" y2="204.30" stroke="#b02ab4" stroke-width="1.05" stroke-opacity="0.9"/>
<line x1="268.93" y1="199.40" x2="277.73" y2="206.00" stroke="#e0304c" stroke-width="1.05" stroke-opacity="0.9"/>
<line x1="267.69" y1="201.10" x2="276.49" y2="207.70" stroke="#b02ab4" stroke-width="1.05" stroke-opacity="0.9"/>
<line x1="285.49" y1="207.00" x2="293.89" y2="213.30" stroke="#e0304c" stroke-width="1.05" stroke-opacity="0.9"/>
<line x1="284.39" y1="208.50" x2="292.79" y2="214.80" stroke="#b02ab4" stroke-width="1.05" stroke-opacity="0.9"/>
<line x1="283.29" y1="210.00" x2="291.69" y2="216.30" stroke="#e0304c" stroke-width="1.05" stroke-opacity="0.9"/>
<line x1="282.19" y1="211.50" x2="290.59" y2="217.80" stroke="#b02ab4" stroke-width="1.05" stroke-opacity="0.9"/>
<line x1="281.09" y1="213.00" x2="289.49" y2="219.30" stroke="#e0304c" stroke-width="1.05" stroke-opacity="0.9"/>
<circle cx="204.00" cy="191.80" r="2.30" fill="url(#gR)"/>
<circle cx="201.93" cy="194.63" r="2.30" fill="url(#gR)"/>
<circle cx="199.86" cy="197.46" r="2.30" fill="url(#gR)"/>
<circle cx="197.79" cy="200.29" r="2.30" fill="url(#gR)"/>
<circle cx="209.30" cy="211.50" r="1.70" fill="url(#gR)"/>
<circle cx="208.10" cy="213.40" r="1.90" fill="url(#gR)"/>
<circle cx="206.00" cy="216.20" r="2.50" fill="url(#gR)"/>
<circle cx="226.63" cy="191.80" r="2.30" fill="url(#gR)"/>
<circle cx="224.56" cy="194.63" r="2.30" fill="url(#gR)"/>
<circle cx="222.49" cy="197.46" r="2.30" fill="url(#gR)"/>
<circle cx="220.42" cy="200.29" r="2.30" fill="url(#gR)"/>
<circle cx="231.93" cy="211.50" r="1.70" fill="url(#gR)"/>
<circle cx="230.73" cy="213.40" r="1.90" fill="url(#gR)"/>
<circle cx="228.63" cy="216.20" r="2.50" fill="url(#gR)"/>
<circle cx="249.26" cy="191.80" r="2.30" fill="url(#gR)"/>
<circle cx="247.19" cy="194.63" r="2.30" fill="url(#gR)"/>
<circle cx="245.12" cy="197.46" r="2.30" fill="url(#gR)"/>
<circle cx="243.05" cy="200.29" r="2.30" fill="url(#gR)"/>
<circle cx="254.56" cy="211.50" r="1.70" fill="url(#gR)"/>
<circle cx="253.36" cy="213.40" r="1.90" fill="url(#gR)"/>
<circle cx="251.26" cy="216.20" r="2.50" fill="url(#gR)"/>
<circle cx="271.89" cy="191.80" r="2.30" fill="url(#gR)"/>
<circle cx="269.82" cy="194.63" r="2.30" fill="url(#gR)"/>
<circle cx="267.75" cy="197.46" r="2.30" fill="url(#gR)"/>
<circle cx="265.68" cy="200.29" r="2.30" fill="url(#gR)"/>
<circle cx="277.19" cy="211.50" r="1.70" fill="url(#gR)"/>
<circle cx="275.99" cy="213.40" r="1.90" fill="url(#gR)"/>
<circle cx="273.89" cy="216.20" r="2.50" fill="url(#gR)"/>
<circle cx="294.52" cy="191.80" r="2.30" fill="url(#gR)"/>
<circle cx="292.45" cy="194.63" r="2.30" fill="url(#gR)"/>
<circle cx="290.38" cy="197.46" r="2.30" fill="url(#gR)"/>
<circle cx="288.31" cy="200.29" r="2.30" fill="url(#gR)"/>
<circle cx="301.72" cy="210.40" r="2.00" fill="url(#gR)"/>
<circle cx="299.72" cy="213.00" r="2.10" fill="url(#gR)"/>
<circle cx="297.32" cy="216.00" r="2.50" fill="url(#gR)"/>
<circle cx="214.60" cy="206.80" r="4.60" fill="url(#gM)"/>
<circle cx="237.23" cy="206.80" r="4.60" fill="url(#gM)"/>
<circle cx="259.86" cy="206.80" r="4.60" fill="url(#gM)"/>
<circle cx="282.49" cy="206.80" r="4.60" fill="url(#gM)"/>
<polygon points="202.10,227.00 296.12,226.50 302.62,251.00 205.60,252.50" fill="#e3d0eb" stroke="none" stroke-width="1" />
<polygon points="202.60,233.50 208.60,229.50 221.60,235.50 226.60,245.50 221.60,250.50 208.60,248.50" fill="#ad5cc6" stroke="none" stroke-width="1" fill-opacity="0.55"/>
<polygon points="225.23,233.50 231.23,229.50 244.23,235.50 249.23,245.50 244.23,250.50 231.23,248.50" fill="#ad5cc6" stroke="none" stroke-width="1" fill-opacity="0.55"/>
<polygon points="247.86,233.50 253.86,229.50 266.86,235.50 271.86,245.50 266.86,250.50 253.86,248.50" fill="#ad5cc6" stroke="none" stroke-width="1" fill-opacity="0.55"/>
<polygon points="270.49,233.50 276.49,229.50 289.49,235.50 294.49,245.50 289.49,250.50 276.49,248.50" fill="#ad5cc6" stroke="none" stroke-width="1" fill-opacity="0.55"/>
<line x1="206.00" y1="228.30" x2="214.80" y2="234.90" stroke="#e0304c" stroke-width="1.05" stroke-opacity="0.9"/>
<line x1="204.76" y1="230.00" x2="213.56" y2="236.60" stroke="#b02ab4" stroke-width="1.05" stroke-opacity="0.9"/>
<line x1="203.52" y1="231.70" x2="212.32" y2="238.30" stroke="#e0304c" stroke-width="1.05" stroke-opacity="0.9"/>
<line x1="202.28" y1="233.40" x2="211.08" y2="240.00" stroke="#b02ab4" stroke-width="1.05" stroke-opacity="0.9"/>
<line x1="201.04" y1="235.10" x2="209.84" y2="241.70" stroke="#e0304c" stroke-width="1.05" stroke-opacity="0.9"/>
<line x1="199.80" y1="236.80" x2="208.60" y2="243.40" stroke="#b02ab4" stroke-width="1.05" stroke-opacity="0.9"/>
<line x1="217.60" y1="242.70" x2="226.00" y2="249.00" stroke="#e0304c" stroke-width="1.05" stroke-opacity="0.9"/>
<line x1="216.50" y1="244.20" x2="224.90" y2="250.50" stroke="#b02ab4" stroke-width="1.05" stroke-opacity="0.9"/>
<line x1="215.40" y1="245.70" x2="223.80" y2="252.00" stroke="#e0304c" stroke-width="1.05" stroke-opacity="0.9"/>
<line x1="214.30" y1="247.20" x2="222.70" y2="253.50" stroke="#b02ab4" stroke-width="1.05" stroke-opacity="0.9"/>
<line x1="213.20" y1="248.70" x2="221.60" y2="255.00" stroke="#e0304c" stroke-width="1.05" stroke-opacity="0.9"/>
<line x1="228.63" y1="228.30" x2="237.43" y2="234.90" stroke="#e0304c" stroke-width="1.05" stroke-opacity="0.9"/>
<line x1="227.39" y1="230.00" x2="236.19" y2="236.60" stroke="#b02ab4" stroke-width="1.05" stroke-opacity="0.9"/>
<line x1="226.15" y1="231.70" x2="234.95" y2="238.30" stroke="#e0304c" stroke-width="1.05" stroke-opacity="0.9"/>
<line x1="224.91" y1="233.40" x2="233.71" y2="240.00" stroke="#b02ab4" stroke-width="1.05" stroke-opacity="0.9"/>
<line x1="223.67" y1="235.10" x2="232.47" y2="241.70" stroke="#e0304c" stroke-width="1.05" stroke-opacity="0.9"/>
<line x1="222.43" y1="236.80" x2="231.23" y2="243.40" stroke="#b02ab4" stroke-width="1.05" stroke-opacity="0.9"/>
<line x1="240.23" y1="242.70" x2="248.63" y2="249.00" stroke="#e0304c" stroke-width="1.05" stroke-opacity="0.9"/>
<line x1="239.13" y1="244.20" x2="247.53" y2="250.50" stroke="#b02ab4" stroke-width="1.05" stroke-opacity="0.9"/>
<line x1="238.03" y1="245.70" x2="246.43" y2="252.00" stroke="#e0304c" stroke-width="1.05" stroke-opacity="0.9"/>
<line x1="236.93" y1="247.20" x2="245.33" y2="253.50" stroke="#b02ab4" stroke-width="1.05" stroke-opacity="0.9"/>
<line x1="235.83" y1="248.70" x2="244.23" y2="255.00" stroke="#e0304c" stroke-width="1.05" stroke-opacity="0.9"/>
<line x1="251.26" y1="228.30" x2="260.06" y2="234.90" stroke="#e0304c" stroke-width="1.05" stroke-opacity="0.9"/>
<line x1="250.02" y1="230.00" x2="258.82" y2="236.60" stroke="#b02ab4" stroke-width="1.05" stroke-opacity="0.9"/>
<line x1="248.78" y1="231.70" x2="257.58" y2="238.30" stroke="#e0304c" stroke-width="1.05" stroke-opacity="0.9"/>
<line x1="247.54" y1="233.40" x2="256.34" y2="240.00" stroke="#b02ab4" stroke-width="1.05" stroke-opacity="0.9"/>
<line x1="246.30" y1="235.10" x2="255.10" y2="241.70" stroke="#e0304c" stroke-width="1.05" stroke-opacity="0.9"/>
<line x1="245.06" y1="236.80" x2="253.86" y2="243.40" stroke="#b02ab4" stroke-width="1.05" stroke-opacity="0.9"/>
<line x1="262.86" y1="242.70" x2="271.26" y2="249.00" stroke="#e0304c" stroke-width="1.05" stroke-opacity="0.9"/>
<line x1="261.76" y1="244.20" x2="270.16" y2="250.50" stroke="#b02ab4" stroke-width="1.05" stroke-opacity="0.9"/>
<line x1="260.66" y1="245.70" x2="269.06" y2="252.00" stroke="#e0304c" stroke-width="1.05" stroke-opacity="0.9"/>
<line x1="259.56" y1="247.20" x2="267.96" y2="253.50" stroke="#b02ab4" stroke-width="1.05" stroke-opacity="0.9"/>
<line x1="258.46" y1="248.70" x2="266.86" y2="255.00" stroke="#e0304c" stroke-width="1.05" stroke-opacity="0.9"/>
<line x1="273.89" y1="228.30" x2="282.69" y2="234.90" stroke="#e0304c" stroke-width="1.05" stroke-opacity="0.9"/>
<line x1="272.65" y1="230.00" x2="281.45" y2="236.60" stroke="#b02ab4" stroke-width="1.05" stroke-opacity="0.9"/>
<line x1="271.41" y1="231.70" x2="280.21" y2="238.30" stroke="#e0304c" stroke-width="1.05" stroke-opacity="0.9"/>
<line x1="270.17" y1="233.40" x2="278.97" y2="240.00" stroke="#b02ab4" stroke-width="1.05" stroke-opacity="0.9"/>
<line x1="268.93" y1="235.10" x2="277.73" y2="241.70" stroke="#e0304c" stroke-width="1.05" stroke-opacity="0.9"/>
<line x1="267.69" y1="236.80" x2="276.49" y2="243.40" stroke="#b02ab4" stroke-width="1.05" stroke-opacity="0.9"/>
<line x1="285.49" y1="242.70" x2="293.89" y2="249.00" stroke="#e0304c" stroke-width="1.05" stroke-opacity="0.9"/>
<line x1="284.39" y1="244.20" x2="292.79" y2="250.50" stroke="#b02ab4" stroke-width="1.05" stroke-opacity="0.9"/>
<line x1="283.29" y1="245.70" x2="291.69" y2="252.00" stroke="#e0304c" stroke-width="1.05" stroke-opacity="0.9"/>
<line x1="282.19" y1="247.20" x2="290.59" y2="253.50" stroke="#b02ab4" stroke-width="1.05" stroke-opacity="0.9"/>
<line x1="281.09" y1="248.70" x2="289.49" y2="255.00" stroke="#e0304c" stroke-width="1.05" stroke-opacity="0.9"/>
<circle cx="204.00" cy="227.50" r="2.30" fill="url(#gR)"/>
<circle cx="201.93" cy="230.33" r="2.30" fill="url(#gR)"/>
<circle cx="199.86" cy="233.16" r="2.30" fill="url(#gR)"/>
<circle cx="197.79" cy="235.99" r="2.30" fill="url(#gR)"/>
<circle cx="209.30" cy="247.20" r="1.70" fill="url(#gR)"/>
<circle cx="208.10" cy="249.10" r="1.90" fill="url(#gR)"/>
<circle cx="206.00" cy="251.90" r="2.50" fill="url(#gR)"/>
<circle cx="226.63" cy="227.50" r="2.30" fill="url(#gR)"/>
<circle cx="224.56" cy="230.33" r="2.30" fill="url(#gR)"/>
<circle cx="222.49" cy="233.16" r="2.30" fill="url(#gR)"/>
<circle cx="220.42" cy="235.99" r="2.30" fill="url(#gR)"/>
<circle cx="231.93" cy="247.20" r="1.70" fill="url(#gR)"/>
<circle cx="230.73" cy="249.10" r="1.90" fill="url(#gR)"/>
<circle cx="228.63" cy="251.90" r="2.50" fill="url(#gR)"/>
<circle cx="249.26" cy="227.50" r="2.30" fill="url(#gR)"/>
<circle cx="247.19" cy="230.33" r="2.30" fill="url(#gR)"/>
<circle cx="245.12" cy="233.16" r="2.30" fill="url(#gR)"/>
<circle cx="243.05" cy="235.99" r="2.30" fill="url(#gR)"/>
<circle cx="254.56" cy="247.20" r="1.70" fill="url(#gR)"/>
<circle cx="253.36" cy="249.10" r="1.90" fill="url(#gR)"/>
<circle cx="251.26" cy="251.90" r="2.50" fill="url(#gR)"/>
<circle cx="271.89" cy="227.50" r="2.30" fill="url(#gR)"/>
<circle cx="269.82" cy="230.33" r="2.30" fill="url(#gR)"/>
<circle cx="267.75" cy="233.16" r="2.30" fill="url(#gR)"/>
<circle cx="265.68" cy="235.99" r="2.30" fill="url(#gR)"/>
<circle cx="277.19" cy="247.20" r="1.70" fill="url(#gR)"/>
<circle cx="275.99" cy="249.10" r="1.90" fill="url(#gR)"/>
<circle cx="273.89" cy="251.90" r="2.50" fill="url(#gR)"/>
<circle cx="294.52" cy="227.50" r="2.30" fill="url(#gR)"/>
<circle cx="292.45" cy="230.33" r="2.30" fill="url(#gR)"/>
<circle cx="290.38" cy="233.16" r="2.30" fill="url(#gR)"/>
<circle cx="288.31" cy="235.99" r="2.30" fill="url(#gR)"/>
<circle cx="301.72" cy="246.10" r="2.00" fill="url(#gR)"/>
<circle cx="299.72" cy="248.70" r="2.10" fill="url(#gR)"/>
<circle cx="297.32" cy="251.70" r="2.50" fill="url(#gR)"/>
<circle cx="214.60" cy="242.50" r="4.60" fill="url(#gM)"/>
<circle cx="237.23" cy="242.50" r="4.60" fill="url(#gM)"/>
<circle cx="259.86" cy="242.50" r="4.60" fill="url(#gM)"/>
<circle cx="282.49" cy="242.50" r="4.60" fill="url(#gM)"/>
<rect x="526.3" y="146.3" width="122.6" height="114.2" fill="none" stroke="#00b0f0" stroke-width="2" stroke-dasharray="5.2 1.5"/>
<polygon points="547.25,153.75 630.40,153.30 636.25,175.35 550.40,176.70" fill="#e3d0eb" stroke="none" stroke-width="1" />
<polygon points="547.70,159.60 553.10,156.00 564.80,161.40 569.30,170.40 564.80,174.90 553.10,173.10" fill="#ad5cc6" stroke="none" stroke-width="1" fill-opacity="0.55"/>
<polygon points="567.70,159.60 573.10,156.00 584.80,161.40 589.30,170.40 584.80,174.90 573.10,173.10" fill="#ad5cc6" stroke="none" stroke-width="1" fill-opacity="0.55"/>
<polygon points="587.70,159.60 593.10,156.00 604.80,161.40 609.30,170.40 604.80,174.90 593.10,173.10" fill="#ad5cc6" stroke="none" stroke-width="1" fill-opacity="0.55"/>
<polygon points="607.70,159.60 613.10,156.00 624.80,161.40 629.30,170.40 624.80,174.90 613.10,173.10" fill="#ad5cc6" stroke="none" stroke-width="1" fill-opacity="0.55"/>
<line x1="550.76" y1="154.92" x2="558.68" y2="160.86" stroke="#e0304c" stroke-width="0.9450000000000001" stroke-opacity="0.9"/>
<line x1="549.64" y1="156.45" x2="557.56" y2="162.39" stroke="#b02ab4" stroke-width="0.9450000000000001" stroke-opacity="0.9"/>
<line x1="548.53" y1="157.98" x2="556.45" y2="163.92" stroke="#e0304c" stroke-width="0.9450000000000001" stroke-opacity="0.9"/>
<line x1="547.41" y1="159.51" x2="555.33" y2="165.45" stroke="#b02ab4" stroke-width="0.9450000000000001" stroke-opacity="0.9"/>
<line x1="546.30" y1="161.04" x2="554.22" y2="166.98" stroke="#e0304c" stroke-width="0.9450000000000001" stroke-opacity="0.9"/>
<line x1="545.18" y1="162.57" x2="553.10" y2="168.51" stroke="#b02ab4" stroke-width="0.9450000000000001" stroke-opacity="0.9"/>
<line x1="561.20" y1="167.88" x2="568.76" y2="173.55" stroke="#e0304c" stroke-width="0.9450000000000001" stroke-opacity="0.9"/>
<line x1="560.21" y1="169.23" x2="567.77" y2="174.90" stroke="#b02ab4" stroke-width="0.9450000000000001" stroke-opacity="0.9"/>
<line x1="559.22" y1="170.58" x2="566.78" y2="176.25" stroke="#e0304c" stroke-width="0.9450000000000001" stroke-opacity="0.9"/>
<line x1="558.23" y1="171.93" x2="565.79" y2="177.60" stroke="#b02ab4" stroke-width="0.9450000000000001" stroke-opacity="0.9"/>
<line x1="557.24" y1="173.28" x2="564.80" y2="178.95" stroke="#e0304c" stroke-width="0.9450000000000001" stroke-opacity="0.9"/>
<line x1="570.76" y1="154.92" x2="578.68" y2="160.86" stroke="#e0304c" stroke-width="0.9450000000000001" stroke-opacity="0.9"/>
<line x1="569.64" y1="156.45" x2="577.56" y2="162.39" stroke="#b02ab4" stroke-width="0.9450000000000001" stroke-opacity="0.9"/>
<line x1="568.53" y1="157.98" x2="576.45" y2="163.92" stroke="#e0304c" stroke-width="0.9450000000000001" stroke-opacity="0.9"/>
<line x1="567.41" y1="159.51" x2="575.33" y2="165.45" stroke="#b02ab4" stroke-width="0.9450000000000001" stroke-opacity="0.9"/>
<line x1="566.30" y1="161.04" x2="574.22" y2="166.98" stroke="#e0304c" stroke-width="0.9450000000000001" stroke-opacity="0.9"/>
<line x1="565.18" y1="162.57" x2="573.10" y2="168.51" stroke="#b02ab4" stroke-width="0.9450000000000001" stroke-opacity="0.9"/>
<line x1="581.20" y1="167.88" x2="588.76" y2="173.55" stroke="#e0304c" stroke-width="0.9450000000000001" stroke-opacity="0.9"/>
<line x1="580.21" y1="169.23" x2="587.77" y2="174.90" stroke="#b02ab4" stroke-width="0.9450000000000001" stroke-opacity="0.9"/>
<line x1="579.22" y1="170.58" x2="586.78" y2="176.25" stroke="#e0304c" stroke-width="0.9450000000000001" stroke-opacity="0.9"/>
<line x1="578.23" y1="171.93" x2="585.79" y2="177.60" stroke="#b02ab4" stroke-width="0.9450000000000001" stroke-opacity="0.9"/>
<line x1="577.24" y1="173.28" x2="584.80" y2="178.95" stroke="#e0304c" stroke-width="0.9450000000000001" stroke-opacity="0.9"/>
<line x1="590.76" y1="154.92" x2="598.68" y2="160.86" stroke="#e0304c" stroke-width="0.9450000000000001" stroke-opacity="0.9"/>
<line x1="589.64" y1="156.45" x2="597.56" y2="162.39" stroke="#b02ab4" stroke-width="0.9450000000000001" stroke-opacity="0.9"/>
<line x1="588.53" y1="157.98" x2="596.45" y2="163.92" stroke="#e0304c" stroke-width="0.9450000000000001" stroke-opacity="0.9"/>
<line x1="587.41" y1="159.51" x2="595.33" y2="165.45" stroke="#b02ab4" stroke-width="0.9450000000000001" stroke-opacity="0.9"/>
<line x1="586.30" y1="161.04" x2="594.22" y2="166.98" stroke="#e0304c" stroke-width="0.9450000000000001" stroke-opacity="0.9"/>
<line x1="585.18" y1="162.57" x2="593.10" y2="168.51" stroke="#b02ab4" stroke-width="0.9450000000000001" stroke-opacity="0.9"/>
<line x1="601.20" y1="167.88" x2="608.76" y2="173.55" stroke="#e0304c" stroke-width="0.9450000000000001" stroke-opacity="0.9"/>
<line x1="600.21" y1="169.23" x2="607.77" y2="174.90" stroke="#b02ab4" stroke-width="0.9450000000000001" stroke-opacity="0.9"/>
<line x1="599.22" y1="170.58" x2="606.78" y2="176.25" stroke="#e0304c" stroke-width="0.9450000000000001" stroke-opacity="0.9"/>
<line x1="598.23" y1="171.93" x2="605.79" y2="177.60" stroke="#b02ab4" stroke-width="0.9450000000000001" stroke-opacity="0.9"/>
<line x1="597.24" y1="173.28" x2="604.80" y2="178.95" stroke="#e0304c" stroke-width="0.9450000000000001" stroke-opacity="0.9"/>
<line x1="610.76" y1="154.92" x2="618.68" y2="160.86" stroke="#e0304c" stroke-width="0.9450000000000001" stroke-opacity="0.9"/>
<line x1="609.64" y1="156.45" x2="617.56" y2="162.39" stroke="#b02ab4" stroke-width="0.9450000000000001" stroke-opacity="0.9"/>
<line x1="608.53" y1="157.98" x2="616.45" y2="163.92" stroke="#e0304c" stroke-width="0.9450000000000001" stroke-opacity="0.9"/>
<line x1="607.41" y1="159.51" x2="615.33" y2="165.45" stroke="#b02ab4" stroke-width="0.9450000000000001" stroke-opacity="0.9"/>
<line x1="606.30" y1="161.04" x2="614.22" y2="166.98" stroke="#e0304c" stroke-width="0.9450000000000001" stroke-opacity="0.9"/>
<line x1="605.18" y1="162.57" x2="613.10" y2="168.51" stroke="#b02ab4" stroke-width="0.9450000000000001" stroke-opacity="0.9"/>
<line x1="621.20" y1="167.88" x2="628.76" y2="173.55" stroke="#e0304c" stroke-width="0.9450000000000001" stroke-opacity="0.9"/>
<line x1="620.21" y1="169.23" x2="627.77" y2="174.90" stroke="#b02ab4" stroke-width="0.9450000000000001" stroke-opacity="0.9"/>
<line x1="619.22" y1="170.58" x2="626.78" y2="176.25" stroke="#e0304c" stroke-width="0.9450000000000001" stroke-opacity="0.9"/>
<line x1="618.23" y1="171.93" x2="625.79" y2="177.60" stroke="#b02ab4" stroke-width="0.9450000000000001" stroke-opacity="0.9"/>
<line x1="617.24" y1="173.28" x2="624.80" y2="178.95" stroke="#e0304c" stroke-width="0.9450000000000001" stroke-opacity="0.9"/>
<circle cx="548.96" cy="154.20" r="2.30" fill="url(#gR)"/>
<circle cx="547.10" cy="156.75" r="2.30" fill="url(#gR)"/>
<circle cx="545.23" cy="159.29" r="2.30" fill="url(#gR)"/>
<circle cx="543.37" cy="161.84" r="2.30" fill="url(#gR)"/>
<circle cx="553.73" cy="171.93" r="1.70" fill="url(#gR)"/>
<circle cx="552.65" cy="173.64" r="1.90" fill="url(#gR)"/>
<circle cx="550.76" cy="176.16" r="2.50" fill="url(#gR)"/>
<circle cx="568.96" cy="154.20" r="2.30" fill="url(#gR)"/>
<circle cx="567.10" cy="156.75" r="2.30" fill="url(#gR)"/>
<circle cx="565.23" cy="159.29" r="2.30" fill="url(#gR)"/>
<circle cx="563.37" cy="161.84" r="2.30" fill="url(#gR)"/>
<circle cx="573.73" cy="171.93" r="1.70" fill="url(#gR)"/>
<circle cx="572.65" cy="173.64" r="1.90" fill="url(#gR)"/>
<circle cx="570.76" cy="176.16" r="2.50" fill="url(#gR)"/>
<circle cx="588.96" cy="154.20" r="2.30" fill="url(#gR)"/>
<circle cx="587.10" cy="156.75" r="2.30" fill="url(#gR)"/>
<circle cx="585.23" cy="159.29" r="2.30" fill="url(#gR)"/>
<circle cx="583.37" cy="161.84" r="2.30" fill="url(#gR)"/>
<circle cx="593.73" cy="171.93" r="1.70" fill="url(#gR)"/>
<circle cx="592.65" cy="173.64" r="1.90" fill="url(#gR)"/>
<circle cx="590.76" cy="176.16" r="2.50" fill="url(#gR)"/>
<circle cx="608.96" cy="154.20" r="2.30" fill="url(#gR)"/>
<circle cx="607.10" cy="156.75" r="2.30" fill="url(#gR)"/>
<circle cx="605.23" cy="159.29" r="2.30" fill="url(#gR)"/>
<circle cx="603.37" cy="161.84" r="2.30" fill="url(#gR)"/>
<circle cx="613.73" cy="171.93" r="1.70" fill="url(#gR)"/>
<circle cx="612.65" cy="173.64" r="1.90" fill="url(#gR)"/>
<circle cx="610.76" cy="176.16" r="2.50" fill="url(#gR)"/>
<circle cx="628.96" cy="154.20" r="2.30" fill="url(#gR)"/>
<circle cx="627.10" cy="156.75" r="2.30" fill="url(#gR)"/>
<circle cx="625.23" cy="159.29" r="2.30" fill="url(#gR)"/>
<circle cx="623.37" cy="161.84" r="2.30" fill="url(#gR)"/>
<circle cx="635.44" cy="170.94" r="2.00" fill="url(#gR)"/>
<circle cx="633.64" cy="173.28" r="2.10" fill="url(#gR)"/>
<circle cx="631.48" cy="175.98" r="2.50" fill="url(#gR)"/>
<circle cx="558.50" cy="167.70" r="4.14" fill="url(#gM)"/>
<circle cx="578.50" cy="167.70" r="4.14" fill="url(#gM)"/>
<circle cx="598.50" cy="167.70" r="4.14" fill="url(#gM)"/>
<circle cx="618.50" cy="167.70" r="4.14" fill="url(#gM)"/>
<polygon points="547.25,206.75 630.40,206.30 636.25,228.35 550.40,229.70" fill="#e3d0eb" stroke="none" stroke-width="1" />
<polygon points="547.70,212.60 553.10,209.00 564.80,214.40 569.30,223.40 564.80,227.90 553.10,226.10" fill="#ad5cc6" stroke="none" stroke-width="1" fill-opacity="0.55"/>
<polygon points="567.70,212.60 573.10,209.00 584.80,214.40 589.30,223.40 584.80,227.90 573.10,226.10" fill="#ad5cc6" stroke="none" stroke-width="1" fill-opacity="0.55"/>
<polygon points="587.70,212.60 593.10,209.00 604.80,214.40 609.30,223.40 604.80,227.90 593.10,226.10" fill="#ad5cc6" stroke="none" stroke-width="1" fill-opacity="0.55"/>
<polygon points="607.70,212.60 613.10,209.00 624.80,214.40 629.30,223.40 624.80,227.90 613.10,226.10" fill="#ad5cc6" stroke="none" stroke-width="1" fill-opacity="0.55"/>
<line x1="550.76" y1="207.92" x2="558.68" y2="213.86" stroke="#e0304c" stroke-width="0.9450000000000001" stroke-opacity="0.9"/>
<line x1="549.64" y1="209.45" x2="557.56" y2="215.39" stroke="#b02ab4" stroke-width="0.9450000000000001" stroke-opacity="0.9"/>
<line x1="548.53" y1="210.98" x2="556.45" y2="216.92" stroke="#e0304c" stroke-width="0.9450000000000001" stroke-opacity="0.9"/>
<line x1="547.41" y1="212.51" x2="555.33" y2="218.45" stroke="#b02ab4" stroke-width="0.9450000000000001" stroke-opacity="0.9"/>
<line x1="546.30" y1="214.04" x2="554.22" y2="219.98" stroke="#e0304c" stroke-width="0.9450000000000001" stroke-opacity="0.9"/>
<line x1="545.18" y1="215.57" x2="553.10" y2="221.51" stroke="#b02ab4" stroke-width="0.9450000000000001" stroke-opacity="0.9"/>
<line x1="561.20" y1="220.88" x2="568.76" y2="226.55" stroke="#e0304c" stroke-width="0.9450000000000001" stroke-opacity="0.9"/>
<line x1="560.21" y1="222.23" x2="567.77" y2="227.90" stroke="#b02ab4" stroke-width="0.9450000000000001" stroke-opacity="0.9"/>
<line x1="559.22" y1="223.58" x2="566.78" y2="229.25" stroke="#e0304c" stroke-width="0.9450000000000001" stroke-opacity="0.9"/>
<line x1="558.23" y1="224.93" x2="565.79" y2="230.60" stroke="#b02ab4" stroke-width="0.9450000000000001" stroke-opacity="0.9"/>
<line x1="557.24" y1="226.28" x2="564.80" y2="231.95" stroke="#e0304c" stroke-width="0.9450000000000001" stroke-opacity="0.9"/>
<line x1="570.76" y1="207.92" x2="578.68" y2="213.86" stroke="#e0304c" stroke-width="0.9450000000000001" stroke-opacity="0.9"/>
<line x1="569.64" y1="209.45" x2="577.56" y2="215.39" stroke="#b02ab4" stroke-width="0.9450000000000001" stroke-opacity="0.9"/>
<line x1="568.53" y1="210.98" x2="576.45" y2="216.92" stroke="#e0304c" stroke-width="0.9450000000000001" stroke-opacity="0.9"/>
<line x1="567.41" y1="212.51" x2="575.33" y2="218.45" stroke="#b02ab4" stroke-width="0.9450000000000001" stroke-opacity="0.9"/>
<line x1="566.30" y1="214.04" x2="574.22" y2="219.98" stroke="#e0304c" stroke-width="0.9450000000000001" stroke-opacity="0.9"/>
<line x1="565.18" y1="215.57" x2="573.10" y2="221.51" stroke="#b02ab4" stroke-width="0.9450000000000001" stroke-opacity="0.9"/>
<line x1="581.20" y1="220.88" x2="588.76" y2="226.55" stroke="#e0304c" stroke-width="0.9450000000000001" stroke-opacity="0.9"/>
<line x1="580.21" y1="222.23" x2="587.77" y2="227.90" stroke="#b02ab4" stroke-width="0.9450000000000001" stroke-opacity="0.9"/>
<line x1="579.22" y1="223.58" x2="586.78" y2="229.25" stroke="#e0304c" stroke-width="0.9450000000000001" stroke-opacity="0.9"/>
<line x1="578.23" y1="224.93" x2="585.79" y2="230.60" stroke="#b02ab4" stroke-width="0.9450000000000001" stroke-opacity="0.9"/>
<line x1="577.24" y1="226.28" x2="584.80" y2="231.95" stroke="#e0304c" stroke-width="0.9450000000000001" stroke-opacity="0.9"/>
<line x1="590.76" y1="207.92" x2="598.68" y2="213.86" stroke="#e0304c" stroke-width="0.9450000000000001" stroke-opacity="0.9"/>
<line x1="589.64" y1="209.45" x2="597.56" y2="215.39" stroke="#b02ab4" stroke-width="0.9450000000000001" stroke-opacity="0.9"/>
<line x1="588.53" y1="210.98" x2="596.45" y2="216.92" stroke="#e0304c" stroke-width="0.9450000000000001" stroke-opacity="0.9"/>
<line x1="587.41" y1="212.51" x2="595.33" y2="218.45" stroke="#b02ab4" stroke-width="0.9450000000000001" stroke-opacity="0.9"/>
<line x1="586.30" y1="214.04" x2="594.22" y2="219.98" stroke="#e0304c" stroke-width="0.9450000000000001" stroke-opacity="0.9"/>
<line x1="585.18" y1="215.57" x2="593.10" y2="221.51" stroke="#b02ab4" stroke-width="0.9450000000000001" stroke-opacity="0.9"/>
<line x1="601.20" y1="220.88" x2="608.76" y2="226.55" stroke="#e0304c" stroke-width="0.9450000000000001" stroke-opacity="0.9"/>
<line x1="600.21" y1="222.23" x2="607.77" y2="227.90" stroke="#b02ab4" stroke-width="0.9450000000000001" stroke-opacity="0.9"/>
<line x1="599.22" y1="223.58" x2="606.78" y2="229.25" stroke="#e0304c" stroke-width="0.9450000000000001" stroke-opacity="0.9"/>
<line x1="598.23" y1="224.93" x2="605.79" y2="230.60" stroke="#b02ab4" stroke-width="0.9450000000000001" stroke-opacity="0.9"/>
<line x1="597.24" y1="226.28" x2="604.80" y2="231.95" stroke="#e0304c" stroke-width="0.9450000000000001" stroke-opacity="0.9"/>
<line x1="610.76" y1="207.92" x2="618.68" y2="213.86" stroke="#e0304c" stroke-width="0.9450000000000001" stroke-opacity="0.9"/>
<line x1="609.64" y1="209.45" x2="617.56" y2="215.39" stroke="#b02ab4" stroke-width="0.9450000000000001" stroke-opacity="0.9"/>
<line x1="608.53" y1="210.98" x2="616.45" y2="216.92" stroke="#e0304c" stroke-width="0.9450000000000001" stroke-opacity="0.9"/>
<line x1="607.41" y1="212.51" x2="615.33" y2="218.45" stroke="#b02ab4" stroke-width="0.9450000000000001" stroke-opacity="0.9"/>
<line x1="606.30" y1="214.04" x2="614.22" y2="219.98" stroke="#e0304c" stroke-width="0.9450000000000001" stroke-opacity="0.9"/>
<line x1="605.18" y1="215.57" x2="613.10" y2="221.51" stroke="#b02ab4" stroke-width="0.9450000000000001" stroke-opacity="0.9"/>
<line x1="621.20" y1="220.88" x2="628.76" y2="226.55" stroke="#e0304c" stroke-width="0.9450000000000001" stroke-opacity="0.9"/>
<line x1="620.21" y1="222.23" x2="627.77" y2="227.90" stroke="#b02ab4" stroke-width="0.9450000000000001" stroke-opacity="0.9"/>
<line x1="619.22" y1="223.58" x2="626.78" y2="229.25" stroke="#e0304c" stroke-width="0.9450000000000001" stroke-opacity="0.9"/>
<line x1="618.23" y1="224.93" x2="625.79" y2="230.60" stroke="#b02ab4" stroke-width="0.9450000000000001" stroke-opacity="0.9"/>
<line x1="617.24" y1="226.28" x2="624.80" y2="231.95" stroke="#e0304c" stroke-width="0.9450000000000001" stroke-opacity="0.9"/>
<circle cx="548.96" cy="207.20" r="2.30" fill="url(#gR)"/>
<circle cx="547.10" cy="209.75" r="2.30" fill="url(#gR)"/>
<circle cx="545.23" cy="212.29" r="2.30" fill="url(#gR)"/>
<circle cx="543.37" cy="214.84" r="2.30" fill="url(#gR)"/>
<circle cx="553.73" cy="224.93" r="1.70" fill="url(#gR)"/>
<circle cx="552.65" cy="226.64" r="1.90" fill="url(#gR)"/>
<circle cx="550.76" cy="229.16" r="2.50" fill="url(#gR)"/>
<circle cx="568.96" cy="207.20" r="2.30" fill="url(#gR)"/>
<circle cx="567.10" cy="209.75" r="2.30" fill="url(#gR)"/>
<circle cx="565.23" cy="212.29" r="2.30" fill="url(#gR)"/>
<circle cx="563.37" cy="214.84" r="2.30" fill="url(#gR)"/>
<circle cx="573.73" cy="224.93" r="1.70" fill="url(#gR)"/>
<circle cx="572.65" cy="226.64" r="1.90" fill="url(#gR)"/>
<circle cx="570.76" cy="229.16" r="2.50" fill="url(#gR)"/>
<circle cx="588.96" cy="207.20" r="2.30" fill="url(#gR)"/>
<circle cx="587.10" cy="209.75" r="2.30" fill="url(#gR)"/>
<circle cx="585.23" cy="212.29" r="2.30" fill="url(#gR)"/>
<circle cx="583.37" cy="214.84" r="2.30" fill="url(#gR)"/>
<circle cx="593.73" cy="224.93" r="1.70" fill="url(#gR)"/>
<circle cx="592.65" cy="226.64" r="1.90" fill="url(#gR)"/>
<circle cx="590.76" cy="229.16" r="2.50" fill="url(#gR)"/>
<circle cx="608.96" cy="207.20" r="2.30" fill="url(#gR)"/>
<circle cx="607.10" cy="209.75" r="2.30" fill="url(#gR)"/>
<circle cx="605.23" cy="212.29" r="2.30" fill="url(#gR)"/>
<circle cx="603.37" cy="214.84" r="2.30" fill="url(#gR)"/>
<circle cx="613.73" cy="224.93" r="1.70" fill="url(#gR)"/>
<circle cx="612.65" cy="226.64" r="1.90" fill="url(#gR)"/>
<circle cx="610.76" cy="229.16" r="2.50" fill="url(#gR)"/>
<circle cx="628.96" cy="207.20" r="2.30" fill="url(#gR)"/>
<circle cx="627.10" cy="209.75" r="2.30" fill="url(#gR)"/>
<circle cx="625.23" cy="212.29" r="2.30" fill="url(#gR)"/>
<circle cx="623.37" cy="214.84" r="2.30" fill="url(#gR)"/>
<circle cx="635.44" cy="223.94" r="2.00" fill="url(#gR)"/>
<circle cx="633.64" cy="226.28" r="2.10" fill="url(#gR)"/>
<circle cx="631.48" cy="228.98" r="2.50" fill="url(#gR)"/>
<circle cx="558.50" cy="220.70" r="4.14" fill="url(#gM)"/>
<circle cx="578.50" cy="220.70" r="4.14" fill="url(#gM)"/>
<circle cx="598.50" cy="220.70" r="4.14" fill="url(#gM)"/>
<circle cx="618.50" cy="220.70" r="4.14" fill="url(#gM)"/>
<line x1="568.82" y1="186.80" x2="609.68" y2="185.60" stroke="#bb9684" stroke-width="1.5" />
<line x1="568.82" y1="186.30" x2="609.68" y2="185.10" stroke="#f4ece8" stroke-width="0.5" />
<circle cx="568.8" cy="186.5" r="1.05" fill="#86543a"/>
<circle cx="573.4" cy="187.2" r="1.05" fill="#86543a"/>
<circle cx="578.0" cy="186.2" r="1.05" fill="#86543a"/>
<circle cx="582.6" cy="186.9" r="1.05" fill="#86543a"/>
<circle cx="587.2" cy="186.0" r="1.05" fill="#86543a"/>
<circle cx="591.8" cy="186.6" r="1.05" fill="#86543a"/>
<circle cx="596.4" cy="185.7" r="1.05" fill="#86543a"/>
<circle cx="601.0" cy="186.4" r="1.05" fill="#86543a"/>
<circle cx="605.6" cy="185.4" r="1.05" fill="#86543a"/>
<line x1="550.66" y1="189.20" x2="627.84" y2="188.00" stroke="#bb9684" stroke-width="1.5" />
<line x1="550.66" y1="188.70" x2="627.84" y2="187.50" stroke="#f4ece8" stroke-width="0.5" />
<circle cx="553.9" cy="188.9" r="1.05" fill="#86543a"/>
<circle cx="558.5" cy="189.6" r="1.05" fill="#86543a"/>
<circle cx="563.1" cy="188.7" r="1.05" fill="#86543a"/>
<circle cx="567.7" cy="189.4" r="1.05" fill="#86543a"/>
<circle cx="572.3" cy="188.6" r="1.05" fill="#86543a"/>
<circle cx="576.9" cy="189.3" r="1.05" fill="#86543a"/>
<circle cx="581.5" cy="188.4" r="1.05" fill="#86543a"/>
<circle cx="586.1" cy="189.1" r="1.05" fill="#86543a"/>
<circle cx="590.7" cy="188.3" r="1.05" fill="#86543a"/>
<circle cx="595.3" cy="189.0" r="1.05" fill="#86543a"/>
<circle cx="599.9" cy="188.1" r="1.05" fill="#86543a"/>
<circle cx="604.5" cy="188.9" r="1.05" fill="#86543a"/>
<circle cx="609.1" cy="188.0" r="1.05" fill="#86543a"/>
<circle cx="613.7" cy="188.7" r="1.05" fill="#86543a"/>
<circle cx="618.3" cy="187.8" r="1.05" fill="#86543a"/>
<circle cx="622.9" cy="188.6" r="1.05" fill="#86543a"/>
<circle cx="627.5" cy="187.7" r="1.05" fill="#86543a"/>
<line x1="532.50" y1="191.60" x2="646.00" y2="190.40" stroke="#bb9684" stroke-width="1.5" />
<line x1="532.50" y1="191.10" x2="646.00" y2="189.90" stroke="#f4ece8" stroke-width="0.5" />
<circle cx="532.5" cy="191.3" r="1.05" fill="#86543a"/>
<circle cx="537.1" cy="192.1" r="1.05" fill="#86543a"/>
<circle cx="541.7" cy="191.2" r="1.05" fill="#86543a"/>
<circle cx="546.3" cy="192.0" r="1.05" fill="#86543a"/>
<circle cx="550.9" cy="191.1" r="1.05" fill="#86543a"/>
<circle cx="555.5" cy="191.9" r="1.05" fill="#86543a"/>
<circle cx="560.1" cy="191.0" r="1.05" fill="#86543a"/>
<circle cx="564.7" cy="191.8" r="1.05" fill="#86543a"/>
<circle cx="569.3" cy="190.9" r="1.05" fill="#86543a"/>
<circle cx="573.9" cy="191.7" r="1.05" fill="#86543a"/>
<circle cx="578.5" cy="190.8" r="1.05" fill="#86543a"/>
<circle cx="583.1" cy="191.6" r="1.05" fill="#86543a"/>
<circle cx="587.7" cy="190.7" r="1.05" fill="#86543a"/>
<circle cx="592.3" cy="191.5" r="1.05" fill="#86543a"/>
<circle cx="596.9" cy="190.6" r="1.05" fill="#86543a"/>
<circle cx="601.5" cy="191.4" r="1.05" fill="#86543a"/>
<circle cx="606.1" cy="190.5" r="1.05" fill="#86543a"/>
<circle cx="610.7" cy="191.3" r="1.05" fill="#86543a"/>
<circle cx="615.3" cy="190.4" r="1.05" fill="#86543a"/>
<circle cx="619.9" cy="191.2" r="1.05" fill="#86543a"/>
<circle cx="624.5" cy="190.3" r="1.05" fill="#86543a"/>
<circle cx="629.1" cy="191.1" r="1.05" fill="#86543a"/>
<circle cx="633.7" cy="190.2" r="1.05" fill="#86543a"/>
<circle cx="638.3" cy="191.0" r="1.05" fill="#86543a"/>
<circle cx="642.9" cy="190.1" r="1.05" fill="#86543a"/>
<line x1="550.66" y1="194.00" x2="627.84" y2="192.80" stroke="#bb9684" stroke-width="1.5" />
<line x1="550.66" y1="193.50" x2="627.84" y2="192.30" stroke="#f4ece8" stroke-width="0.5" />
<circle cx="553.9" cy="193.7" r="1.05" fill="#86543a"/>
<circle cx="558.5" cy="194.4" r="1.05" fill="#86543a"/>
<circle cx="563.1" cy="193.5" r="1.05" fill="#86543a"/>
<circle cx="567.7" cy="194.2" r="1.05" fill="#86543a"/>
<circle cx="572.3" cy="193.4" r="1.05" fill="#86543a"/>
<circle cx="576.9" cy="194.1" r="1.05" fill="#86543a"/>
<circle cx="581.5" cy="193.2" r="1.05" fill="#86543a"/>
<circle cx="586.1" cy="193.9" r="1.05" fill="#86543a"/>
<circle cx="590.7" cy="193.1" r="1.05" fill="#86543a"/>
<circle cx="595.3" cy="193.8" r="1.05" fill="#86543a"/>
<circle cx="599.9" cy="192.9" r="1.05" fill="#86543a"/>
<circle cx="604.5" cy="193.7" r="1.05" fill="#86543a"/>
<circle cx="609.1" cy="192.8" r="1.05" fill="#86543a"/>
<circle cx="613.7" cy="193.5" r="1.05" fill="#86543a"/>
<circle cx="618.3" cy="192.6" r="1.05" fill="#86543a"/>
<circle cx="622.9" cy="193.4" r="1.05" fill="#86543a"/>
<circle cx="627.5" cy="192.5" r="1.05" fill="#86543a"/>
<line x1="568.82" y1="196.40" x2="609.68" y2="195.20" stroke="#bb9684" stroke-width="1.5" />
<line x1="568.82" y1="195.90" x2="609.68" y2="194.70" stroke="#f4ece8" stroke-width="0.5" />
<circle cx="568.8" cy="196.1" r="1.05" fill="#86543a"/>
<circle cx="573.4" cy="196.8" r="1.05" fill="#86543a"/>
<circle cx="578.0" cy="195.8" r="1.05" fill="#86543a"/>
<circle cx="582.6" cy="196.5" r="1.05" fill="#86543a"/>
<circle cx="587.2" cy="195.6" r="1.05" fill="#86543a"/>
<circle cx="591.8" cy="196.2" r="1.05" fill="#86543a"/>
<circle cx="596.4" cy="195.3" r="1.05" fill="#86543a"/>
<circle cx="601.0" cy="196.0" r="1.05" fill="#86543a"/>
<circle cx="605.6" cy="195.0" r="1.05" fill="#86543a"/>
<line x1="568.82" y1="238.80" x2="609.68" y2="237.60" stroke="#bb9684" stroke-width="1.5" />
<line x1="568.82" y1="238.30" x2="609.68" y2="237.10" stroke="#f4ece8" stroke-width="0.5" />
<circle cx="568.8" cy="238.5" r="1.05" fill="#86543a"/>
<circle cx="573.4" cy="239.2" r="1.05" fill="#86543a"/>
<circle cx="578.0" cy="238.2" r="1.05" fill="#86543a"/>
<circle cx="582.6" cy="238.9" r="1.05" fill="#86543a"/>
<circle cx="587.2" cy="238.0" r="1.05" fill="#86543a"/>
<circle cx="591.8" cy="238.6" r="1.05" fill="#86543a"/>
<circle cx="596.4" cy="237.7" r="1.05" fill="#86543a"/>
<circle cx="601.0" cy="238.4" r="1.05" fill="#86543a"/>
<circle cx="605.6" cy="237.4" r="1.05" fill="#86543a"/>
<line x1="550.66" y1="241.20" x2="627.84" y2="240.00" stroke="#bb9684" stroke-width="1.5" />
<line x1="550.66" y1="240.70" x2="627.84" y2="239.50" stroke="#f4ece8" stroke-width="0.5" />
<circle cx="553.9" cy="240.9" r="1.05" fill="#86543a"/>
<circle cx="558.5" cy="241.6" r="1.05" fill="#86543a"/>
<circle cx="563.1" cy="240.7" r="1.05" fill="#86543a"/>
<circle cx="567.7" cy="241.4" r="1.05" fill="#86543a"/>
<circle cx="572.3" cy="240.6" r="1.05" fill="#86543a"/>
<circle cx="576.9" cy="241.3" r="1.05" fill="#86543a"/>
<circle cx="581.5" cy="240.4" r="1.05" fill="#86543a"/>
<circle cx="586.1" cy="241.1" r="1.05" fill="#86543a"/>
<circle cx="590.7" cy="240.3" r="1.05" fill="#86543a"/>
<circle cx="595.3" cy="241.0" r="1.05" fill="#86543a"/>
<circle cx="599.9" cy="240.1" r="1.05" fill="#86543a"/>
<circle cx="604.5" cy="240.9" r="1.05" fill="#86543a"/>
<circle cx="609.1" cy="240.0" r="1.05" fill="#86543a"/>
<circle cx="613.7" cy="240.7" r="1.05" fill="#86543a"/>
<circle cx="618.3" cy="239.8" r="1.05" fill="#86543a"/>
<circle cx="622.9" cy="240.6" r="1.05" fill="#86543a"/>
<circle cx="627.5" cy="239.7" r="1.05" fill="#86543a"/>
<line x1="532.50" y1="243.60" x2="646.00" y2="242.40" stroke="#bb9684" stroke-width="1.5" />
<line x1="532.50" y1="243.10" x2="646.00" y2="241.90" stroke="#f4ece8" stroke-width="0.5" />
<circle cx="532.5" cy="243.3" r="1.05" fill="#86543a"/>
<circle cx="537.1" cy="244.1" r="1.05" fill="#86543a"/>
<circle cx="541.7" cy="243.2" r="1.05" fill="#86543a"/>
<circle cx="546.3" cy="244.0" r="1.05" fill="#86543a"/>
<circle cx="550.9" cy="243.1" r="1.05" fill="#86543a"/>
<circle cx="555.5" cy="243.9" r="1.05" fill="#86543a"/>
<circle cx="560.1" cy="243.0" r="1.05" fill="#86543a"/>
<circle cx="564.7" cy="243.8" r="1.05" fill="#86543a"/>
<circle cx="569.3" cy="242.9" r="1.05" fill="#86543a"/>
<circle cx="573.9" cy="243.7" r="1.05" fill="#86543a"/>
<circle cx="578.5" cy="242.8" r="1.05" fill="#86543a"/>
<circle cx="583.1" cy="243.6" r="1.05" fill="#86543a"/>
<circle cx="587.7" cy="242.7" r="1.05" fill="#86543a"/>
<circle cx="592.3" cy="243.5" r="1.05" fill="#86543a"/>
<circle cx="596.9" cy="242.6" r="1.05" fill="#86543a"/>
<circle cx="601.5" cy="243.4" r="1.05" fill="#86543a"/>
<circle cx="606.1" cy="242.5" r="1.05" fill="#86543a"/>
<circle cx="610.7" cy="243.3" r="1.05" fill="#86543a"/>
<circle cx="615.3" cy="242.4" r="1.05" fill="#86543a"/>
<circle cx="619.9" cy="243.2" r="1.05" fill="#86543a"/>
<circle cx="624.5" cy="242.3" r="1.05" fill="#86543a"/>
<circle cx="629.1" cy="243.1" r="1.05" fill="#86543a"/>
<circle cx="633.7" cy="242.2" r="1.05" fill="#86543a"/>
<circle cx="638.3" cy="243.0" r="1.05" fill="#86543a"/>
<circle cx="642.9" cy="242.1" r="1.05" fill="#86543a"/>
<line x1="550.66" y1="246.00" x2="627.84" y2="244.80" stroke="#bb9684" stroke-width="1.5" />
<line x1="550.66" y1="245.50" x2="627.84" y2="244.30" stroke="#f4ece8" stroke-width="0.5" />
<circle cx="553.9" cy="245.7" r="1.05" fill="#86543a"/>
<circle cx="558.5" cy="246.4" r="1.05" fill="#86543a"/>
<circle cx="563.1" cy="245.5" r="1.05" fill="#86543a"/>
<circle cx="567.7" cy="246.2" r="1.05" fill="#86543a"/>
<circle cx="572.3" cy="245.4" r="1.05" fill="#86543a"/>
<circle cx="576.9" cy="246.1" r="1.05" fill="#86543a"/>
<circle cx="581.5" cy="245.2" r="1.05" fill="#86543a"/>
<circle cx="586.1" cy="245.9" r="1.05" fill="#86543a"/>
<circle cx="590.7" cy="245.1" r="1.05" fill="#86543a"/>
<circle cx="595.3" cy="245.8" r="1.05" fill="#86543a"/>
<circle cx="599.9" cy="244.9" r="1.05" fill="#86543a"/>
<circle cx="604.5" cy="245.7" r="1.05" fill="#86543a"/>
<circle cx="609.1" cy="244.8" r="1.05" fill="#86543a"/>
<circle cx="613.7" cy="245.5" r="1.05" fill="#86543a"/>
<circle cx="618.3" cy="244.6" r="1.05" fill="#86543a"/>
<circle cx="622.9" cy="245.4" r="1.05" fill="#86543a"/>
<circle cx="627.5" cy="244.5" r="1.05" fill="#86543a"/>
<line x1="568.82" y1="248.40" x2="609.68" y2="247.20" stroke="#bb9684" stroke-width="1.5" />
<line x1="568.82" y1="247.90" x2="609.68" y2="246.70" stroke="#f4ece8" stroke-width="0.5" />
<circle cx="568.8" cy="248.1" r="1.05" fill="#86543a"/>
<circle cx="573.4" cy="248.8" r="1.05" fill="#86543a"/>
<circle cx="578.0" cy="247.8" r="1.05" fill="#86543a"/>
<circle cx="582.6" cy="248.5" r="1.05" fill="#86543a"/>
<circle cx="587.2" cy="247.6" r="1.05" fill="#86543a"/>
<circle cx="591.8" cy="248.2" r="1.05" fill="#86543a"/>
<circle cx="596.4" cy="247.3" r="1.05" fill="#86543a"/>
<circle cx="601.0" cy="248.0" r="1.05" fill="#86543a"/>
<circle cx="605.6" cy="247.0" r="1.05" fill="#86543a"/>
<line x1="316.10" y1="163.00" x2="328.50" y2="163.00" stroke="#cb7131" stroke-width="2" />
<line x1="316.10" y1="201.80" x2="328.50" y2="201.80" stroke="#cb7131" stroke-width="2" />
<line x1="322.30" y1="166.00" x2="322.30" y2="199.00" stroke="#cb7131" stroke-width="1.4" />
<polygon points="320.00,168.00 324.60,168.00 322.30,164.00" fill="#cb7131" stroke="none" stroke-width="1" />
<polygon points="320.00,197.00 324.60,197.00 322.30,201.00" fill="#cb7131" stroke="none" stroke-width="1" />
<text transform="translate(335.60,183.20) rotate(90)" x="0" y="0" font-size="11.5" text-anchor="middle" fill="#cb7131" >0.95 nm</text>
<line x1="656.00" y1="160.50" x2="667.00" y2="160.50" stroke="#cb7131" stroke-width="2" />
<line x1="656.00" y1="217.80" x2="667.00" y2="217.80" stroke="#cb7131" stroke-width="2" />
<line x1="661.50" y1="163.00" x2="661.50" y2="215.00" stroke="#cb7131" stroke-width="1.4" />
<polygon points="659.20,165.50 663.80,165.50 661.50,161.50" fill="#cb7131" stroke="none" stroke-width="1" />
<polygon points="659.20,213.00 663.80,213.00 661.50,217.00" fill="#cb7131" stroke="none" stroke-width="1" />
<text transform="translate(677.00,187.30) rotate(90)" x="0" y="0" font-size="11.5" text-anchor="middle" fill="#cb7131" >2.57 nm</text>
<rect x="62.7" y="305.5" width="241" height="194.4" fill="none" stroke="#474747" stroke-width="1.4"/>
<line x1="59.00" y1="499.90" x2="62.70" y2="499.90" stroke="#474747" stroke-width="1.3" />
<text transform="translate(57.20,504.80) scale(0.91,1)" x="0" y="0" font-size="14.6" text-anchor="end" fill="#000">0</text>
<line x1="60.60" y1="480.46" x2="62.70" y2="480.46" stroke="#474747" stroke-width="1.1" />
<line x1="59.00" y1="461.02" x2="62.70" y2="461.02" stroke="#474747" stroke-width="1.3" />
<text transform="translate(57.20,465.92) scale(0.91,1)" x="0" y="0" font-size="14.6" text-anchor="end" fill="#000">1</text>
<line x1="60.60" y1="441.58" x2="62.70" y2="441.58" stroke="#474747" stroke-width="1.1" />
<line x1="59.00" y1="422.14" x2="62.70" y2="422.14" stroke="#474747" stroke-width="1.3" />
<text transform="translate(57.20,427.04) scale(0.91,1)" x="0" y="0" font-size="14.6" text-anchor="end" fill="#000">2</text>
<line x1="60.60" y1="402.70" x2="62.70" y2="402.70" stroke="#474747" stroke-width="1.1" />
<line x1="59.00" y1="383.26" x2="62.70" y2="383.26" stroke="#474747" stroke-width="1.3" />
<text transform="translate(57.20,388.16) scale(0.91,1)" x="0" y="0" font-size="14.6" text-anchor="end" fill="#000">3</text>
<line x1="60.60" y1="363.82" x2="62.70" y2="363.82" stroke="#474747" stroke-width="1.1" />
<line x1="59.00" y1="344.38" x2="62.70" y2="344.38" stroke="#474747" stroke-width="1.3" />
<text transform="translate(57.20,349.28) scale(0.91,1)" x="0" y="0" font-size="14.6" text-anchor="end" fill="#000">4</text>
<line x1="60.60" y1="324.94" x2="62.70" y2="324.94" stroke="#474747" stroke-width="1.1" />
<line x1="59.00" y1="305.50" x2="62.70" y2="305.50" stroke="#474747" stroke-width="1.3" />
<text transform="translate(57.20,310.40) scale(0.91,1)" x="0" y="0" font-size="14.6" text-anchor="end" fill="#000">5</text>
<line x1="62.60" y1="499.90" x2="62.60" y2="503.60" stroke="#474747" stroke-width="1.3" />
<text transform="translate(62.60,517.10) scale(0.91,1)" x="0" y="0" font-size="14.6" text-anchor="middle" fill="#000">0</text>
<line x1="82.69" y1="499.90" x2="82.69" y2="502.20" stroke="#474747" stroke-width="1.1" />
<line x1="102.78" y1="499.90" x2="102.78" y2="503.60" stroke="#474747" stroke-width="1.3" />
<text transform="translate(102.78,517.10) scale(0.91,1)" x="0" y="0" font-size="14.6" text-anchor="middle" fill="#000">50</text>
<line x1="122.88" y1="499.90" x2="122.88" y2="502.20" stroke="#474747" stroke-width="1.1" />
<line x1="142.97" y1="499.90" x2="142.97" y2="503.60" stroke="#474747" stroke-width="1.3" />
<text transform="translate(142.97,517.10) scale(0.91,1)" x="0" y="0" font-size="14.6" text-anchor="middle" fill="#000">100</text>
<line x1="163.06" y1="499.90" x2="163.06" y2="502.20" stroke="#474747" stroke-width="1.1" />
<line x1="183.16" y1="499.90" x2="183.16" y2="503.60" stroke="#474747" stroke-width="1.3" />
<text transform="translate(183.16,517.10) scale(0.91,1)" x="0" y="0" font-size="14.6" text-anchor="middle" fill="#000">150</text>
<line x1="203.25" y1="499.90" x2="203.25" y2="502.20" stroke="#474747" stroke-width="1.1" />
<line x1="223.34" y1="499.90" x2="223.34" y2="503.60" stroke="#474747" stroke-width="1.3" />
<text transform="translate(223.34,517.10) scale(0.91,1)" x="0" y="0" font-size="14.6" text-anchor="middle" fill="#000">200</text>
<line x1="243.43" y1="499.90" x2="243.43" y2="502.20" stroke="#474747" stroke-width="1.1" />
<line x1="263.52" y1="499.90" x2="263.52" y2="503.60" stroke="#474747" stroke-width="1.3" />
<text transform="translate(263.52,517.10) scale(0.91,1)" x="0" y="0" font-size="14.6" text-anchor="middle" fill="#000">250</text>
<line x1="283.62" y1="499.90" x2="283.62" y2="502.20" stroke="#474747" stroke-width="1.1" />
<line x1="303.71" y1="499.90" x2="303.71" y2="503.60" stroke="#474747" stroke-width="1.3" />
<text transform="translate(303.71,517.10) scale(0.91,1)" x="0" y="0" font-size="14.6" text-anchor="middle" fill="#000">300</text>
<text x="182.70" y="541.00" font-size="16" text-anchor="middle" fill="#000" font-weight="normal" font-style="normal" >Temperature (K)</text>
<text transform="translate(36.60,397.50) rotate(-90)" x="0" y="0" font-size="16" text-anchor="middle" fill="#000" ><tspan font-style="italic">M</tspan> (×10<tspan font-size="10.5" dy="-6">−3</tspan><tspan dy="6">emu/g )</tspan></text>
<path d="M63.40,383.60 L63.72,383.69 L64.04,383.79 L64.36,383.89 L64.68,383.99 L64.99,384.10 L65.31,384.20 L65.63,384.31 L65.95,384.42 L66.27,384.52 L66.59,384.61 L66.90,384.70 L67.22,384.80 L67.54,384.90 L67.86,385.02 L68.18,385.17 L68.50,385.35 L68.81,385.56 L69.13,385.98 L69.45,386.66 L69.77,387.53 L70.09,388.51 L70.41,389.50 L70.72,390.45 L71.04,391.47 L71.36,392.57 L71.68,393.71 L72.00,394.83 L72.31,395.88 L72.63,396.83 L72.95,397.75 L73.27,398.64 L73.59,399.51 L73.91,400.36 L74.22,401.19 L74.54,401.99 L74.86,402.77 L75.18,403.52 L75.50,404.25 L75.82,404.95 L76.13,405.62 L76.45,406.26 L76.77,406.88 L77.09,407.49 L77.41,408.08 L77.72,408.65 L78.04,409.21 L78.36,409.75 L78.68,410.29 L79.00,410.81 L79.32,411.32 L79.63,411.83 L79.95,412.32 L80.27,412.81 L80.59,413.30 L80.91,413.79 L81.23,414.27 L81.54,414.75 L81.86,415.23 L82.18,415.71 L82.50,416.18 L82.82,416.65 L83.13,417.11 L83.45,417.57 L83.77,418.03 L84.09,418.48 L84.41,418.93 L84.73,419.37 L85.04,419.81 L85.36,420.25 L85.68,420.68 L86.00,421.10 L86.32,421.53 L86.64,421.95 L86.95,422.37 L87.27,422.78 L87.59,423.19 L87.91,423.60 L88.23,424.00 L88.54,424.40 L88.86,424.80 L89.18,425.19 L89.50,425.58 L89.82,425.97 L90.14,426.36 L90.45,426.74 L90.77,427.12 L91.09,427.50 L91.41,427.87 L91.73,428.25 L92.05,428.62 L92.36,428.98 L92.68,429.35 L93.00,429.71 L93.32,430.06 L93.64,430.42 L93.96,430.76 L94.27,431.11 L94.59,431.45 L94.91,431.79 L95.23,432.12 L95.55,432.45 L95.86,432.77 L96.18,433.09 L96.50,433.41 L96.82,433.72 L97.14,434.03 L97.46,434.34 L97.77,434.64 L98.09,434.94 L98.41,435.24 L98.73,435.54 L99.05,435.84 L99.37,436.13 L99.68,436.42 L100.00,436.70 L100.32,436.99 L100.64,437.27 L100.96,437.55 L101.27,437.83 L101.59,438.10 L101.91,438.37 L102.23,438.64 L102.55,438.91 L102.87,439.17 L103.18,439.44 L103.50,439.70 L103.82,439.95 L104.14,440.21 L104.46,440.46 L104.78,440.71 L105.09,440.96 L105.41,441.21 L105.73,441.45 L106.05,441.69 L106.37,441.93 L106.68,442.17 L107.00,442.40 L107.32,442.63 L107.64,442.86 L107.96,443.09 L108.28,443.31 L108.59,443.53 L108.91,443.75 L109.23,443.97 L109.55,444.19 L109.87,444.41 L110.19,444.62 L110.50,444.83 L110.82,445.04 L111.63,445.57 L113.24,446.61 L114.85,447.63 L116.47,448.64 L118.08,449.62 L119.70,450.59 L121.31,451.53 L122.92,452.43 L124.54,453.29 L126.15,454.13 L127.77,454.95 L129.38,455.73 L131.00,456.49 L132.61,457.21 L134.22,457.89 L135.84,458.55 L137.45,459.18 L139.07,459.78 L140.68,460.36 L142.29,460.92 L143.91,461.43 L145.52,461.92 L147.14,462.38 L148.75,462.83 L150.37,463.29 L151.98,463.77 L153.59,464.28 L155.21,464.81 L156.82,465.34 L158.44,465.84 L160.05,466.30 L161.66,466.72 L163.28,467.13 L164.89,467.52 L166.51,467.89 L168.12,468.25 L169.74,468.61 L171.35,468.95 L172.96,469.29 L174.58,469.63 L176.19,469.96 L177.81,470.28 L179.42,470.61 L181.03,470.92 L182.65,471.24 L184.26,471.55 L185.88,471.85 L187.49,472.15 L189.11,472.44 L190.72,472.73 L192.33,473.01 L193.95,473.28 L195.56,473.55 L197.18,473.81 L198.79,474.06 L200.40,474.30 L202.02,474.54 L203.63,474.78 L205.25,475.01 L206.86,475.23 L208.47,475.45 L210.09,475.67 L211.70,475.88 L213.32,476.09 L214.93,476.29 L216.55,476.50 L218.16,476.69 L219.77,476.89 L221.39,477.08 L223.00,477.26 L224.62,477.45 L226.23,477.63 L227.84,477.80 L229.46,477.97 L231.07,478.14 L232.69,478.31 L234.30,478.47 L235.92,478.63 L237.53,478.79 L239.14,478.95 L240.76,479.10 L242.37,479.26 L243.99,479.41 L245.60,479.57 L247.21,479.72 L248.83,479.88 L250.44,480.04 L252.06,480.19 L253.67,480.35 L255.29,480.50 L256.90,480.66 L258.51,480.81 L260.13,480.96 L261.74,481.11 L263.36,481.26 L264.97,481.41 L266.58,481.56 L268.20,481.71 L269.81,481.85 L271.43,481.99 L273.04,482.13 L274.66,482.27 L276.27,482.40 L277.88,482.54 L279.50,482.67 L281.11,482.80 L282.73,482.93 L284.34,483.06 L285.95,483.18 L287.57,483.31 L289.18,483.43 L290.80,483.56 L292.41,483.68 L294.03,483.80 L295.64,483.91 L297.25,484.03 L298.87,484.15 L300.48,484.26 L302.10,484.37 L303.71,484.48" fill="none" stroke="#2f7de6" stroke-width="1.1"/>
<path d="M63.40,385.60 L63.72,385.69 L64.04,385.79 L64.36,385.89 L64.68,385.99 L64.99,386.10 L65.31,386.20 L65.63,386.31 L65.95,386.42 L66.27,386.52 L66.59,386.61 L66.90,386.70 L67.22,386.80 L67.54,386.90 L67.86,387.02 L68.18,387.17 L68.50,387.35 L68.81,387.56 L69.13,387.98 L69.45,388.66 L69.77,389.53 L70.09,390.51 L70.41,391.50 L70.72,392.45 L71.04,393.47 L71.36,394.57 L71.68,395.71 L72.00,396.83 L72.31,397.88 L72.63,398.83 L72.95,399.75 L73.27,400.64 L73.59,401.51 L73.91,402.36 L74.22,403.19 L74.54,403.99 L74.86,404.77 L75.18,405.52 L75.50,406.25 L75.82,406.95 L76.13,407.62 L76.45,408.26 L76.77,408.88 L77.09,409.49 L77.41,410.08 L77.72,410.65 L78.04,411.21 L78.36,411.75 L78.68,412.29 L79.00,412.81 L79.32,413.32 L79.63,413.83 L79.95,414.32 L80.27,414.81 L80.59,415.30 L80.91,415.79 L81.23,416.27 L81.54,416.75 L81.86,417.23 L82.18,417.71 L82.50,418.18 L82.82,418.65 L83.13,419.11 L83.45,419.57 L83.77,420.03 L84.09,420.48 L84.41,420.93 L84.73,421.37 L85.04,421.81 L85.36,422.25 L85.68,422.68 L86.00,423.10 L86.32,423.53 L86.64,423.95 L86.95,424.37 L87.27,424.78 L87.59,425.19 L87.91,425.60 L88.23,426.00 L88.54,426.40 L88.86,426.80 L89.18,427.19 L89.50,427.58 L89.82,427.97 L90.14,428.36 L90.45,428.74 L90.77,429.12 L91.09,429.50 L91.41,429.87 L91.73,430.25 L92.05,430.62 L92.36,430.98 L92.68,431.35 L93.00,431.71 L93.32,432.06 L93.64,432.42 L93.96,432.76 L94.27,433.11 L94.59,433.45 L94.91,433.79 L95.23,434.12 L95.55,434.45 L95.86,434.77 L96.18,435.09 L96.50,435.41 L96.82,435.72 L97.14,436.03 L97.46,436.34 L97.77,436.64 L98.09,436.94 L98.41,437.24 L98.73,437.54 L99.05,437.84 L99.37,438.13 L99.68,438.42 L100.00,438.70 L100.32,438.99 L100.64,439.27 L100.96,439.55 L101.27,439.83 L101.59,440.10 L101.91,440.37 L102.23,440.64 L102.55,440.91 L102.87,441.17 L103.18,441.44 L103.50,441.70 L103.82,441.95 L104.14,442.21 L104.46,442.46 L104.78,442.71 L105.09,442.96 L105.41,443.21 L105.73,443.45 L106.05,443.69 L106.37,443.93 L106.68,444.17 L107.00,444.40 L107.32,444.63 L107.64,444.86 L107.96,445.09 L108.28,445.31 L108.59,445.53 L108.91,445.75 L109.23,445.97 L109.55,446.19 L109.87,446.41 L110.19,446.62 L110.50,446.83 L110.82,447.04 L111.63,447.57 L113.24,448.61 L114.85,449.63 L116.47,450.64 L118.08,451.62 L119.70,452.57 L121.31,453.46 L122.92,454.33 L124.54,455.15 L126.15,455.95 L127.77,456.72 L129.38,457.47 L131.00,458.18 L132.61,458.86 L134.22,459.51 L135.84,460.13 L137.45,460.72 L139.07,461.28 L140.68,461.82 L142.29,462.33 L143.91,462.81 L145.52,463.25 L147.14,463.68 L148.75,464.09 L150.37,464.51 L151.98,464.95 L153.59,465.42 L155.21,465.91 L156.82,466.40 L158.44,466.86 L160.05,467.27 L161.66,467.66 L163.28,468.02 L164.89,468.37 L166.51,468.71 L168.12,469.03 L169.74,469.34 L171.35,469.65 L172.96,469.95 L174.58,470.24 L176.19,470.53 L177.81,470.82 L179.42,471.10 L181.03,471.38 L182.65,471.65 L184.26,471.92 L185.88,472.18 L187.49,472.44 L189.11,472.70 L190.72,472.94 L192.33,473.18 L193.95,473.42 L195.56,473.64 L197.18,473.86 L198.79,474.07 L200.40,474.30 L202.02,474.54 L203.63,474.78 L205.25,475.01 L206.86,475.23 L208.47,475.45 L210.09,475.67 L211.70,475.88 L213.32,476.09 L214.93,476.29 L216.55,476.50 L218.16,476.69 L219.77,476.89 L221.39,477.08 L223.00,477.26 L224.62,477.45 L226.23,477.63 L227.84,477.80 L229.46,477.97 L231.07,478.14 L232.69,478.31 L234.30,478.47 L235.92,478.63 L237.53,478.79 L239.14,478.95 L240.76,479.10 L242.37,479.26 L243.99,479.41 L245.60,479.57 L247.21,479.72 L248.83,479.88 L250.44,480.04 L252.06,480.19 L253.67,480.35 L255.29,480.50 L256.90,480.66 L258.51,480.81 L260.13,480.96 L261.74,481.11 L263.36,481.26 L264.97,481.41 L266.58,481.56 L268.20,481.71 L269.81,481.85 L271.43,481.99 L273.04,482.13 L274.66,482.27 L276.27,482.40 L277.88,482.54 L279.50,482.67 L281.11,482.80 L282.73,482.93 L284.34,483.06 L285.95,483.18 L287.57,483.31 L289.18,483.43 L290.80,483.56 L292.41,483.68 L294.03,483.80 L295.64,483.91 L297.25,484.03 L298.87,484.15 L300.48,484.26 L302.10,484.37 L303.71,484.48" fill="none" stroke="#2f7de6" stroke-width="1.1"/>
<path d="M63.40,382.82 L63.72,382.67 L64.04,382.53 L64.36,382.39 L64.68,382.27 L64.99,382.16 L65.31,382.07 L65.63,382.00 L65.95,381.93 L66.27,381.86 L66.59,381.80 L66.90,381.74 L67.22,381.70 L67.54,381.67 L67.86,381.66 L68.18,381.75 L68.50,382.05 L68.81,382.50 L69.13,383.05 L69.45,383.64 L69.77,384.47 L70.09,385.57 L70.41,386.73 L70.72,387.73 L71.04,388.67 L71.36,389.57 L71.68,390.42 L72.00,391.17 L72.31,391.84 L72.63,392.48 L72.95,393.04 L73.27,393.50 L73.59,393.81 L73.91,394.05 L74.22,394.26 L74.54,394.44 L74.86,394.59 L75.18,394.73 L75.50,394.87 L75.82,394.99 L76.13,395.09 L76.45,395.18 L76.77,395.27 L77.09,395.36 L77.41,395.46 L77.72,395.57 L78.04,395.70 L78.36,395.84 L78.68,395.99 L79.00,396.16 L79.32,396.33 L79.63,396.51 L79.95,396.70 L80.27,396.90 L80.59,397.10 L80.91,397.31 L81.23,397.52 L81.54,397.74 L81.86,397.96 L82.18,398.18 L82.50,398.41 L82.82,398.64 L83.13,398.86 L83.45,399.09 L83.77,399.32 L84.09,399.55 L84.41,399.79 L84.73,400.04 L85.04,400.29 L85.36,400.54 L85.68,400.80 L86.00,401.06 L86.32,401.33 L86.64,401.60 L86.95,401.87 L87.27,402.15 L87.59,402.42 L87.91,402.70 L88.23,402.98 L88.54,403.26 L88.86,403.55 L89.18,403.83 L89.50,404.12 L89.82,404.41 L90.14,404.71 L90.45,405.01 L90.77,405.31 L91.09,405.62 L91.41,405.94 L91.73,406.25 L92.05,406.57 L92.36,406.89 L92.68,407.20 L93.00,407.52 L93.32,407.84 L93.64,408.16 L93.96,408.48 L94.27,408.79 L94.59,409.10 L94.91,409.41 L95.23,409.72 L95.55,410.02 L95.86,410.31 L96.18,410.60 L96.50,410.89 L96.82,411.17 L97.14,411.46 L97.46,411.74 L97.77,412.01 L98.09,412.29 L98.41,412.56 L98.73,412.84 L99.05,413.11 L99.37,413.38 L99.68,413.65 L100.00,413.91 L100.32,414.18 L100.64,414.44 L100.96,414.71 L101.27,414.97 L101.59,415.23 L101.91,415.49 L102.23,415.75 L102.55,416.01 L102.87,416.27 L103.18,416.52 L103.50,416.78 L103.82,417.04 L104.14,417.29 L104.46,417.55 L104.78,417.80 L105.09,418.05 L105.41,418.31 L105.73,418.56 L106.05,418.81 L106.37,419.07 L106.68,419.32 L107.00,419.57 L107.32,419.82 L107.64,420.07 L107.96,420.32 L108.28,420.57 L108.59,420.82 L108.91,421.07 L109.23,421.31 L109.55,421.56 L109.87,421.80 L110.19,422.05 L110.50,422.29 L110.82,422.53 L111.63,423.14 L113.24,424.34 L114.85,425.51 L116.47,426.67 L118.08,427.82 L119.70,428.95 L121.31,430.02 L122.92,431.04 L124.54,431.97 L126.15,432.84 L127.77,433.66 L129.38,434.44 L131.00,435.18 L132.61,435.88 L134.22,436.53 L135.84,437.14 L137.45,437.71 L139.07,438.27 L140.68,438.81 L142.29,439.37 L143.91,439.95 L145.52,440.51 L147.14,441.07 L148.75,441.64 L150.37,442.23 L151.98,442.83 L153.59,443.48 L155.21,444.17 L156.82,444.85 L158.44,445.52 L160.05,446.14 L161.66,446.73 L163.28,447.31 L164.89,447.87 L166.51,448.42 L168.12,448.96 L169.74,449.48 L171.35,449.99 L172.96,450.48 L174.58,450.96 L176.19,451.42 L177.81,451.88 L179.42,452.33 L181.03,452.77 L182.65,453.21 L184.26,453.63 L185.88,454.05 L187.49,454.46 L189.11,454.86 L190.72,455.25 L192.33,455.63 L193.95,455.99 L195.56,456.34 L197.18,456.68 L198.79,457.00 L200.40,457.32 L202.02,457.62 L203.63,457.92 L205.25,458.21 L206.86,458.49 L208.47,458.76 L210.09,459.03 L211.70,459.29 L213.32,459.55 L214.93,459.80 L216.55,460.04 L218.16,460.28 L219.77,460.51 L221.39,460.74 L223.00,460.96 L224.62,461.18 L226.23,461.39 L227.84,461.59 L229.46,461.79 L231.07,461.98 L232.69,462.17 L234.30,462.36 L235.92,462.54 L237.53,462.72 L239.14,462.90 L240.76,463.08 L242.37,463.26 L243.99,463.43 L245.60,463.61 L247.21,463.80 L248.83,463.98 L250.44,464.17 L252.06,464.35 L253.67,464.54 L255.29,464.73 L256.90,464.91 L258.51,465.10 L260.13,465.29 L261.74,465.47 L263.36,465.66 L264.97,465.84 L266.58,466.02 L268.20,466.20 L269.81,466.39 L271.43,466.56 L273.04,466.74 L274.66,466.92 L276.27,467.09 L277.88,467.27 L279.50,467.44 L281.11,467.61 L282.73,467.79 L284.34,467.96 L285.95,468.13 L287.57,468.29 L289.18,468.46 L290.80,468.63 L292.41,468.80 L294.03,468.96 L295.64,469.12 L297.25,469.29 L298.87,469.45 L300.48,469.61 L302.10,469.77 L303.71,469.93" fill="none" stroke="#eb4d4f" stroke-width="1.1"/>
<path d="M63.40,385.22 L63.72,385.07 L64.04,384.93 L64.36,384.79 L64.68,384.67 L64.99,384.56 L65.31,384.47 L65.63,384.40 L65.95,384.33 L66.27,384.26 L66.59,384.20 L66.90,384.14 L67.22,384.10 L67.54,384.07 L67.86,384.06 L68.18,384.15 L68.50,384.45 L68.81,384.90 L69.13,385.45 L69.45,386.04 L69.77,386.87 L70.09,387.97 L70.41,389.13 L70.72,390.13 L71.04,391.07 L71.36,391.97 L71.68,392.82 L72.00,393.57 L72.31,394.24 L72.63,394.88 L72.95,395.44 L73.27,395.90 L73.59,396.21 L73.91,396.45 L74.22,396.66 L74.54,396.84 L74.86,396.99 L75.18,397.13 L75.50,397.27 L75.82,397.39 L76.13,397.49 L76.45,397.58 L76.77,397.67 L77.09,397.76 L77.41,397.86 L77.72,397.97 L78.04,398.10 L78.36,398.24 L78.68,398.39 L79.00,398.56 L79.32,398.73 L79.63,398.91 L79.95,399.10 L80.27,399.30 L80.59,399.50 L80.91,399.71 L81.23,399.92 L81.54,400.14 L81.86,400.36 L82.18,400.58 L82.50,400.81 L82.82,401.04 L83.13,401.26 L83.45,401.49 L83.77,401.72 L84.09,401.95 L84.41,402.19 L84.73,402.44 L85.04,402.69 L85.36,402.94 L85.68,403.20 L86.00,403.46 L86.32,403.73 L86.64,404.00 L86.95,404.27 L87.27,404.55 L87.59,404.82 L87.91,405.10 L88.23,405.38 L88.54,405.66 L88.86,405.95 L89.18,406.23 L89.50,406.52 L89.82,406.81 L90.14,407.11 L90.45,407.41 L90.77,407.71 L91.09,408.02 L91.41,408.34 L91.73,408.65 L92.05,408.97 L92.36,409.29 L92.68,409.60 L93.00,409.92 L93.32,410.24 L93.64,410.56 L93.96,410.88 L94.27,411.19 L94.59,411.50 L94.91,411.81 L95.23,412.12 L95.55,412.42 L95.86,412.71 L96.18,413.00 L96.50,413.29 L96.82,413.57 L97.14,413.86 L97.46,414.14 L97.77,414.41 L98.09,414.69 L98.41,414.96 L98.73,415.24 L99.05,415.51 L99.37,415.78 L99.68,416.05 L100.00,416.31 L100.32,416.58 L100.64,416.84 L100.96,417.11 L101.27,417.37 L101.59,417.63 L101.91,417.89 L102.23,418.15 L102.55,418.41 L102.87,418.67 L103.18,418.92 L103.50,419.18 L103.82,419.44 L104.14,419.69 L104.46,419.95 L104.78,420.20 L105.09,420.45 L105.41,420.71 L105.73,420.96 L106.05,421.21 L106.37,421.47 L106.68,421.72 L107.00,421.97 L107.32,422.22 L107.64,422.47 L107.96,422.72 L108.28,422.97 L108.59,423.22 L108.91,423.47 L109.23,423.71 L109.55,423.96 L109.87,424.20 L110.19,424.45 L110.50,424.69 L110.82,424.93 L111.63,425.52 L113.24,426.66 L114.85,427.78 L116.47,428.88 L118.08,429.98 L119.70,431.05 L121.31,432.08 L122.92,433.04 L124.54,433.91 L126.15,434.73 L127.77,435.50 L129.38,436.22 L131.00,436.91 L132.61,437.55 L134.22,438.16 L135.84,438.71 L137.45,439.23 L139.07,439.73 L140.68,440.22 L142.29,440.73 L143.91,441.25 L145.52,441.76 L147.14,442.27 L148.75,442.78 L150.37,443.32 L151.98,443.87 L153.59,444.46 L155.21,445.09 L156.82,445.73 L158.44,446.34 L160.05,446.91 L161.66,447.45 L163.28,447.97 L164.89,448.48 L166.51,448.98 L168.12,449.46 L169.74,449.93 L171.35,450.38 L172.96,450.82 L174.58,451.24 L176.19,451.65 L177.81,452.05 L179.42,452.45 L181.03,452.84 L182.65,453.22 L184.26,453.63 L185.88,454.05 L187.49,454.46 L189.11,454.86 L190.72,455.25 L192.33,455.63 L193.95,455.99 L195.56,456.34 L197.18,456.68 L198.79,457.00 L200.40,457.32 L202.02,457.62 L203.63,457.92 L205.25,458.21 L206.86,458.49 L208.47,458.76 L210.09,459.03 L211.70,459.29 L213.32,459.55 L214.93,459.80 L216.55,460.04 L218.16,460.28 L219.77,460.51 L221.39,460.74 L223.00,460.96 L224.62,461.18 L226.23,461.39 L227.84,461.59 L229.46,461.79 L231.07,461.98 L232.69,462.17 L234.30,462.36 L235.92,462.54 L237.53,462.72 L239.14,462.90 L240.76,463.08 L242.37,463.26 L243.99,463.43 L245.60,463.61 L247.21,463.80 L248.83,463.98 L250.44,464.17 L252.06,464.35 L253.67,464.54 L255.29,464.73 L256.90,464.91 L258.51,465.10 L260.13,465.29 L261.74,465.47 L263.36,465.66 L264.97,465.84 L266.58,466.02 L268.20,466.20 L269.81,466.39 L271.43,466.56 L273.04,466.74 L274.66,466.92 L276.27,467.09 L277.88,467.27 L279.50,467.44 L281.11,467.61 L282.73,467.79 L284.34,467.96 L285.95,468.13 L287.57,468.29 L289.18,468.46 L290.80,468.63 L292.41,468.80 L294.03,468.96 L295.64,469.12 L297.25,469.29 L298.87,469.45 L300.48,469.61 L302.10,469.77 L303.71,469.93" fill="none" stroke="#eb4d4f" stroke-width="1.1"/>
<polyline points="63.40,404.94 65.01,399.12 67.02,392.14 69.51,385.54" fill="none" stroke="#2f7de6" stroke-width="1" />
<polyline points="63.40,404.16 65.01,398.34 67.02,391.36 69.67,384.76" fill="none" stroke="#eb4d4f" stroke-width="1" />
<text transform="translate(84.90,379.10) scale(0.955,1)" x="0" y="0" font-size="15.6" text-anchor="start" fill="#eb4d4f">33.4K</text>
<line x1="96.90" y1="386.00" x2="91.60" y2="397.00" stroke="#eb4d4f" stroke-width="1.2" />
<polygon points="93.50,397.90 89.70,396.00 89.00,402.40" fill="#eb4d4f" stroke="none" stroke-width="1" />
<line x1="68.10" y1="464.80" x2="90.60" y2="464.80" stroke="#4a8ee8" stroke-width="1.7" />
<text x="93.20" y="468.60" font-size="14.5" text-anchor="start" fill="#000" font-weight="normal" font-style="normal" >MnO<tspan font-size="10" dy="3.5">2</tspan></text>
<line x1="68.10" y1="489.20" x2="90.60" y2="489.20" stroke="#ee6a6c" stroke-width="1.7" />
<text x="93.20" y="492.60" font-size="14.5" text-anchor="start" fill="#000" font-weight="normal" font-style="normal" >MnO<tspan font-size="10" dy="3.5">2</tspan><tspan dy="-3.5">/graphene</tspan></text>
<rect x="176.6" y="307" width="126.5" height="112.5" fill="#fff"/>
<line x1="176.60" y1="306.50" x2="176.60" y2="419.50" stroke="#333" stroke-width="1" />
<line x1="176.10" y1="419.50" x2="303.20" y2="419.50" stroke="#333" stroke-width="1" />
<line x1="174.10" y1="315.50" x2="176.60" y2="315.50" stroke="#333" stroke-width="1" />
<text x="173.30" y="319.40" font-size="11.5" text-anchor="end" fill="#000" font-weight="normal" font-style="normal" >10</text>
<line x1="174.10" y1="339.20" x2="176.60" y2="339.20" stroke="#333" stroke-width="1" />
<text x="173.30" y="343.10" font-size="11.5" text-anchor="end" fill="#000" font-weight="normal" font-style="normal" >5</text>
<line x1="174.10" y1="362.90" x2="176.60" y2="362.90" stroke="#333" stroke-width="1" />
<text x="173.30" y="366.80" font-size="11.5" text-anchor="end" fill="#000" font-weight="normal" font-style="normal" >0</text>
<line x1="174.10" y1="386.60" x2="176.60" y2="386.60" stroke="#333" stroke-width="1" />
<text x="173.30" y="390.50" font-size="11.5" text-anchor="end" fill="#000" font-weight="normal" font-style="normal" >-5</text>
<line x1="174.10" y1="410.30" x2="176.60" y2="410.30" stroke="#333" stroke-width="1" />
<text x="173.30" y="414.20" font-size="11.5" text-anchor="end" fill="#000" font-weight="normal" font-style="normal" >-10</text>
<line x1="175.10" y1="327.35" x2="176.60" y2="327.35" stroke="#333" stroke-width="0.8" />
<line x1="175.10" y1="351.05" x2="176.60" y2="351.05" stroke="#333" stroke-width="0.8" />
<line x1="175.10" y1="374.75" x2="176.60" y2="374.75" stroke="#333" stroke-width="0.8" />
<line x1="175.10" y1="398.45" x2="176.60" y2="398.45" stroke="#333" stroke-width="0.8" />
<line x1="176.60" y1="419.50" x2="176.60" y2="422.00" stroke="#333" stroke-width="1" />
<text x="176.60" y="431.80" font-size="11.5" text-anchor="middle" fill="#000" font-weight="normal" font-style="normal" >0</text>
<line x1="202.65" y1="419.50" x2="202.65" y2="422.00" stroke="#333" stroke-width="1" />
<text x="202.65" y="431.80" font-size="11.5" text-anchor="middle" fill="#000" font-weight="normal" font-style="normal" >25</text>
<line x1="228.70" y1="419.50" x2="228.70" y2="422.00" stroke="#333" stroke-width="1" />
<text x="228.70" y="431.80" font-size="11.5" text-anchor="middle" fill="#000" font-weight="normal" font-style="normal" >50</text>
<line x1="254.75" y1="419.50" x2="254.75" y2="422.00" stroke="#333" stroke-width="1" />
<text x="254.75" y="431.80" font-size="11.5" text-anchor="middle" fill="#000" font-weight="normal" font-style="normal" >75</text>
<line x1="280.80" y1="419.50" x2="280.80" y2="422.00" stroke="#333" stroke-width="1" />
<text x="280.80" y="431.80" font-size="11.5" text-anchor="middle" fill="#000" font-weight="normal" font-style="normal" >100</text>
<line x1="189.62" y1="419.50" x2="189.62" y2="421.00" stroke="#333" stroke-width="0.8" />
<line x1="215.68" y1="419.50" x2="215.68" y2="421.00" stroke="#333" stroke-width="0.8" />
<line x1="241.72" y1="419.50" x2="241.72" y2="421.00" stroke="#333" stroke-width="0.8" />
<line x1="267.77" y1="419.50" x2="267.77" y2="421.00" stroke="#333" stroke-width="0.8" />
<line x1="293.82" y1="419.50" x2="293.82" y2="421.00" stroke="#333" stroke-width="0.8" />
<text x="238.60" y="448.80" font-size="13.6" text-anchor="middle" fill="#000" font-weight="normal" font-style="normal" >Temperature (K)</text>
<text transform="translate(157.80,374.30) rotate(-90)" x="0" y="0" font-size="13.3" text-anchor="middle" fill="#000" ><tspan font-style="italic">dM</tspan>/<tspan font-style="italic">dT</tspan> (×10<tspan font-size="9" dy="-5">−5</tspan><tspan dy="5">emu/g K )</tspan></text>
<polyline points="177.90,340.81 179.41,332.42 181.50,336.59 183.58,337.78 185.14,336.59 185.67,363.85 186.29,398.45 186.81,406.03 187.75,399.87 189.94,391.34 193.06,384.70 197.34,379.49 202.65,377.12 212.03,375.22 224.74,371.91 242.04,369.30 259.96,367.40 280.80,366.12 302.68,364.80" fill="none" stroke="#2f7de6" stroke-width="1" />
<polyline points="177.90,367.17 181.29,367.40 184.62,368.11 185.56,372.38" fill="none" stroke="#2f7de6" stroke-width="1" />
<polyline points="177.90,342.04 179.20,333.51 180.77,337.30 182.33,330.67 183.58,323.08 184.10,334.46 184.62,337.78 185.46,367.64 186.29,393.71 187.23,388.97 188.90,374.75 190.67,369.54 193.06,367.64 196.19,368.11 198.48,369.06 201.50,370.48 204.73,371.43 207.76,372.38 210.99,373.09 214.11,373.33 214.89,373.92 215.68,373.14 216.46,372.67 217.24,371.74 218.02,372.48 218.80,371.39 219.58,375.41 220.36,373.12 221.15,370.64 221.93,371.84 222.71,370.45 223.49,374.00 224.27,372.15 225.05,373.05 225.83,371.49 226.62,371.20 227.40,373.72 228.18,372.62 228.96,372.19 229.74,369.04 230.52,369.63 231.31,372.38 232.09,369.24 232.87,372.24 233.65,369.86 234.43,372.07 235.21,372.55 235.99,368.32 236.78,371.35 237.56,371.22 238.34,367.48 239.12,367.90 239.90,370.57 240.68,367.28 241.46,369.18 242.25,368.43 243.03,370.58 243.81,366.99 244.59,368.08 245.37,366.68 246.15,366.93 246.94,369.66 247.72,369.27 248.50,370.11 249.28,370.12 250.06,370.41 250.84,369.21 251.62,367.69 252.41,370.45 253.19,367.17 253.97,368.71 254.75,368.76 255.53,366.28 256.31,367.81 257.09,368.52 257.88,367.66 258.66,366.54 259.44,369.54 260.22,365.13 261.00,369.58 261.78,366.08 262.56,365.57 263.35,369.44 264.13,365.74 264.91,367.68 265.69,366.63 266.47,369.28 267.25,369.05 268.04,368.37 268.82,364.65 269.60,365.08 270.38,367.42 271.16,362.28 271.94,360.63 272.72,367.32 273.51,367.23 274.29,366.38 275.07,365.15 275.85,368.27 276.63,365.19 277.41,364.91 278.19,374.28 278.98,374.28 279.76,364.07 280.54,368.08 281.32,366.85 282.10,365.52 282.88,364.01 283.67,366.71 284.45,363.89 285.23,365.64 286.01,366.69 286.79,366.63 287.57,367.24 288.35,367.66 289.14,367.28 289.92,364.67 290.70,363.17 291.48,367.08 292.26,367.57 293.04,363.07 293.82,365.17 294.61,365.73 295.39,366.48 296.17,364.74 296.95,363.60 297.73,365.30 298.51,365.42 299.30,367.11 300.08,362.98 300.86,367.12 301.64,364.89" fill="none" stroke="#eb4d4f" stroke-width="0.9" />
<polyline points="177.90,361.95 179.73,358.63 181.50,358.63 183.37,361.95 184.62,363.85 185.46,372.38" fill="none" stroke="#eb4d4f" stroke-width="0.9" />
<text transform="translate(198.60,404.90) scale(0.96,1)" x="0" y="0" font-size="14" text-anchor="start" fill="#eb4d4f">33.4K</text>
<line x1="211.30" y1="391.70" x2="211.30" y2="383.50" stroke="#eb4d4f" stroke-width="1.2" />
<polygon points="209.40,384.60 213.20,384.60 211.30,377.20" fill="#eb4d4f" stroke="none" stroke-width="1" />
<rect x="405.7" y="305.8" width="241.60" height="194.40" fill="none" stroke="#474747" stroke-width="1.4"/>
<line x1="401.80" y1="500.20" x2="405.70" y2="500.20" stroke="#474747" stroke-width="1.3" />
<text transform="translate(398.70,505.10) scale(0.91,1)" x="0" y="0" font-size="14.6" text-anchor="end" fill="#000">0</text>
<line x1="403.50" y1="467.80" x2="405.70" y2="467.80" stroke="#474747" stroke-width="1.1" />
<line x1="401.80" y1="435.40" x2="405.70" y2="435.40" stroke="#474747" stroke-width="1.3" />
<text transform="translate(398.70,440.30) scale(0.91,1)" x="0" y="0" font-size="14.6" text-anchor="end" fill="#000">100</text>
<line x1="403.50" y1="403.00" x2="405.70" y2="403.00" stroke="#474747" stroke-width="1.1" />
<line x1="401.80" y1="370.60" x2="405.70" y2="370.60" stroke="#474747" stroke-width="1.3" />
<text transform="translate(398.70,375.50) scale(0.91,1)" x="0" y="0" font-size="14.6" text-anchor="end" fill="#000">200</text>
<line x1="403.50" y1="338.20" x2="405.70" y2="338.20" stroke="#474747" stroke-width="1.1" />
<line x1="401.80" y1="305.80" x2="405.70" y2="305.80" stroke="#474747" stroke-width="1.3" />
<text transform="translate(398.70,310.70) scale(0.91,1)" x="0" y="0" font-size="14.6" text-anchor="end" fill="#000">300</text>
<line x1="409.30" y1="500.20" x2="409.30" y2="504.10" stroke="#474747" stroke-width="1.3" />
<text transform="translate(409.30,517.10) scale(0.91,1)" x="0" y="0" font-size="14.6" text-anchor="middle" fill="#000">0</text>
<line x1="428.83" y1="500.20" x2="428.83" y2="502.40" stroke="#474747" stroke-width="1.1" />
<line x1="448.37" y1="500.20" x2="448.37" y2="504.10" stroke="#474747" stroke-width="1.3" />
<text transform="translate(448.37,517.10) scale(0.91,1)" x="0" y="0" font-size="14.6" text-anchor="middle" fill="#000">50</text>
<line x1="467.90" y1="500.20" x2="467.90" y2="502.40" stroke="#474747" stroke-width="1.1" />
<line x1="487.43" y1="500.20" x2="487.43" y2="504.10" stroke="#474747" stroke-width="1.3" />
<text transform="translate(487.43,517.10) scale(0.91,1)" x="0" y="0" font-size="14.6" text-anchor="middle" fill="#000">100</text>
<line x1="506.96" y1="500.20" x2="506.96" y2="502.40" stroke="#474747" stroke-width="1.1" />
<line x1="526.50" y1="500.20" x2="526.50" y2="504.10" stroke="#474747" stroke-width="1.3" />
<text transform="translate(526.50,517.10) scale(0.91,1)" x="0" y="0" font-size="14.6" text-anchor="middle" fill="#000">150</text>
<line x1="546.03" y1="500.20" x2="546.03" y2="502.40" stroke="#474747" stroke-width="1.1" />
<line x1="565.56" y1="500.20" x2="565.56" y2="504.10" stroke="#474747" stroke-width="1.3" />
<text transform="translate(565.56,517.10) scale(0.91,1)" x="0" y="0" font-size="14.6" text-anchor="middle" fill="#000">200</text>
<line x1="585.09" y1="500.20" x2="585.09" y2="502.40" stroke="#474747" stroke-width="1.1" />
<line x1="604.62" y1="500.20" x2="604.62" y2="504.10" stroke="#474747" stroke-width="1.3" />
<text transform="translate(604.62,517.10) scale(0.91,1)" x="0" y="0" font-size="14.6" text-anchor="middle" fill="#000">250</text>
<line x1="624.16" y1="500.20" x2="624.16" y2="502.40" stroke="#474747" stroke-width="1.1" />
<line x1="643.69" y1="500.20" x2="643.69" y2="504.10" stroke="#474747" stroke-width="1.3" />
<text transform="translate(643.69,517.10) scale(0.91,1)" x="0" y="0" font-size="14.6" text-anchor="middle" fill="#000">300</text>
<text x="526.40" y="539.80" font-size="16" text-anchor="middle" fill="#000" font-weight="normal" font-style="normal" >Temperature (K)</text>
<text transform="translate(373.20,404.20) rotate(-90)" x="0" y="0" font-size="16.5" text-anchor="middle" fill="#000" >1/<tspan font-style="italic">χ</tspan>(mol.Oe/emu)</text>
<rect x="408.46" y="476.88" width="4.8" height="4.8" fill="none" stroke="#6aa2ee" stroke-width="0.9"/>
<rect x="410.42" y="477.86" width="4.8" height="4.8" fill="none" stroke="#6aa2ee" stroke-width="0.9"/>
<rect x="412.37" y="478.84" width="4.8" height="4.8" fill="none" stroke="#6aa2ee" stroke-width="0.9"/>
<rect x="414.32" y="479.29" width="4.8" height="4.8" fill="none" stroke="#6aa2ee" stroke-width="0.9"/>
<rect x="416.28" y="478.51" width="4.8" height="4.8" fill="none" stroke="#6aa2ee" stroke-width="0.9"/>
<rect x="418.23" y="477.43" width="4.8" height="4.8" fill="none" stroke="#6aa2ee" stroke-width="0.9"/>
<rect x="420.18" y="476.30" width="4.8" height="4.8" fill="none" stroke="#6aa2ee" stroke-width="0.9"/>
<rect x="422.14" y="475.16" width="4.8" height="4.8" fill="none" stroke="#6aa2ee" stroke-width="0.9"/>
<rect x="424.09" y="474.15" width="4.8" height="4.8" fill="none" stroke="#6aa2ee" stroke-width="0.9"/>
<rect x="426.04" y="473.17" width="4.8" height="4.8" fill="none" stroke="#6aa2ee" stroke-width="0.9"/>
<rect x="428.00" y="472.19" width="4.8" height="4.8" fill="none" stroke="#6aa2ee" stroke-width="0.9"/>
<rect x="429.95" y="471.22" width="4.8" height="4.8" fill="none" stroke="#6aa2ee" stroke-width="0.9"/>
<rect x="431.90" y="470.24" width="4.8" height="4.8" fill="none" stroke="#6aa2ee" stroke-width="0.9"/>
<rect x="433.85" y="469.26" width="4.8" height="4.8" fill="none" stroke="#6aa2ee" stroke-width="0.9"/>
<rect x="435.81" y="468.29" width="4.8" height="4.8" fill="none" stroke="#6aa2ee" stroke-width="0.9"/>
<rect x="437.76" y="467.31" width="4.8" height="4.8" fill="none" stroke="#6aa2ee" stroke-width="0.9"/>
<rect x="439.71" y="466.29" width="4.8" height="4.8" fill="none" stroke="#6aa2ee" stroke-width="0.9"/>
<rect x="441.67" y="465.27" width="4.8" height="4.8" fill="none" stroke="#6aa2ee" stroke-width="0.9"/>
<rect x="443.62" y="464.24" width="4.8" height="4.8" fill="none" stroke="#6aa2ee" stroke-width="0.9"/>
<rect x="445.57" y="463.22" width="4.8" height="4.8" fill="none" stroke="#6aa2ee" stroke-width="0.9"/>
<rect x="448.54" y="461.33" width="4.8" height="4.8" fill="none" stroke="#6aa2ee" stroke-width="0.9"/>
<rect x="451.12" y="460.10" width="4.8" height="4.8" fill="none" stroke="#6aa2ee" stroke-width="0.9"/>
<rect x="453.70" y="458.87" width="4.8" height="4.8" fill="none" stroke="#6aa2ee" stroke-width="0.9"/>
<rect x="456.28" y="457.65" width="4.8" height="4.8" fill="none" stroke="#6aa2ee" stroke-width="0.9"/>
<rect x="458.86" y="456.42" width="4.8" height="4.8" fill="none" stroke="#6aa2ee" stroke-width="0.9"/>
<rect x="461.43" y="455.19" width="4.8" height="4.8" fill="none" stroke="#6aa2ee" stroke-width="0.9"/>
<rect x="464.01" y="453.96" width="4.8" height="4.8" fill="none" stroke="#6aa2ee" stroke-width="0.9"/>
<rect x="466.59" y="452.74" width="4.8" height="4.8" fill="none" stroke="#6aa2ee" stroke-width="0.9"/>
<rect x="469.17" y="451.51" width="4.8" height="4.8" fill="none" stroke="#6aa2ee" stroke-width="0.9"/>
<rect x="471.75" y="450.28" width="4.8" height="4.8" fill="none" stroke="#6aa2ee" stroke-width="0.9"/>
<rect x="474.33" y="449.06" width="4.8" height="4.8" fill="none" stroke="#6aa2ee" stroke-width="0.9"/>
<rect x="476.90" y="447.83" width="4.8" height="4.8" fill="none" stroke="#6aa2ee" stroke-width="0.9"/>
<rect x="479.48" y="446.60" width="4.8" height="4.8" fill="none" stroke="#6aa2ee" stroke-width="0.9"/>
<rect x="482.06" y="445.37" width="4.8" height="4.8" fill="none" stroke="#6aa2ee" stroke-width="0.9"/>
<rect x="484.64" y="444.15" width="4.8" height="4.8" fill="none" stroke="#6aa2ee" stroke-width="0.9"/>
<rect x="487.22" y="442.92" width="4.8" height="4.8" fill="none" stroke="#6aa2ee" stroke-width="0.9"/>
<rect x="489.80" y="441.69" width="4.8" height="4.8" fill="none" stroke="#6aa2ee" stroke-width="0.9"/>
<rect x="492.37" y="440.47" width="4.8" height="4.8" fill="none" stroke="#6aa2ee" stroke-width="0.9"/>
<rect x="494.95" y="439.24" width="4.8" height="4.8" fill="none" stroke="#6aa2ee" stroke-width="0.9"/>
<rect x="497.53" y="438.01" width="4.8" height="4.8" fill="none" stroke="#6aa2ee" stroke-width="0.9"/>
<rect x="500.11" y="436.78" width="4.8" height="4.8" fill="none" stroke="#6aa2ee" stroke-width="0.9"/>
<rect x="502.69" y="435.56" width="4.8" height="4.8" fill="none" stroke="#6aa2ee" stroke-width="0.9"/>
<rect x="505.27" y="434.33" width="4.8" height="4.8" fill="none" stroke="#6aa2ee" stroke-width="0.9"/>
<rect x="507.84" y="433.10" width="4.8" height="4.8" fill="none" stroke="#6aa2ee" stroke-width="0.9"/>
<rect x="510.42" y="431.87" width="4.8" height="4.8" fill="none" stroke="#6aa2ee" stroke-width="0.9"/>
<rect x="513.00" y="430.65" width="4.8" height="4.8" fill="none" stroke="#6aa2ee" stroke-width="0.9"/>
<rect x="515.58" y="429.42" width="4.8" height="4.8" fill="none" stroke="#6aa2ee" stroke-width="0.9"/>
<rect x="518.16" y="428.19" width="4.8" height="4.8" fill="none" stroke="#6aa2ee" stroke-width="0.9"/>
<rect x="520.74" y="426.97" width="4.8" height="4.8" fill="none" stroke="#6aa2ee" stroke-width="0.9"/>
<rect x="523.31" y="425.74" width="4.8" height="4.8" fill="none" stroke="#6aa2ee" stroke-width="0.9"/>
<rect x="525.89" y="424.51" width="4.8" height="4.8" fill="none" stroke="#6aa2ee" stroke-width="0.9"/>
<rect x="528.47" y="423.28" width="4.8" height="4.8" fill="none" stroke="#6aa2ee" stroke-width="0.9"/>
<rect x="531.05" y="422.06" width="4.8" height="4.8" fill="none" stroke="#6aa2ee" stroke-width="0.9"/>
<rect x="533.63" y="420.83" width="4.8" height="4.8" fill="none" stroke="#6aa2ee" stroke-width="0.9"/>
<rect x="536.21" y="419.60" width="4.8" height="4.8" fill="none" stroke="#6aa2ee" stroke-width="0.9"/>
<rect x="538.78" y="418.37" width="4.8" height="4.8" fill="none" stroke="#6aa2ee" stroke-width="0.9"/>
<rect x="541.36" y="417.15" width="4.8" height="4.8" fill="none" stroke="#6aa2ee" stroke-width="0.9"/>
<rect x="543.94" y="415.92" width="4.8" height="4.8" fill="none" stroke="#6aa2ee" stroke-width="0.9"/>
<rect x="546.52" y="414.69" width="4.8" height="4.8" fill="none" stroke="#6aa2ee" stroke-width="0.9"/>
<rect x="549.10" y="413.47" width="4.8" height="4.8" fill="none" stroke="#6aa2ee" stroke-width="0.9"/>
<rect x="551.67" y="412.24" width="4.8" height="4.8" fill="none" stroke="#6aa2ee" stroke-width="0.9"/>
<rect x="554.25" y="411.01" width="4.8" height="4.8" fill="none" stroke="#6aa2ee" stroke-width="0.9"/>
<rect x="556.83" y="409.78" width="4.8" height="4.8" fill="none" stroke="#6aa2ee" stroke-width="0.9"/>
<rect x="559.41" y="408.56" width="4.8" height="4.8" fill="none" stroke="#6aa2ee" stroke-width="0.9"/>
<rect x="561.99" y="407.33" width="4.8" height="4.8" fill="none" stroke="#6aa2ee" stroke-width="0.9"/>
<rect x="564.57" y="406.10" width="4.8" height="4.8" fill="none" stroke="#6aa2ee" stroke-width="0.9"/>
<rect x="567.14" y="404.87" width="4.8" height="4.8" fill="none" stroke="#6aa2ee" stroke-width="0.9"/>
<rect x="569.72" y="403.65" width="4.8" height="4.8" fill="none" stroke="#6aa2ee" stroke-width="0.9"/>
<rect x="572.30" y="402.42" width="4.8" height="4.8" fill="none" stroke="#6aa2ee" stroke-width="0.9"/>
<rect x="574.88" y="401.19" width="4.8" height="4.8" fill="none" stroke="#6aa2ee" stroke-width="0.9"/>
<rect x="577.46" y="399.97" width="4.8" height="4.8" fill="none" stroke="#6aa2ee" stroke-width="0.9"/>
<rect x="580.04" y="398.74" width="4.8" height="4.8" fill="none" stroke="#6aa2ee" stroke-width="0.9"/>
<rect x="582.61" y="397.51" width="4.8" height="4.8" fill="none" stroke="#6aa2ee" stroke-width="0.9"/>
<rect x="585.19" y="396.28" width="4.8" height="4.8" fill="none" stroke="#6aa2ee" stroke-width="0.9"/>
<rect x="587.77" y="395.06" width="4.8" height="4.8" fill="none" stroke="#6aa2ee" stroke-width="0.9"/>
<rect x="590.35" y="393.83" width="4.8" height="4.8" fill="none" stroke="#6aa2ee" stroke-width="0.9"/>
<rect x="592.93" y="392.60" width="4.8" height="4.8" fill="none" stroke="#6aa2ee" stroke-width="0.9"/>
<rect x="595.51" y="391.38" width="4.8" height="4.8" fill="none" stroke="#6aa2ee" stroke-width="0.9"/>
<rect x="598.08" y="390.15" width="4.8" height="4.8" fill="none" stroke="#6aa2ee" stroke-width="0.9"/>
<rect x="600.66" y="388.92" width="4.8" height="4.8" fill="none" stroke="#6aa2ee" stroke-width="0.9"/>
<rect x="603.24" y="387.69" width="4.8" height="4.8" fill="none" stroke="#6aa2ee" stroke-width="0.9"/>
<rect x="605.82" y="386.47" width="4.8" height="4.8" fill="none" stroke="#6aa2ee" stroke-width="0.9"/>
<rect x="608.40" y="385.24" width="4.8" height="4.8" fill="none" stroke="#6aa2ee" stroke-width="0.9"/>
<rect x="610.98" y="384.01" width="4.8" height="4.8" fill="none" stroke="#6aa2ee" stroke-width="0.9"/>
<rect x="613.55" y="382.78" width="4.8" height="4.8" fill="none" stroke="#6aa2ee" stroke-width="0.9"/>
<rect x="616.13" y="381.56" width="4.8" height="4.8" fill="none" stroke="#6aa2ee" stroke-width="0.9"/>
<rect x="618.71" y="380.33" width="4.8" height="4.8" fill="none" stroke="#6aa2ee" stroke-width="0.9"/>
<rect x="621.29" y="379.10" width="4.8" height="4.8" fill="none" stroke="#6aa2ee" stroke-width="0.9"/>
<rect x="623.87" y="377.88" width="4.8" height="4.8" fill="none" stroke="#6aa2ee" stroke-width="0.9"/>
<rect x="626.45" y="376.65" width="4.8" height="4.8" fill="none" stroke="#6aa2ee" stroke-width="0.9"/>
<rect x="629.02" y="375.42" width="4.8" height="4.8" fill="none" stroke="#6aa2ee" stroke-width="0.9"/>
<rect x="631.60" y="374.19" width="4.8" height="4.8" fill="none" stroke="#6aa2ee" stroke-width="0.9"/>
<rect x="634.18" y="372.97" width="4.8" height="4.8" fill="none" stroke="#6aa2ee" stroke-width="0.9"/>
<rect x="636.76" y="371.74" width="4.8" height="4.8" fill="none" stroke="#6aa2ee" stroke-width="0.9"/>
<rect x="639.34" y="370.51" width="4.8" height="4.8" fill="none" stroke="#6aa2ee" stroke-width="0.9"/>
<rect x="641.92" y="369.28" width="4.8" height="4.8" fill="none" stroke="#6aa2ee" stroke-width="0.9"/>
<circle cx="410.86" cy="465.61" r="2.65" fill="none" stroke="#f27f83" stroke-width="0.9"/>
<circle cx="412.82" cy="467.24" r="2.65" fill="none" stroke="#f27f83" stroke-width="0.9"/>
<circle cx="414.77" cy="469.51" r="2.65" fill="none" stroke="#f27f83" stroke-width="0.9"/>
<circle cx="416.72" cy="470.49" r="2.65" fill="none" stroke="#f27f83" stroke-width="0.9"/>
<circle cx="418.68" cy="469.51" r="2.65" fill="none" stroke="#f27f83" stroke-width="0.9"/>
<circle cx="420.63" cy="468.97" r="2.65" fill="none" stroke="#f27f83" stroke-width="0.9"/>
<circle cx="422.58" cy="468.34" r="2.65" fill="none" stroke="#f27f83" stroke-width="0.9"/>
<circle cx="424.54" cy="467.69" r="2.65" fill="none" stroke="#f27f83" stroke-width="0.9"/>
<circle cx="426.49" cy="466.97" r="2.65" fill="none" stroke="#f27f83" stroke-width="0.9"/>
<circle cx="428.44" cy="466.24" r="2.65" fill="none" stroke="#f27f83" stroke-width="0.9"/>
<circle cx="430.40" cy="465.51" r="2.65" fill="none" stroke="#f27f83" stroke-width="0.9"/>
<circle cx="432.35" cy="464.78" r="2.65" fill="none" stroke="#f27f83" stroke-width="0.9"/>
<circle cx="434.30" cy="463.91" r="2.65" fill="none" stroke="#f27f83" stroke-width="0.9"/>
<circle cx="436.25" cy="463.02" r="2.65" fill="none" stroke="#f27f83" stroke-width="0.9"/>
<circle cx="438.21" cy="462.12" r="2.65" fill="none" stroke="#f27f83" stroke-width="0.9"/>
<circle cx="440.16" cy="461.23" r="2.65" fill="none" stroke="#f27f83" stroke-width="0.9"/>
<circle cx="442.11" cy="460.27" r="2.65" fill="none" stroke="#f27f83" stroke-width="0.9"/>
<circle cx="444.07" cy="459.29" r="2.65" fill="none" stroke="#f27f83" stroke-width="0.9"/>
<circle cx="446.02" cy="458.31" r="2.65" fill="none" stroke="#f27f83" stroke-width="0.9"/>
<circle cx="447.97" cy="457.34" r="2.65" fill="none" stroke="#f27f83" stroke-width="0.9"/>
<circle cx="450.94" cy="455.28" r="2.65" fill="none" stroke="#f27f83" stroke-width="0.9"/>
<circle cx="453.52" cy="453.74" r="2.65" fill="none" stroke="#f27f83" stroke-width="0.9"/>
<circle cx="456.10" cy="452.20" r="2.65" fill="none" stroke="#f27f83" stroke-width="0.9"/>
<circle cx="458.68" cy="450.66" r="2.65" fill="none" stroke="#f27f83" stroke-width="0.9"/>
<circle cx="461.26" cy="449.12" r="2.65" fill="none" stroke="#f27f83" stroke-width="0.9"/>
<circle cx="463.83" cy="447.58" r="2.65" fill="none" stroke="#f27f83" stroke-width="0.9"/>
<circle cx="466.41" cy="446.04" r="2.65" fill="none" stroke="#f27f83" stroke-width="0.9"/>
<circle cx="468.99" cy="444.50" r="2.65" fill="none" stroke="#f27f83" stroke-width="0.9"/>
<circle cx="471.57" cy="442.96" r="2.65" fill="none" stroke="#f27f83" stroke-width="0.9"/>
<circle cx="474.15" cy="441.43" r="2.65" fill="none" stroke="#f27f83" stroke-width="0.9"/>
<circle cx="476.73" cy="439.89" r="2.65" fill="none" stroke="#f27f83" stroke-width="0.9"/>
<circle cx="479.30" cy="438.35" r="2.65" fill="none" stroke="#f27f83" stroke-width="0.9"/>
<circle cx="481.88" cy="436.81" r="2.65" fill="none" stroke="#f27f83" stroke-width="0.9"/>
<circle cx="484.46" cy="435.27" r="2.65" fill="none" stroke="#f27f83" stroke-width="0.9"/>
<circle cx="487.04" cy="433.73" r="2.65" fill="none" stroke="#f27f83" stroke-width="0.9"/>
<circle cx="489.62" cy="432.19" r="2.65" fill="none" stroke="#f27f83" stroke-width="0.9"/>
<circle cx="492.20" cy="430.65" r="2.65" fill="none" stroke="#f27f83" stroke-width="0.9"/>
<circle cx="494.77" cy="429.11" r="2.65" fill="none" stroke="#f27f83" stroke-width="0.9"/>
<circle cx="497.35" cy="427.58" r="2.65" fill="none" stroke="#f27f83" stroke-width="0.9"/>
<circle cx="499.93" cy="426.04" r="2.65" fill="none" stroke="#f27f83" stroke-width="0.9"/>
<circle cx="502.51" cy="424.50" r="2.65" fill="none" stroke="#f27f83" stroke-width="0.9"/>
<circle cx="505.09" cy="422.96" r="2.65" fill="none" stroke="#f27f83" stroke-width="0.9"/>
<circle cx="507.67" cy="421.42" r="2.65" fill="none" stroke="#f27f83" stroke-width="0.9"/>
<circle cx="510.24" cy="419.88" r="2.65" fill="none" stroke="#f27f83" stroke-width="0.9"/>
<circle cx="512.82" cy="418.34" r="2.65" fill="none" stroke="#f27f83" stroke-width="0.9"/>
<circle cx="515.40" cy="416.80" r="2.65" fill="none" stroke="#f27f83" stroke-width="0.9"/>
<circle cx="517.98" cy="415.26" r="2.65" fill="none" stroke="#f27f83" stroke-width="0.9"/>
<circle cx="520.56" cy="413.73" r="2.65" fill="none" stroke="#f27f83" stroke-width="0.9"/>
<circle cx="523.14" cy="412.19" r="2.65" fill="none" stroke="#f27f83" stroke-width="0.9"/>
<circle cx="525.71" cy="410.65" r="2.65" fill="none" stroke="#f27f83" stroke-width="0.9"/>
<circle cx="528.29" cy="409.11" r="2.65" fill="none" stroke="#f27f83" stroke-width="0.9"/>
<circle cx="530.87" cy="407.57" r="2.65" fill="none" stroke="#f27f83" stroke-width="0.9"/>
<circle cx="533.45" cy="406.03" r="2.65" fill="none" stroke="#f27f83" stroke-width="0.9"/>
<circle cx="536.03" cy="404.49" r="2.65" fill="none" stroke="#f27f83" stroke-width="0.9"/>
<circle cx="538.61" cy="402.95" r="2.65" fill="none" stroke="#f27f83" stroke-width="0.9"/>
<circle cx="541.18" cy="401.41" r="2.65" fill="none" stroke="#f27f83" stroke-width="0.9"/>
<circle cx="543.76" cy="399.88" r="2.65" fill="none" stroke="#f27f83" stroke-width="0.9"/>
<circle cx="546.34" cy="398.34" r="2.65" fill="none" stroke="#f27f83" stroke-width="0.9"/>
<circle cx="548.92" cy="396.80" r="2.65" fill="none" stroke="#f27f83" stroke-width="0.9"/>
<circle cx="551.50" cy="395.26" r="2.65" fill="none" stroke="#f27f83" stroke-width="0.9"/>
<circle cx="554.07" cy="393.72" r="2.65" fill="none" stroke="#f27f83" stroke-width="0.9"/>
<circle cx="556.65" cy="392.18" r="2.65" fill="none" stroke="#f27f83" stroke-width="0.9"/>
<circle cx="559.23" cy="390.64" r="2.65" fill="none" stroke="#f27f83" stroke-width="0.9"/>
<circle cx="561.81" cy="389.10" r="2.65" fill="none" stroke="#f27f83" stroke-width="0.9"/>
<circle cx="564.39" cy="387.56" r="2.65" fill="none" stroke="#f27f83" stroke-width="0.9"/>
<circle cx="566.97" cy="386.03" r="2.65" fill="none" stroke="#f27f83" stroke-width="0.9"/>
<circle cx="569.54" cy="384.49" r="2.65" fill="none" stroke="#f27f83" stroke-width="0.9"/>
<circle cx="572.12" cy="382.95" r="2.65" fill="none" stroke="#f27f83" stroke-width="0.9"/>
<circle cx="574.70" cy="381.41" r="2.65" fill="none" stroke="#f27f83" stroke-width="0.9"/>
<circle cx="577.28" cy="379.87" r="2.65" fill="none" stroke="#f27f83" stroke-width="0.9"/>
<circle cx="579.86" cy="378.33" r="2.65" fill="none" stroke="#f27f83" stroke-width="0.9"/>
<circle cx="582.44" cy="376.79" r="2.65" fill="none" stroke="#f27f83" stroke-width="0.9"/>
<circle cx="585.01" cy="375.25" r="2.65" fill="none" stroke="#f27f83" stroke-width="0.9"/>
<circle cx="587.59" cy="373.71" r="2.65" fill="none" stroke="#f27f83" stroke-width="0.9"/>
<circle cx="590.17" cy="372.18" r="2.65" fill="none" stroke="#f27f83" stroke-width="0.9"/>
<circle cx="592.75" cy="370.64" r="2.65" fill="none" stroke="#f27f83" stroke-width="0.9"/>
<circle cx="595.33" cy="369.10" r="2.65" fill="none" stroke="#f27f83" stroke-width="0.9"/>
<circle cx="597.91" cy="367.56" r="2.65" fill="none" stroke="#f27f83" stroke-width="0.9"/>
<circle cx="600.48" cy="366.02" r="2.65" fill="none" stroke="#f27f83" stroke-width="0.9"/>
<circle cx="603.06" cy="364.48" r="2.65" fill="none" stroke="#f27f83" stroke-width="0.9"/>
<circle cx="605.64" cy="362.94" r="2.65" fill="none" stroke="#f27f83" stroke-width="0.9"/>
<circle cx="608.22" cy="361.40" r="2.65" fill="none" stroke="#f27f83" stroke-width="0.9"/>
<circle cx="610.80" cy="359.86" r="2.65" fill="none" stroke="#f27f83" stroke-width="0.9"/>
<circle cx="613.38" cy="358.33" r="2.65" fill="none" stroke="#f27f83" stroke-width="0.9"/>
<circle cx="615.95" cy="356.79" r="2.65" fill="none" stroke="#f27f83" stroke-width="0.9"/>
<circle cx="618.53" cy="355.25" r="2.65" fill="none" stroke="#f27f83" stroke-width="0.9"/>
<circle cx="621.11" cy="353.71" r="2.65" fill="none" stroke="#f27f83" stroke-width="0.9"/>
<circle cx="623.69" cy="352.17" r="2.65" fill="none" stroke="#f27f83" stroke-width="0.9"/>
<circle cx="626.27" cy="350.63" r="2.65" fill="none" stroke="#f27f83" stroke-width="0.9"/>
<circle cx="628.85" cy="349.09" r="2.65" fill="none" stroke="#f27f83" stroke-width="0.9"/>
<circle cx="631.42" cy="347.55" r="2.65" fill="none" stroke="#f27f83" stroke-width="0.9"/>
<circle cx="634.00" cy="346.01" r="2.65" fill="none" stroke="#f27f83" stroke-width="0.9"/>
<circle cx="636.58" cy="344.48" r="2.65" fill="none" stroke="#f27f83" stroke-width="0.9"/>
<circle cx="639.16" cy="342.94" r="2.65" fill="none" stroke="#f27f83" stroke-width="0.9"/>
<circle cx="641.74" cy="341.40" r="2.65" fill="none" stroke="#f27f83" stroke-width="0.9"/>
<circle cx="644.32" cy="339.86" r="2.65" fill="none" stroke="#f27f83" stroke-width="0.9"/>
<line x1="448.37" y1="464.96" x2="643.69" y2="371.98" stroke="#1f6fe0" stroke-width="1.8" />
<line x1="448.37" y1="456.81" x2="643.69" y2="340.23" stroke="#e8383d" stroke-width="1.8" />
<line x1="420.00" y1="324.90" x2="437.80" y2="324.90" stroke="#1f6fe0" stroke-width="2" />
<rect x="449.5" y="322.7" width="5" height="5" fill="none" stroke="#6aa2ee" stroke-width="1.2"/>
<text x="465.80" y="329.00" font-size="14.5" text-anchor="start" fill="#000" font-weight="normal" font-style="normal" >MnO<tspan font-size="10" dy="3.5">2</tspan></text>
<line x1="420.00" y1="348.10" x2="437.80" y2="348.10" stroke="#e8383d" stroke-width="2" />
<circle cx="452" cy="346.8" r="2.7" fill="none" stroke="#f27f83" stroke-width="1.2"/>
<text x="465.80" y="352.20" font-size="14.5" text-anchor="start" fill="#000" font-weight="normal" font-style="normal" >MnO<tspan font-size="10" dy="3.5">2</tspan><tspan dy="-3.5">/graphene</tspan></text>
<text x="0.00" y="17.40" font-size="26" text-anchor="start" fill="#000" font-weight="bold" font-style="normal" >a</text>
<text x="335.20" y="17.50" font-size="26" text-anchor="start" fill="#000" font-weight="bold" font-style="normal" >b</text>
<text x="0.10" y="309.50" font-size="26" text-anchor="start" fill="#000" font-weight="bold" font-style="normal" >c</text>
<text x="334.70" y="310.00" font-size="26" text-anchor="start" fill="#000" font-weight="bold" font-style="normal" >d</text>
</svg></body></html>
